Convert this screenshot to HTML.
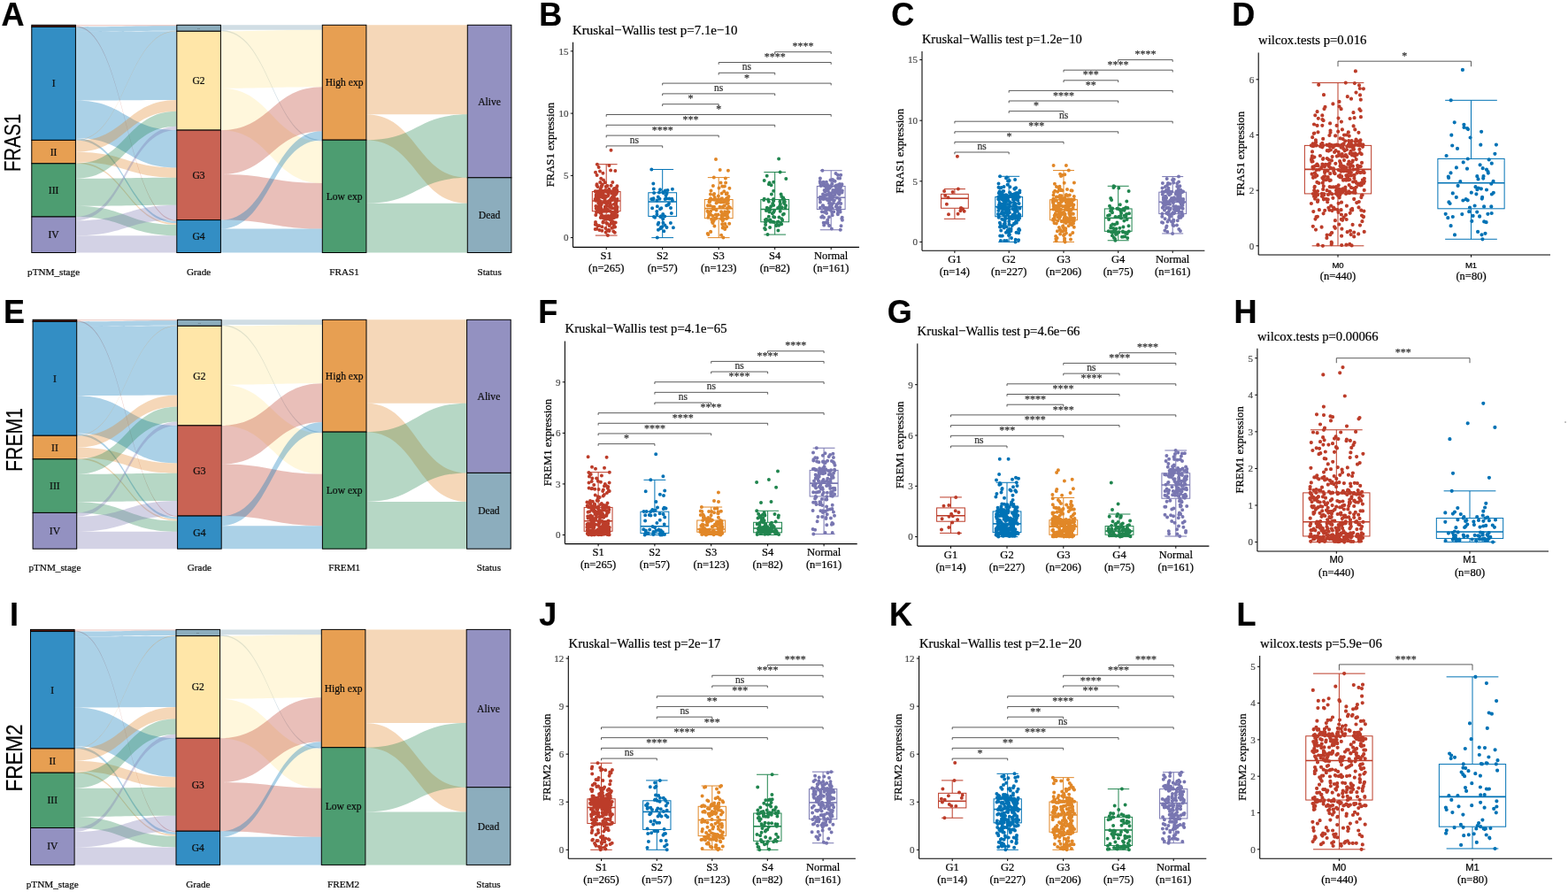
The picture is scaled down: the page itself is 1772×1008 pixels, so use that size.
<!DOCTYPE html>
<html><head><meta charset="utf-8"><title>Figure</title>
<style>html,body{margin:0;padding:0;background:#fff;}svg{display:block;}text{stroke:currentColor;stroke-width:0.22px;}</style></head>
<body><svg width="1772" height="1008" viewBox="0 0 1772 1008">
<rect width="1772" height="1008" fill="#fff"/>
<path d="M85.40,28.30 C142.60,28.30 142.60,28.30 199.80,28.30 L199.80,29.30 C142.60,29.30 142.60,29.30 85.40,29.30 Z" fill="#BC3C29" fill-opacity="0.33"/>
<path d="M85.40,29.30 C142.60,29.30 142.60,248.60 199.80,248.60 L199.80,249.70 C142.60,249.70 142.60,30.40 85.40,30.40 Z" fill="#BC3C29" fill-opacity="0.33"/>
<path d="M85.40,30.40 C142.60,30.40 142.60,29.30 199.80,29.30 L199.80,34.80 C142.60,34.80 142.60,35.90 85.40,35.90 Z" fill="#0072B5" fill-opacity="0.33"/>
<path d="M85.40,35.90 C142.60,35.90 142.60,35.30 199.80,35.30 L199.80,113.00 C142.60,113.00 142.60,113.60 85.40,113.60 Z" fill="#0072B5" fill-opacity="0.33"/>
<path d="M85.40,113.60 C142.60,113.60 142.60,147.10 199.80,147.10 L199.80,189.40 C142.60,189.40 142.60,155.90 85.40,155.90 Z" fill="#0072B5" fill-opacity="0.33"/>
<path d="M85.40,155.90 C142.60,155.90 142.60,249.70 199.80,249.70 L199.80,252.20 C142.60,252.20 142.60,158.40 85.40,158.40 Z" fill="#0072B5" fill-opacity="0.33"/>
<path d="M85.40,158.40 C142.60,158.40 142.60,34.80 199.80,34.80 L199.80,35.30 C142.60,35.30 142.60,158.90 85.40,158.90 Z" fill="#E18727" fill-opacity="0.33"/>
<path d="M85.40,158.90 C142.60,158.90 142.60,113.00 199.80,113.00 L199.80,125.80 C142.60,125.80 142.60,171.70 85.40,171.70 Z" fill="#E18727" fill-opacity="0.33"/>
<path d="M85.40,171.70 C142.60,171.70 142.60,189.40 199.80,189.40 L199.80,200.70 C142.60,200.70 142.60,183.00 85.40,183.00 Z" fill="#E18727" fill-opacity="0.33"/>
<path d="M85.40,183.00 C142.60,183.00 142.60,252.20 199.80,252.20 L199.80,254.00 C142.60,254.00 142.60,184.80 85.40,184.80 Z" fill="#E18727" fill-opacity="0.33"/>
<path d="M85.40,184.80 C142.60,184.80 142.60,125.80 199.80,125.80 L199.80,142.80 C142.60,142.80 142.60,201.80 85.40,201.80 Z" fill="#20854E" fill-opacity="0.33"/>
<path d="M85.40,201.80 C142.60,201.80 142.60,200.70 199.80,200.70 L199.80,231.70 C142.60,231.70 142.60,232.80 85.40,232.80 Z" fill="#20854E" fill-opacity="0.33"/>
<path d="M85.40,232.80 C142.60,232.80 142.60,254.00 199.80,254.00 L199.80,266.20 C142.60,266.20 142.60,245.00 85.40,245.00 Z" fill="#20854E" fill-opacity="0.33"/>
<path d="M85.40,245.00 C142.60,245.00 142.60,142.80 199.80,142.80 L199.80,147.10 C142.60,147.10 142.60,249.30 85.40,249.30 Z" fill="#7876B1" fill-opacity="0.33"/>
<path d="M85.40,249.30 C142.60,249.30 142.60,231.70 199.80,231.70 L199.80,248.60 C142.60,248.60 142.60,266.20 85.40,266.20 Z" fill="#7876B1" fill-opacity="0.33"/>
<path d="M85.40,266.20 C142.60,266.20 142.60,266.20 199.80,266.20 L199.80,285.50 C142.60,285.50 142.60,285.50 85.40,285.50 Z" fill="#7876B1" fill-opacity="0.33"/>
<path d="M249.40,28.30 C306.85,28.30 306.85,28.30 364.30,28.30 L364.30,33.80 C306.85,33.80 306.85,33.80 249.40,33.80 Z" fill="#6F99AD" fill-opacity="0.33"/>
<path d="M249.40,33.80 C306.85,33.80 306.85,158.20 364.30,158.20 L364.30,159.70 C306.85,159.70 306.85,35.30 249.40,35.30 Z" fill="#6F99AD" fill-opacity="0.33"/>
<path d="M249.40,35.30 C306.85,35.30 306.85,33.80 364.30,33.80 L364.30,98.20 C306.85,98.20 306.85,99.70 249.40,99.70 Z" fill="#FFE795" fill-opacity="0.33"/>
<path d="M249.40,99.70 C306.85,99.70 306.85,159.70 364.30,159.70 L364.30,207.10 C306.85,207.10 306.85,147.10 249.40,147.10 Z" fill="#FFE795" fill-opacity="0.33"/>
<path d="M249.40,147.10 C306.85,147.10 306.85,98.20 364.30,98.20 L364.30,148.20 C306.85,148.20 306.85,197.10 249.40,197.10 Z" fill="#BC3C29" fill-opacity="0.33"/>
<path d="M249.40,197.10 C306.85,197.10 306.85,207.10 364.30,207.10 L364.30,258.60 C306.85,258.60 306.85,248.60 249.40,248.60 Z" fill="#BC3C29" fill-opacity="0.33"/>
<path d="M249.40,248.60 C306.85,248.60 306.85,148.20 364.30,148.20 L364.30,158.20 C306.85,158.20 306.85,258.60 249.40,258.60 Z" fill="#0072B5" fill-opacity="0.33"/>
<path d="M249.40,258.60 C306.85,258.60 306.85,258.60 364.30,258.60 L364.30,285.50 C306.85,285.50 306.85,285.50 249.40,285.50 Z" fill="#0072B5" fill-opacity="0.33"/>
<path d="M413.90,28.30 C471.10,28.30 471.10,28.30 528.30,28.30 L528.30,129.30 C471.10,129.30 471.10,129.30 413.90,129.30 Z" fill="#E18727" fill-opacity="0.33"/>
<path d="M413.90,129.30 C471.10,129.30 471.10,200.80 528.30,200.80 L528.30,229.70 C471.10,229.70 471.10,158.20 413.90,158.20 Z" fill="#E18727" fill-opacity="0.33"/>
<path d="M413.90,158.20 C471.10,158.20 471.10,129.30 528.30,129.30 L528.30,200.80 C471.10,200.80 471.10,229.70 413.90,229.70 Z" fill="#20854E" fill-opacity="0.33"/>
<path d="M413.90,229.70 C471.10,229.70 471.10,229.70 528.30,229.70 L528.30,285.50 C471.10,285.50 471.10,285.50 413.90,285.50 Z" fill="#20854E" fill-opacity="0.33"/>
<rect x="35.80" y="28.30" width="49.60" height="2.10" fill="#5A1E14" stroke="#000" stroke-width="1"/>
<rect x="35.80" y="30.40" width="49.60" height="128.00" fill="#338EC4" stroke="#000" stroke-width="1"/>
<rect x="35.80" y="158.40" width="49.60" height="26.40" fill="#E79F52" stroke="#000" stroke-width="1"/>
<rect x="35.80" y="184.80" width="49.60" height="60.20" fill="#4D9D71" stroke="#000" stroke-width="1"/>
<rect x="35.80" y="245.00" width="49.60" height="40.50" fill="#9391C1" stroke="#000" stroke-width="1"/>
<text x="60.60" y="98.40" font-family="'Liberation Serif',serif" font-size="11.6" text-anchor="middle" fill="#111">I</text>
<text x="60.60" y="175.60" font-family="'Liberation Serif',serif" font-size="11.6" text-anchor="middle" fill="#111">II</text>
<text x="60.60" y="218.90" font-family="'Liberation Serif',serif" font-size="11.6" text-anchor="middle" fill="#111">III</text>
<text x="60.60" y="269.25" font-family="'Liberation Serif',serif" font-size="11.6" text-anchor="middle" fill="#111">IV</text>
<rect x="199.80" y="28.30" width="49.60" height="7.00" fill="#8CADBD" stroke="#000" stroke-width="1"/>
<rect x="199.80" y="35.30" width="49.60" height="111.80" fill="#FFE6A8" stroke="#000" stroke-width="1"/>
<rect x="199.80" y="147.10" width="49.60" height="101.50" fill="#C96354" stroke="#000" stroke-width="1"/>
<rect x="199.80" y="248.60" width="49.60" height="36.90" fill="#338EC4" stroke="#000" stroke-width="1"/>
<text x="224.60" y="32.60" font-family="'Liberation Serif',serif" font-size="2.5" text-anchor="middle" fill="#333" style="stroke:none">G1</text>
<text x="224.60" y="95.20" font-family="'Liberation Serif',serif" font-size="11.6" text-anchor="middle" fill="#111">G2</text>
<text x="224.60" y="201.85" font-family="'Liberation Serif',serif" font-size="11.6" text-anchor="middle" fill="#111">G3</text>
<text x="224.60" y="271.05" font-family="'Liberation Serif',serif" font-size="11.6" text-anchor="middle" fill="#111">G4</text>
<rect x="364.30" y="28.30" width="49.60" height="129.90" fill="#E79F52" stroke="#000" stroke-width="1"/>
<rect x="364.30" y="158.20" width="49.60" height="127.30" fill="#4D9D71" stroke="#000" stroke-width="1"/>
<text x="389.10" y="97.25" font-family="'Liberation Serif',serif" font-size="11.6" text-anchor="middle" fill="#111">High exp</text>
<text x="389.10" y="225.85" font-family="'Liberation Serif',serif" font-size="11.6" text-anchor="middle" fill="#111">Low exp</text>
<rect x="528.30" y="28.30" width="49.60" height="172.50" fill="#9391C1" stroke="#000" stroke-width="1"/>
<rect x="528.30" y="200.80" width="49.60" height="84.70" fill="#8CADBD" stroke="#000" stroke-width="1"/>
<text x="553.10" y="118.55" font-family="'Liberation Serif',serif" font-size="11.6" text-anchor="middle" fill="#111">Alive</text>
<text x="553.10" y="247.15" font-family="'Liberation Serif',serif" font-size="11.6" text-anchor="middle" fill="#111">Dead</text>
<text x="60.60" y="310.80" font-family="'Liberation Serif',serif" font-size="11.2" text-anchor="middle" fill="#111">pTNM_stage</text>
<text x="224.60" y="310.80" font-family="'Liberation Serif',serif" font-size="11.2" text-anchor="middle" fill="#111">Grade</text>
<text x="389.10" y="310.80" font-family="'Liberation Serif',serif" font-size="11.2" text-anchor="middle" fill="#111">FRAS1</text>
<text x="553.10" y="310.80" font-family="'Liberation Serif',serif" font-size="11.2" text-anchor="middle" fill="#111">Status</text>
<path d="M86.70,361.30 C143.65,361.30 143.65,361.30 200.60,361.30 L200.60,362.31 C143.65,362.31 143.65,362.31 86.70,362.31 Z" fill="#BC3C29" fill-opacity="0.33"/>
<path d="M86.70,362.31 C143.65,362.31 143.65,583.06 200.60,583.06 L200.60,584.16 C143.65,584.16 143.65,363.41 86.70,363.41 Z" fill="#BC3C29" fill-opacity="0.33"/>
<path d="M86.70,363.41 C143.65,363.41 143.65,362.31 200.60,362.31 L200.60,367.84 C143.65,367.84 143.65,368.95 86.70,368.95 Z" fill="#0072B5" fill-opacity="0.33"/>
<path d="M86.70,368.95 C143.65,368.95 143.65,368.35 200.60,368.35 L200.60,446.56 C143.65,446.56 143.65,447.16 86.70,447.16 Z" fill="#0072B5" fill-opacity="0.33"/>
<path d="M86.70,447.16 C143.65,447.16 143.65,480.89 200.60,480.89 L200.60,523.46 C143.65,523.46 143.65,489.74 86.70,489.74 Z" fill="#0072B5" fill-opacity="0.33"/>
<path d="M86.70,489.74 C143.65,489.74 143.65,584.16 200.60,584.16 L200.60,586.68 C143.65,586.68 143.65,492.26 86.70,492.26 Z" fill="#0072B5" fill-opacity="0.33"/>
<path d="M86.70,492.26 C143.65,492.26 143.65,367.84 200.60,367.84 L200.60,368.35 C143.65,368.35 143.65,492.76 86.70,492.76 Z" fill="#E18727" fill-opacity="0.33"/>
<path d="M86.70,492.76 C143.65,492.76 143.65,446.56 200.60,446.56 L200.60,459.44 C143.65,459.44 143.65,505.65 86.70,505.65 Z" fill="#E18727" fill-opacity="0.33"/>
<path d="M86.70,505.65 C143.65,505.65 143.65,523.46 200.60,523.46 L200.60,534.84 C143.65,534.84 143.65,517.02 86.70,517.02 Z" fill="#E18727" fill-opacity="0.33"/>
<path d="M86.70,517.02 C143.65,517.02 143.65,586.68 200.60,586.68 L200.60,588.49 C143.65,588.49 143.65,518.83 86.70,518.83 Z" fill="#E18727" fill-opacity="0.33"/>
<path d="M86.70,518.83 C143.65,518.83 143.65,459.44 200.60,459.44 L200.60,476.56 C143.65,476.56 143.65,535.95 86.70,535.95 Z" fill="#20854E" fill-opacity="0.33"/>
<path d="M86.70,535.95 C143.65,535.95 143.65,534.84 200.60,534.84 L200.60,566.04 C143.65,566.04 143.65,567.15 86.70,567.15 Z" fill="#20854E" fill-opacity="0.33"/>
<path d="M86.70,567.15 C143.65,567.15 143.65,588.49 200.60,588.49 L200.60,600.77 C143.65,600.77 143.65,579.43 86.70,579.43 Z" fill="#20854E" fill-opacity="0.33"/>
<path d="M86.70,579.43 C143.65,579.43 143.65,476.56 200.60,476.56 L200.60,480.89 C143.65,480.89 143.65,583.76 86.70,583.76 Z" fill="#7876B1" fill-opacity="0.33"/>
<path d="M86.70,583.76 C143.65,583.76 143.65,566.04 200.60,566.04 L200.60,583.06 C143.65,583.06 143.65,600.77 86.70,600.77 Z" fill="#7876B1" fill-opacity="0.33"/>
<path d="M86.70,600.77 C143.65,600.77 143.65,600.77 200.60,600.77 L200.60,620.20 C143.65,620.20 143.65,620.20 86.70,620.20 Z" fill="#7876B1" fill-opacity="0.33"/>
<path d="M250.20,361.30 C307.30,361.30 307.30,361.30 364.40,361.30 L364.40,366.94 C307.30,366.94 307.30,366.94 250.20,366.94 Z" fill="#6F99AD" fill-opacity="0.33"/>
<path d="M250.20,366.94 C307.30,366.94 307.30,488.14 364.40,488.14 L364.40,489.55 C307.30,489.55 307.30,368.35 250.20,368.35 Z" fill="#6F99AD" fill-opacity="0.33"/>
<path d="M250.20,368.35 C307.30,368.35 307.30,366.94 364.40,366.94 L364.40,433.34 C307.30,433.34 307.30,434.75 250.20,434.75 Z" fill="#FFE795" fill-opacity="0.33"/>
<path d="M250.20,434.75 C307.30,434.75 307.30,489.55 364.40,489.55 L364.40,535.69 C307.30,535.69 307.30,480.89 250.20,480.89 Z" fill="#FFE795" fill-opacity="0.33"/>
<path d="M250.20,480.89 C307.30,480.89 307.30,433.34 364.40,433.34 L364.40,477.03 C307.30,477.03 307.30,524.57 250.20,524.57 Z" fill="#BC3C29" fill-opacity="0.33"/>
<path d="M250.20,524.57 C307.30,524.57 307.30,535.69 364.40,535.69 L364.40,594.17 C307.30,594.17 307.30,583.06 250.20,583.06 Z" fill="#BC3C29" fill-opacity="0.33"/>
<path d="M250.20,583.06 C307.30,583.06 307.30,477.03 364.40,477.03 L364.40,488.14 C307.30,488.14 307.30,594.17 250.20,594.17 Z" fill="#0072B5" fill-opacity="0.33"/>
<path d="M250.20,594.17 C307.30,594.17 307.30,594.17 364.40,594.17 L364.40,620.20 C307.30,620.20 307.30,620.20 250.20,620.20 Z" fill="#0072B5" fill-opacity="0.33"/>
<path d="M414.00,361.30 C470.80,361.30 470.80,361.30 527.60,361.30 L527.60,455.66 C470.80,455.66 470.80,455.66 414.00,455.66 Z" fill="#E18727" fill-opacity="0.33"/>
<path d="M414.00,455.66 C470.80,455.66 470.80,534.41 527.60,534.41 L527.60,566.89 C470.80,566.89 470.80,488.14 414.00,488.14 Z" fill="#E18727" fill-opacity="0.33"/>
<path d="M414.00,488.14 C470.80,488.14 470.80,455.66 527.60,455.66 L527.60,534.41 C470.80,534.41 470.80,566.89 414.00,566.89 Z" fill="#20854E" fill-opacity="0.33"/>
<path d="M414.00,566.89 C470.80,566.89 470.80,566.89 527.60,566.89 L527.60,620.20 C470.80,620.20 470.80,620.20 414.00,620.20 Z" fill="#20854E" fill-opacity="0.33"/>
<rect x="37.10" y="361.30" width="49.60" height="2.11" fill="#5A1E14" stroke="#000" stroke-width="1"/>
<rect x="37.10" y="363.41" width="49.60" height="128.85" fill="#338EC4" stroke="#000" stroke-width="1"/>
<rect x="37.10" y="492.26" width="49.60" height="26.57" fill="#E79F52" stroke="#000" stroke-width="1"/>
<rect x="37.10" y="518.83" width="49.60" height="60.60" fill="#4D9D71" stroke="#000" stroke-width="1"/>
<rect x="37.10" y="579.43" width="49.60" height="40.77" fill="#9391C1" stroke="#000" stroke-width="1"/>
<text x="61.90" y="431.84" font-family="'Liberation Serif',serif" font-size="11.6" text-anchor="middle" fill="#111">I</text>
<text x="61.90" y="509.55" font-family="'Liberation Serif',serif" font-size="11.6" text-anchor="middle" fill="#111">II</text>
<text x="61.90" y="553.13" font-family="'Liberation Serif',serif" font-size="11.6" text-anchor="middle" fill="#111">III</text>
<text x="61.90" y="603.82" font-family="'Liberation Serif',serif" font-size="11.6" text-anchor="middle" fill="#111">IV</text>
<rect x="200.60" y="361.30" width="49.60" height="7.05" fill="#8CADBD" stroke="#000" stroke-width="1"/>
<rect x="200.60" y="368.35" width="49.60" height="112.54" fill="#FFE6A8" stroke="#000" stroke-width="1"/>
<rect x="200.60" y="480.89" width="49.60" height="102.17" fill="#C96354" stroke="#000" stroke-width="1"/>
<rect x="200.60" y="583.06" width="49.60" height="37.14" fill="#338EC4" stroke="#000" stroke-width="1"/>
<text x="225.40" y="365.62" font-family="'Liberation Serif',serif" font-size="2.5" text-anchor="middle" fill="#333" style="stroke:none">G1</text>
<text x="225.40" y="428.62" font-family="'Liberation Serif',serif" font-size="11.6" text-anchor="middle" fill="#111">G2</text>
<text x="225.40" y="535.97" font-family="'Liberation Serif',serif" font-size="11.6" text-anchor="middle" fill="#111">G3</text>
<text x="225.40" y="605.63" font-family="'Liberation Serif',serif" font-size="11.6" text-anchor="middle" fill="#111">G4</text>
<rect x="364.40" y="361.30" width="49.60" height="126.84" fill="#E79F52" stroke="#000" stroke-width="1"/>
<rect x="364.40" y="488.14" width="49.60" height="132.06" fill="#4D9D71" stroke="#000" stroke-width="1"/>
<text x="389.20" y="428.72" font-family="'Liberation Serif',serif" font-size="11.6" text-anchor="middle" fill="#111">High exp</text>
<text x="389.20" y="558.17" font-family="'Liberation Serif',serif" font-size="11.6" text-anchor="middle" fill="#111">Low exp</text>
<rect x="527.60" y="361.30" width="49.60" height="173.11" fill="#9391C1" stroke="#000" stroke-width="1"/>
<rect x="527.60" y="534.41" width="49.60" height="85.79" fill="#8CADBD" stroke="#000" stroke-width="1"/>
<text x="552.40" y="451.86" font-family="'Liberation Serif',serif" font-size="11.6" text-anchor="middle" fill="#111">Alive</text>
<text x="552.40" y="581.31" font-family="'Liberation Serif',serif" font-size="11.6" text-anchor="middle" fill="#111">Dead</text>
<text x="61.90" y="645.00" font-family="'Liberation Serif',serif" font-size="11.2" text-anchor="middle" fill="#111">pTNM_stage</text>
<text x="225.40" y="645.00" font-family="'Liberation Serif',serif" font-size="11.2" text-anchor="middle" fill="#111">Grade</text>
<text x="389.20" y="645.00" font-family="'Liberation Serif',serif" font-size="11.2" text-anchor="middle" fill="#111">FREM1</text>
<text x="552.40" y="645.00" font-family="'Liberation Serif',serif" font-size="11.2" text-anchor="middle" fill="#111">Status</text>
<path d="M84.10,711.40 C141.55,711.40 141.55,711.40 199.00,711.40 L199.00,712.43 C141.55,712.43 141.55,712.43 84.10,712.43 Z" fill="#BC3C29" fill-opacity="0.33"/>
<path d="M84.10,712.43 C141.55,712.43 141.55,939.24 199.00,939.24 L199.00,940.38 C141.55,940.38 141.55,713.57 84.10,713.57 Z" fill="#BC3C29" fill-opacity="0.33"/>
<path d="M84.10,713.57 C141.55,713.57 141.55,712.43 199.00,712.43 L199.00,718.12 C141.55,718.12 141.55,719.26 84.10,719.26 Z" fill="#0072B5" fill-opacity="0.33"/>
<path d="M84.10,719.26 C141.55,719.26 141.55,718.64 199.00,718.64 L199.00,799.00 C141.55,799.00 141.55,799.62 84.10,799.62 Z" fill="#0072B5" fill-opacity="0.33"/>
<path d="M84.10,799.62 C141.55,799.62 141.55,834.26 199.00,834.26 L199.00,878.01 C141.55,878.01 141.55,843.37 84.10,843.37 Z" fill="#0072B5" fill-opacity="0.33"/>
<path d="M84.10,843.37 C141.55,843.37 141.55,940.38 199.00,940.38 L199.00,942.96 C141.55,942.96 141.55,845.95 84.10,845.95 Z" fill="#0072B5" fill-opacity="0.33"/>
<path d="M84.10,845.95 C141.55,845.95 141.55,718.12 199.00,718.12 L199.00,718.64 C141.55,718.64 141.55,846.47 84.10,846.47 Z" fill="#E18727" fill-opacity="0.33"/>
<path d="M84.10,846.47 C141.55,846.47 141.55,799.00 199.00,799.00 L199.00,812.24 C141.55,812.24 141.55,859.71 84.10,859.71 Z" fill="#E18727" fill-opacity="0.33"/>
<path d="M84.10,859.71 C141.55,859.71 141.55,878.01 199.00,878.01 L199.00,889.70 C141.55,889.70 141.55,871.39 84.10,871.39 Z" fill="#E18727" fill-opacity="0.33"/>
<path d="M84.10,871.39 C141.55,871.39 141.55,942.96 199.00,942.96 L199.00,944.82 C141.55,944.82 141.55,873.25 84.10,873.25 Z" fill="#E18727" fill-opacity="0.33"/>
<path d="M84.10,873.25 C141.55,873.25 141.55,812.24 199.00,812.24 L199.00,829.82 C141.55,829.82 141.55,890.84 84.10,890.84 Z" fill="#20854E" fill-opacity="0.33"/>
<path d="M84.10,890.84 C141.55,890.84 141.55,889.70 199.00,889.70 L199.00,921.76 C141.55,921.76 141.55,922.90 84.10,922.90 Z" fill="#20854E" fill-opacity="0.33"/>
<path d="M84.10,922.90 C141.55,922.90 141.55,944.82 199.00,944.82 L199.00,957.44 C141.55,957.44 141.55,935.51 84.10,935.51 Z" fill="#20854E" fill-opacity="0.33"/>
<path d="M84.10,935.51 C141.55,935.51 141.55,829.82 199.00,829.82 L199.00,834.26 C141.55,834.26 141.55,939.96 84.10,939.96 Z" fill="#7876B1" fill-opacity="0.33"/>
<path d="M84.10,939.96 C141.55,939.96 141.55,921.76 199.00,921.76 L199.00,939.24 C141.55,939.24 141.55,957.44 84.10,957.44 Z" fill="#7876B1" fill-opacity="0.33"/>
<path d="M84.10,957.44 C141.55,957.44 141.55,957.44 199.00,957.44 L199.00,977.40 C141.55,977.40 141.55,977.40 84.10,977.40 Z" fill="#7876B1" fill-opacity="0.33"/>
<path d="M248.60,711.40 C305.95,711.40 305.95,711.40 363.30,711.40 L363.30,717.23 C305.95,717.23 305.95,717.23 248.60,717.23 Z" fill="#6F99AD" fill-opacity="0.33"/>
<path d="M248.60,717.23 C305.95,717.23 305.95,844.71 363.30,844.71 L363.30,846.11 C305.95,846.11 305.95,718.64 248.60,718.64 Z" fill="#6F99AD" fill-opacity="0.33"/>
<path d="M248.60,718.64 C305.95,718.64 305.95,717.23 363.30,717.23 L363.30,788.33 C305.95,788.33 305.95,789.74 248.60,789.74 Z" fill="#FFE795" fill-opacity="0.33"/>
<path d="M248.60,789.74 C305.95,789.74 305.95,846.11 363.30,846.11 L363.30,890.64 C305.95,890.64 305.95,834.26 248.60,834.26 Z" fill="#FFE795" fill-opacity="0.33"/>
<path d="M248.60,834.26 C305.95,834.26 305.95,788.33 363.30,788.33 L363.30,838.16 C305.95,838.16 305.95,884.09 248.60,884.09 Z" fill="#BC3C29" fill-opacity="0.33"/>
<path d="M248.60,884.09 C305.95,884.09 305.95,890.64 363.30,890.64 L363.30,945.78 C305.95,945.78 305.95,939.24 248.60,939.24 Z" fill="#BC3C29" fill-opacity="0.33"/>
<path d="M248.60,939.24 C305.95,939.24 305.95,838.16 363.30,838.16 L363.30,844.71 C305.95,844.71 305.95,945.78 248.60,945.78 Z" fill="#0072B5" fill-opacity="0.33"/>
<path d="M248.60,945.78 C305.95,945.78 305.95,945.78 363.30,945.78 L363.30,977.40 C305.95,977.40 305.95,977.40 248.60,977.40 Z" fill="#0072B5" fill-opacity="0.33"/>
<path d="M412.90,711.40 C470.05,711.40 470.05,711.40 527.20,711.40 L527.20,817.01 C470.05,817.01 470.05,817.01 412.90,817.01 Z" fill="#E18727" fill-opacity="0.33"/>
<path d="M412.90,817.01 C470.05,817.01 470.05,889.69 527.20,889.69 L527.20,917.39 C470.05,917.39 470.05,844.71 412.90,844.71 Z" fill="#E18727" fill-opacity="0.33"/>
<path d="M412.90,844.71 C470.05,844.71 470.05,817.01 527.20,817.01 L527.20,889.69 C470.05,889.69 470.05,917.39 412.90,917.39 Z" fill="#20854E" fill-opacity="0.33"/>
<path d="M412.90,917.39 C470.05,917.39 470.05,917.39 527.20,917.39 L527.20,977.40 C470.05,977.40 470.05,977.40 412.90,977.40 Z" fill="#20854E" fill-opacity="0.33"/>
<rect x="34.50" y="711.40" width="49.60" height="2.17" fill="#5A1E14" stroke="#000" stroke-width="1"/>
<rect x="34.50" y="713.57" width="49.60" height="132.38" fill="#338EC4" stroke="#000" stroke-width="1"/>
<rect x="34.50" y="845.95" width="49.60" height="27.30" fill="#E79F52" stroke="#000" stroke-width="1"/>
<rect x="34.50" y="873.25" width="49.60" height="62.26" fill="#4D9D71" stroke="#000" stroke-width="1"/>
<rect x="34.50" y="935.51" width="49.60" height="41.89" fill="#9391C1" stroke="#000" stroke-width="1"/>
<text x="59.30" y="783.76" font-family="'Liberation Serif',serif" font-size="11.6" text-anchor="middle" fill="#111">I</text>
<text x="59.30" y="863.60" font-family="'Liberation Serif',serif" font-size="11.6" text-anchor="middle" fill="#111">II</text>
<text x="59.30" y="908.38" font-family="'Liberation Serif',serif" font-size="11.6" text-anchor="middle" fill="#111">III</text>
<text x="59.30" y="960.46" font-family="'Liberation Serif',serif" font-size="11.6" text-anchor="middle" fill="#111">IV</text>
<rect x="199.00" y="711.40" width="49.60" height="7.24" fill="#8CADBD" stroke="#000" stroke-width="1"/>
<rect x="199.00" y="718.64" width="49.60" height="115.63" fill="#FFE6A8" stroke="#000" stroke-width="1"/>
<rect x="199.00" y="834.26" width="49.60" height="104.97" fill="#C96354" stroke="#000" stroke-width="1"/>
<rect x="199.00" y="939.24" width="49.60" height="38.16" fill="#338EC4" stroke="#000" stroke-width="1"/>
<text x="223.80" y="715.82" font-family="'Liberation Serif',serif" font-size="2.5" text-anchor="middle" fill="#333" style="stroke:none">G1</text>
<text x="223.80" y="780.45" font-family="'Liberation Serif',serif" font-size="11.6" text-anchor="middle" fill="#111">G2</text>
<text x="223.80" y="890.75" font-family="'Liberation Serif',serif" font-size="11.6" text-anchor="middle" fill="#111">G3</text>
<text x="223.80" y="962.32" font-family="'Liberation Serif',serif" font-size="11.6" text-anchor="middle" fill="#111">G4</text>
<rect x="363.30" y="711.40" width="49.60" height="133.31" fill="#E79F52" stroke="#000" stroke-width="1"/>
<rect x="363.30" y="844.71" width="49.60" height="132.69" fill="#4D9D71" stroke="#000" stroke-width="1"/>
<text x="388.10" y="782.05" font-family="'Liberation Serif',serif" font-size="11.6" text-anchor="middle" fill="#111">High exp</text>
<text x="388.10" y="915.05" font-family="'Liberation Serif',serif" font-size="11.6" text-anchor="middle" fill="#111">Low exp</text>
<rect x="527.20" y="711.40" width="49.60" height="178.29" fill="#9391C1" stroke="#000" stroke-width="1"/>
<rect x="527.20" y="889.69" width="49.60" height="87.71" fill="#8CADBD" stroke="#000" stroke-width="1"/>
<text x="552.00" y="804.55" font-family="'Liberation Serif',serif" font-size="11.6" text-anchor="middle" fill="#111">Alive</text>
<text x="552.00" y="937.55" font-family="'Liberation Serif',serif" font-size="11.6" text-anchor="middle" fill="#111">Dead</text>
<text x="59.30" y="1002.80" font-family="'Liberation Serif',serif" font-size="11.2" text-anchor="middle" fill="#111">pTNM_stage</text>
<text x="223.80" y="1002.80" font-family="'Liberation Serif',serif" font-size="11.2" text-anchor="middle" fill="#111">Grade</text>
<text x="388.10" y="1002.80" font-family="'Liberation Serif',serif" font-size="11.2" text-anchor="middle" fill="#111">FREM2</text>
<text x="552.00" y="1002.80" font-family="'Liberation Serif',serif" font-size="11.2" text-anchor="middle" fill="#111">Status</text>
<line x1="685.20" y1="185.71" x2="685.20" y2="216.47" stroke="#BC3C29" stroke-width="1"/>
<line x1="685.20" y1="238.67" x2="685.20" y2="266.07" stroke="#BC3C29" stroke-width="1"/>
<line x1="672.82" y1="185.71" x2="697.58" y2="185.71" stroke="#BC3C29" stroke-width="1"/>
<line x1="672.82" y1="266.07" x2="697.58" y2="266.07" stroke="#BC3C29" stroke-width="1"/>
<rect x="669.33" y="216.47" width="31.75" height="22.20" fill="#fff" stroke="#BC3C29" stroke-width="1"/>
<line x1="669.33" y1="227.01" x2="701.08" y2="227.01" stroke="#BC3C29" stroke-width="1.6"/>
<line x1="748.70" y1="191.47" x2="748.70" y2="217.74" stroke="#0072B5" stroke-width="1"/>
<line x1="748.70" y1="244.43" x2="748.70" y2="268.60" stroke="#0072B5" stroke-width="1"/>
<line x1="736.32" y1="191.47" x2="761.08" y2="191.47" stroke="#0072B5" stroke-width="1"/>
<line x1="736.32" y1="268.60" x2="761.08" y2="268.60" stroke="#0072B5" stroke-width="1"/>
<rect x="732.83" y="217.74" width="31.75" height="26.69" fill="#fff" stroke="#0072B5" stroke-width="1"/>
<line x1="732.83" y1="228.00" x2="764.58" y2="228.00" stroke="#0072B5" stroke-width="1.6"/>
<line x1="812.20" y1="200.60" x2="812.20" y2="225.47" stroke="#E18727" stroke-width="1"/>
<line x1="812.20" y1="246.68" x2="812.20" y2="268.60" stroke="#E18727" stroke-width="1"/>
<line x1="799.82" y1="200.60" x2="824.58" y2="200.60" stroke="#E18727" stroke-width="1"/>
<line x1="799.82" y1="268.60" x2="824.58" y2="268.60" stroke="#E18727" stroke-width="1"/>
<rect x="796.33" y="225.47" width="31.75" height="21.22" fill="#fff" stroke="#E18727" stroke-width="1"/>
<line x1="796.33" y1="235.58" x2="828.08" y2="235.58" stroke="#E18727" stroke-width="1.6"/>
<line x1="875.70" y1="194.56" x2="875.70" y2="225.47" stroke="#20854E" stroke-width="1"/>
<line x1="875.70" y1="250.76" x2="875.70" y2="265.09" stroke="#20854E" stroke-width="1"/>
<line x1="863.32" y1="194.56" x2="888.08" y2="194.56" stroke="#20854E" stroke-width="1"/>
<line x1="863.32" y1="265.09" x2="888.08" y2="265.09" stroke="#20854E" stroke-width="1"/>
<rect x="859.83" y="225.47" width="31.75" height="25.29" fill="#fff" stroke="#20854E" stroke-width="1"/>
<line x1="859.83" y1="236.57" x2="891.58" y2="236.57" stroke="#20854E" stroke-width="1.6"/>
<line x1="939.20" y1="192.73" x2="939.20" y2="210.43" stroke="#7876B1" stroke-width="1"/>
<line x1="939.20" y1="236.57" x2="939.20" y2="259.75" stroke="#7876B1" stroke-width="1"/>
<line x1="926.82" y1="192.73" x2="951.58" y2="192.73" stroke="#7876B1" stroke-width="1"/>
<line x1="926.82" y1="259.75" x2="951.58" y2="259.75" stroke="#7876B1" stroke-width="1"/>
<rect x="923.33" y="210.43" width="31.75" height="26.13" fill="#fff" stroke="#7876B1" stroke-width="1"/>
<line x1="923.33" y1="223.22" x2="955.08" y2="223.22" stroke="#7876B1" stroke-width="1.6"/>
<path d="M690.5 232.1h0M690.8 243.5h0M683.9 244.2h0M688.6 254.2h0M678.3 214.7h0M673.0 194.7h0M689.7 238.7h0M684.6 216.4h0M695.5 236.9h0M679.2 201.8h0M693.3 261.4h0M697.6 233.9h0M695.3 193.1h0M697.0 245.1h0M676.5 237.4h0M676.7 219.3h0M678.3 227.8h0M681.7 246.3h0M675.4 255.3h0M676.3 220.2h0M673.0 216.3h0M696.2 230.0h0M681.7 216.3h0M688.4 261.0h0M684.0 215.0h0M691.4 240.1h0M693.0 250.8h0M682.2 222.4h0M686.1 229.4h0M675.0 238.3h0M679.8 211.1h0M678.2 227.2h0M680.3 260.7h0M680.7 221.9h0M687.1 247.6h0M681.0 245.1h0M680.8 244.1h0M693.6 213.7h0M672.8 253.8h0M672.6 225.1h0M674.0 239.9h0M694.5 224.7h0M688.6 255.1h0M691.0 234.5h0M696.8 238.7h0M678.0 233.9h0M695.9 233.3h0M678.7 213.0h0M685.7 237.0h0M689.8 231.0h0M692.8 257.1h0M678.8 246.0h0M684.6 262.6h0M673.7 220.1h0M679.8 236.8h0M697.4 239.4h0M695.5 220.1h0M687.3 244.0h0M692.5 235.2h0M695.4 226.5h0M680.9 221.3h0M697.4 210.3h0M683.9 234.2h0M676.5 227.3h0M686.0 238.7h0M687.6 219.7h0M690.1 192.6h0M689.5 244.5h0M673.6 221.7h0M688.7 216.5h0M695.9 243.0h0M689.5 229.2h0M697.3 216.4h0M685.5 230.4h0M693.1 216.2h0M676.1 216.8h0M695.2 218.0h0M683.6 225.3h0M694.8 262.8h0M680.6 219.8h0M688.4 187.1h0M694.0 223.3h0M690.6 216.2h0M688.2 213.8h0M697.2 236.4h0M674.7 238.9h0M675.1 224.9h0M686.5 236.7h0M696.7 218.7h0M689.9 231.4h0M680.4 208.3h0M675.2 239.4h0M683.9 222.7h0M684.7 222.7h0M684.4 246.1h0M688.2 227.1h0M679.4 244.6h0M694.9 242.0h0M679.8 240.1h0M675.2 239.3h0M681.4 251.4h0M696.3 231.9h0M676.5 234.4h0M679.6 210.2h0M696.0 238.4h0M681.3 222.1h0M693.9 240.4h0M673.7 235.7h0M695.1 256.4h0M678.5 240.8h0M677.1 232.3h0M691.4 242.1h0M697.6 224.9h0M696.9 227.0h0M691.6 224.4h0M695.7 216.7h0M697.6 216.6h0M686.5 210.1h0M676.2 229.4h0M694.1 235.6h0M682.6 216.1h0M680.4 216.4h0M685.2 251.9h0M673.4 233.1h0M673.0 251.0h0M679.2 231.4h0M687.6 217.0h0M691.5 257.8h0M696.8 239.8h0M693.3 221.0h0M696.4 212.6h0M688.7 217.1h0M691.1 226.2h0M687.4 220.9h0M674.6 197.9h0M674.1 233.7h0M691.8 216.2h0M677.6 222.3h0M692.6 216.3h0M684.3 258.0h0M672.7 258.9h0M686.8 260.6h0M683.8 228.9h0M674.4 209.5h0M679.1 229.7h0M680.3 216.6h0M681.3 219.0h0M690.5 216.4h0M676.7 216.5h0M683.8 206.2h0M687.9 259.7h0M696.5 213.1h0M675.4 216.3h0M674.5 208.3h0M677.4 259.9h0M678.1 235.5h0M676.6 189.1h0M674.4 258.7h0M677.8 219.0h0M678.2 206.1h0M684.7 211.0h0M689.0 254.3h0M681.7 216.0h0M676.8 226.5h0M674.9 185.7h0M679.2 217.4h0M676.8 218.9h0M684.7 233.6h0M694.6 214.1h0M690.7 246.1h0M677.7 230.0h0M673.4 226.7h0M674.2 216.5h0M683.6 221.2h0M681.7 221.2h0M689.8 248.5h0M674.6 224.5h0M679.0 232.4h0M689.9 234.5h0M686.9 247.4h0M685.6 245.2h0M695.4 238.8h0M675.4 211.0h0M677.5 219.7h0M686.9 216.4h0M686.9 266.1h0M697.4 243.6h0M697.3 227.0h0M687.4 228.9h0M691.8 235.2h0M690.2 225.5h0M675.9 233.7h0M687.8 237.9h0M680.3 243.6h0M681.6 250.5h0M676.5 224.7h0M672.7 216.3h0M694.2 213.1h0M690.7 216.4h0M691.6 222.9h0M679.8 230.3h0M683.1 238.8h0M677.0 255.0h0M687.8 214.7h0M693.8 254.2h0M692.3 205.9h0M696.2 231.5h0M679.1 229.1h0M690.3 224.7h0M675.7 225.8h0M686.1 228.5h0M675.3 224.2h0M686.2 252.4h0M686.3 221.8h0M681.3 238.3h0M681.4 223.2h0M690.6 209.7h0M684.7 216.5h0M682.9 228.5h0M675.4 222.0h0M679.7 231.0h0M694.0 244.5h0M697.2 215.1h0M682.0 203.5h0M694.6 242.8h0M694.7 213.5h0M678.0 193.5h0M679.5 222.6h0M690.2 224.8h0M680.3 256.2h0M696.8 211.9h0M681.8 217.8h0M691.0 250.1h0M690.5 252.6h0M677.9 227.1h0M694.5 243.1h0M680.8 208.7h0M675.3 216.9h0M673.8 253.6h0M684.0 247.7h0M688.6 260.7h0M679.4 216.5h0M693.9 216.2h0M679.3 235.6h0M694.0 230.8h0M673.3 243.1h0M679.2 237.5h0M676.6 226.5h0M683.9 233.4h0M681.4 195.8h0M682.5 228.6h0M694.1 245.9h0M687.2 218.3h0M687.9 245.5h0M682.4 223.8h0M693.0 216.9h0M685.2 233.3h0M691.4 218.6h0M695.7 251.5h0M688.0 233.0h0M683.6 235.9h0M679.2 215.3h0M695.7 228.6h0M691.9 247.1h0M690.5 169.8h0" stroke="#BC3C29" stroke-width="4.0" stroke-linecap="round" fill="none"/>
<path d="M753.5 218.7h0M742.8 268.6h0M738.3 207.5h0M742.4 242.3h0M744.3 251.7h0M751.4 254.6h0M746.5 244.6h0M743.9 259.7h0M738.5 224.3h0M751.2 244.4h0M738.8 213.5h0M749.1 217.2h0M753.5 257.0h0M751.8 215.4h0M740.1 245.8h0M745.0 217.4h0M759.9 226.5h0M738.3 225.3h0M753.2 232.2h0M747.1 256.7h0M751.6 225.1h0M746.0 236.2h0M739.1 217.9h0M750.3 261.3h0M736.2 225.1h0M757.9 252.0h0M756.3 224.6h0M745.5 224.8h0M749.6 218.1h0M749.4 251.7h0M760.9 257.2h0M737.1 235.2h0M743.6 253.6h0M746.3 244.9h0M756.0 229.9h0M754.5 215.0h0M746.8 244.5h0M736.3 191.5h0M752.5 220.9h0M746.3 258.3h0M739.0 245.0h0M752.0 215.4h0M747.3 235.3h0M743.8 222.4h0M742.8 233.3h0M749.2 247.5h0M742.3 239.0h0M746.0 214.3h0M759.9 213.7h0M748.1 256.6h0M742.4 226.4h0M749.2 242.0h0M759.3 224.7h0M758.0 235.1h0M753.2 224.6h0M758.8 241.1h0M755.2 231.4h0" stroke="#0072B5" stroke-width="4.0" stroke-linecap="round" fill="none"/>
<path d="M806.1 250.2h0M809.5 229.5h0M799.5 238.8h0M806.8 248.9h0M814.8 228.6h0M815.1 239.2h0M815.0 247.3h0M816.0 224.3h0M815.1 265.7h0M800.4 265.0h0M816.1 243.1h0M814.3 225.3h0M805.0 250.9h0M810.2 228.2h0M805.5 244.1h0M821.5 241.9h0M806.6 220.3h0M803.6 225.4h0M819.7 240.7h0M818.8 232.6h0M821.1 246.9h0M816.7 257.5h0M810.1 243.5h0M811.6 225.5h0M813.6 228.2h0M814.6 206.5h0M823.5 233.6h0M806.2 236.2h0M819.0 226.6h0M799.9 232.2h0M804.3 225.5h0M823.5 239.6h0M805.9 236.1h0M812.5 212.5h0M822.8 229.7h0M816.1 253.3h0M811.9 221.5h0M817.3 256.6h0M824.4 212.7h0M823.4 222.0h0M804.1 248.0h0M803.1 242.6h0M806.8 200.6h0M803.2 262.1h0M818.9 210.5h0M820.7 219.3h0M803.1 224.3h0M801.4 227.9h0M807.7 222.9h0M816.9 228.1h0M819.1 239.3h0M811.2 226.2h0M815.7 245.1h0M822.8 224.1h0M821.9 242.0h0M802.5 225.3h0M817.6 228.4h0M819.2 259.0h0M822.5 239.1h0M810.1 226.4h0M803.5 215.4h0M811.5 242.5h0M808.9 242.6h0M809.5 237.4h0M819.9 201.4h0M816.1 241.8h0M816.8 249.5h0M816.1 242.0h0M803.1 261.7h0M801.0 243.2h0M809.5 225.5h0M821.1 256.2h0M816.0 246.1h0M819.6 227.5h0M815.3 247.6h0M819.4 253.1h0M824.8 234.6h0M817.6 257.3h0M821.4 230.1h0M824.2 252.7h0M818.3 216.2h0M820.1 206.6h0M801.5 228.3h0M800.4 239.6h0M823.0 226.3h0M805.5 252.1h0M807.3 225.8h0M802.9 219.4h0M815.6 218.5h0M800.3 245.8h0M819.8 225.5h0M807.1 219.1h0M818.4 243.4h0M822.6 245.8h0M817.0 233.5h0M810.3 228.7h0M815.4 247.2h0M821.2 226.1h0M817.6 247.7h0M805.9 210.1h0M799.7 264.0h0M821.8 218.3h0M815.3 243.4h0M801.1 241.2h0M813.5 233.7h0M814.5 228.3h0M807.0 233.8h0M822.0 235.2h0M805.6 233.8h0M803.2 238.8h0M807.4 255.4h0M808.1 246.7h0M822.0 244.5h0M816.2 210.4h0M802.6 232.3h0M809.5 246.7h0M802.1 228.1h0M817.4 268.6h0M821.2 223.9h0M801.9 226.0h0M809.0 180.1h0M813.7 192.0h0M822.9 192.7h0" stroke="#E18727" stroke-width="4.0" stroke-linecap="round" fill="none"/>
<path d="M869.7 235.8h0M884.2 248.7h0M874.6 251.1h0M880.1 254.7h0M879.6 250.6h0M881.6 194.6h0M874.2 232.0h0M866.7 198.7h0M883.4 247.3h0M874.2 225.1h0M874.2 205.7h0M882.3 252.0h0M880.4 245.5h0M888.1 232.3h0M872.9 241.2h0M879.1 234.9h0M865.1 251.3h0M865.9 237.9h0M869.5 236.3h0M870.1 257.0h0M874.3 227.1h0M868.8 227.8h0M886.8 228.1h0M873.9 225.4h0M872.7 250.8h0M885.9 229.0h0M883.2 253.3h0M882.6 219.6h0M886.2 225.5h0M881.7 238.7h0M870.8 250.7h0M887.4 234.7h0M863.7 224.7h0M885.8 228.2h0M873.7 225.9h0M871.6 209.3h0M875.1 238.0h0M873.2 230.0h0M884.9 242.6h0M883.5 234.2h0M882.0 234.7h0M868.9 208.3h0M874.2 215.7h0M864.9 248.6h0M881.9 230.6h0M864.1 257.9h0M873.1 250.8h0M866.8 234.7h0M884.6 225.1h0M886.3 229.9h0M870.4 236.9h0M885.2 223.4h0M867.5 265.1h0M881.1 232.9h0M869.4 239.5h0M874.3 239.7h0M878.5 251.1h0M871.9 219.4h0M868.0 225.6h0M877.9 253.7h0M883.2 221.9h0M888.3 202.1h0M871.2 233.2h0M869.5 206.5h0M864.9 259.3h0M868.2 236.6h0M863.7 204.1h0M869.3 249.1h0M881.4 227.7h0M865.9 248.8h0M879.4 260.4h0M870.5 248.4h0M868.8 244.8h0M875.3 245.6h0M874.1 245.1h0M874.3 225.6h0M866.0 247.8h0M877.3 255.1h0M885.9 241.8h0M863.2 225.9h0M865.1 253.9h0M880.1 179.4h0" stroke="#20854E" stroke-width="4.0" stroke-linecap="round" fill="none"/>
<path d="M944.8 233.5h0M935.3 251.7h0M939.4 234.5h0M934.9 215.3h0M940.7 235.3h0M934.6 237.1h0M938.1 229.5h0M926.7 205.1h0M926.9 234.8h0M939.4 219.6h0M947.3 209.6h0M951.9 248.7h0M946.9 242.2h0M939.8 203.7h0M942.9 217.2h0M943.6 220.1h0M945.0 213.2h0M951.7 245.7h0M935.2 251.9h0M937.8 221.4h0M946.3 216.8h0M932.0 210.3h0M928.9 239.3h0M949.3 237.7h0M926.9 201.6h0M949.2 234.3h0M949.7 259.7h0M930.7 251.8h0M945.7 231.1h0M933.8 235.1h0M933.4 224.7h0M951.5 208.3h0M949.0 207.9h0M945.9 223.4h0M937.6 212.5h0M951.5 217.6h0M941.0 204.0h0M951.4 217.3h0M944.8 210.2h0M927.7 210.1h0M946.8 197.8h0M947.8 213.3h0M948.9 217.9h0M942.3 215.3h0M927.5 209.6h0M948.5 219.8h0M937.2 233.9h0M931.5 234.6h0M931.8 239.8h0M931.6 215.0h0M947.2 201.4h0M928.3 209.7h0M949.8 212.0h0M926.9 228.6h0M944.9 217.3h0M932.4 216.5h0M939.6 225.2h0M931.0 245.7h0M949.4 214.3h0M930.5 205.8h0M938.4 237.6h0M942.0 229.2h0M938.0 225.1h0M932.0 221.3h0M933.9 205.8h0M950.2 197.8h0M929.7 232.3h0M926.9 206.7h0M949.6 239.4h0M949.0 225.8h0M943.9 210.2h0M938.5 203.6h0M950.7 209.9h0M937.0 229.7h0M926.8 225.2h0M937.6 237.0h0M939.9 258.4h0M940.4 207.8h0M949.1 201.6h0M928.2 208.9h0M948.2 228.7h0M939.8 210.4h0M945.1 232.9h0M937.0 227.2h0M934.0 212.6h0M935.0 225.9h0M933.5 214.9h0M938.0 218.6h0M941.7 222.3h0M947.6 218.8h0M930.9 234.5h0M937.9 232.9h0M940.0 231.6h0M947.3 229.8h0M944.5 196.1h0M942.3 217.7h0M943.6 204.8h0M937.9 210.6h0M947.0 214.6h0M947.8 215.3h0M940.9 202.9h0M929.5 224.8h0M937.3 255.1h0M933.2 237.7h0M931.4 208.6h0M934.0 225.1h0M947.3 209.1h0M935.3 226.1h0M937.4 218.3h0M936.2 219.1h0M931.2 254.6h0M941.0 225.8h0M937.1 212.1h0M950.3 230.0h0M942.2 239.2h0M951.3 247.1h0M948.3 210.4h0M939.0 236.5h0M926.9 222.7h0M931.9 224.4h0M929.5 244.2h0M945.2 209.4h0M930.0 219.4h0M942.9 226.2h0M934.7 220.0h0M938.7 210.1h0M945.7 216.3h0M934.1 240.9h0M930.9 223.5h0M933.8 220.3h0M950.5 255.3h0M940.5 240.1h0M933.8 211.1h0M930.2 232.3h0M928.2 245.4h0M935.0 208.5h0M942.1 204.1h0M938.1 235.7h0M947.1 234.9h0M951.8 215.4h0M941.0 217.1h0M935.3 248.5h0M946.7 241.2h0M928.8 222.7h0M945.8 213.2h0M948.9 216.9h0M946.2 236.5h0M929.0 209.6h0M941.3 214.9h0M946.9 237.9h0M937.0 245.2h0M947.9 208.7h0M930.7 225.0h0M939.9 220.9h0M940.7 243.3h0M946.5 215.0h0M937.0 254.9h0M933.1 251.4h0M944.6 210.0h0M929.4 192.7h0M935.8 215.0h0" stroke="#7876B1" stroke-width="4.0" stroke-linecap="round" fill="none"/>
<line x1="647.50" y1="47.70" x2="647.50" y2="279.40" stroke="#000" stroke-width="1.07"/>
<line x1="647.50" y1="279.40" x2="971.00" y2="279.40" stroke="#000" stroke-width="1.07"/>
<line x1="644.80" y1="268.60" x2="647.50" y2="268.60" stroke="#000" stroke-width="1"/>
<text x="642.50" y="272.40" font-family="'Liberation Serif',serif" font-size="11" text-anchor="end" fill="#4D4D4D" color="#4D4D4D">0</text>
<line x1="644.80" y1="198.35" x2="647.50" y2="198.35" stroke="#000" stroke-width="1"/>
<text x="642.50" y="202.15" font-family="'Liberation Serif',serif" font-size="11" text-anchor="end" fill="#4D4D4D" color="#4D4D4D">5</text>
<line x1="644.80" y1="128.10" x2="647.50" y2="128.10" stroke="#000" stroke-width="1"/>
<text x="642.50" y="131.90" font-family="'Liberation Serif',serif" font-size="11" text-anchor="end" fill="#4D4D4D" color="#4D4D4D">10</text>
<line x1="644.80" y1="57.85" x2="647.50" y2="57.85" stroke="#000" stroke-width="1"/>
<text x="642.50" y="61.65" font-family="'Liberation Serif',serif" font-size="11" text-anchor="end" fill="#4D4D4D" color="#4D4D4D">15</text>
<line x1="685.20" y1="279.40" x2="685.20" y2="282.10" stroke="#000" stroke-width="1"/>
<text x="685.20" y="292.90" font-family="'Liberation Serif',serif" font-size="12.5" text-anchor="middle" fill="#000">S1</text>
<text x="685.20" y="307.00" font-family="'Liberation Serif',serif" font-size="12.5" text-anchor="middle" fill="#000">(n=265)</text>
<line x1="748.70" y1="279.40" x2="748.70" y2="282.10" stroke="#000" stroke-width="1"/>
<text x="748.70" y="292.90" font-family="'Liberation Serif',serif" font-size="12.5" text-anchor="middle" fill="#000">S2</text>
<text x="748.70" y="307.00" font-family="'Liberation Serif',serif" font-size="12.5" text-anchor="middle" fill="#000">(n=57)</text>
<line x1="812.20" y1="279.40" x2="812.20" y2="282.10" stroke="#000" stroke-width="1"/>
<text x="812.20" y="292.90" font-family="'Liberation Serif',serif" font-size="12.5" text-anchor="middle" fill="#000">S3</text>
<text x="812.20" y="307.00" font-family="'Liberation Serif',serif" font-size="12.5" text-anchor="middle" fill="#000">(n=123)</text>
<line x1="875.70" y1="279.40" x2="875.70" y2="282.10" stroke="#000" stroke-width="1"/>
<text x="875.70" y="292.90" font-family="'Liberation Serif',serif" font-size="12.5" text-anchor="middle" fill="#000">S4</text>
<text x="875.70" y="307.00" font-family="'Liberation Serif',serif" font-size="12.5" text-anchor="middle" fill="#000">(n=82)</text>
<line x1="939.20" y1="279.40" x2="939.20" y2="282.10" stroke="#000" stroke-width="1"/>
<text x="939.20" y="292.90" font-family="'Liberation Serif',serif" font-size="12.5" text-anchor="middle" fill="#000">Normal</text>
<text x="939.20" y="307.00" font-family="'Liberation Serif',serif" font-size="12.5" text-anchor="middle" fill="#000">(n=161)</text>
<path d="M685.20,167.20 L685.20,164.90 L748.70,164.90 L748.70,167.20" fill="none" stroke="#333" stroke-width="0.8"/>
<text x="716.95" y="161.70" font-family="'Liberation Serif',serif" font-size="11.5" text-anchor="middle" fill="#333" color="#333">ns</text>
<path d="M685.20,155.40 L685.20,153.10 L812.20,153.10 L812.20,155.40" fill="none" stroke="#333" stroke-width="0.8"/>
<text x="748.70" y="150.70" font-family="'Liberation Serif',serif" font-size="12" text-anchor="middle" fill="#333" color="#333">****</text>
<path d="M685.20,143.60 L685.20,141.30 L875.70,141.30 L875.70,143.60" fill="none" stroke="#333" stroke-width="0.8"/>
<text x="780.45" y="138.90" font-family="'Liberation Serif',serif" font-size="12" text-anchor="middle" fill="#333" color="#333">***</text>
<path d="M685.20,131.80 L685.20,129.50 L939.20,129.50 L939.20,131.80" fill="none" stroke="#333" stroke-width="0.8"/>
<text x="812.20" y="127.10" font-family="'Liberation Serif',serif" font-size="12" text-anchor="middle" fill="#333" color="#333">*</text>
<path d="M748.70,120.00 L748.70,117.70 L812.20,117.70 L812.20,120.00" fill="none" stroke="#333" stroke-width="0.8"/>
<text x="780.45" y="115.30" font-family="'Liberation Serif',serif" font-size="12" text-anchor="middle" fill="#333" color="#333">*</text>
<path d="M748.70,108.20 L748.70,105.90 L875.70,105.90 L875.70,108.20" fill="none" stroke="#333" stroke-width="0.8"/>
<text x="812.20" y="102.70" font-family="'Liberation Serif',serif" font-size="11.5" text-anchor="middle" fill="#333" color="#333">ns</text>
<path d="M748.70,96.40 L748.70,94.10 L939.20,94.10 L939.20,96.40" fill="none" stroke="#333" stroke-width="0.8"/>
<text x="843.95" y="91.70" font-family="'Liberation Serif',serif" font-size="12" text-anchor="middle" fill="#333" color="#333">*</text>
<path d="M812.20,84.60 L812.20,82.30 L875.70,82.30 L875.70,84.60" fill="none" stroke="#333" stroke-width="0.8"/>
<text x="843.95" y="79.10" font-family="'Liberation Serif',serif" font-size="11.5" text-anchor="middle" fill="#333" color="#333">ns</text>
<path d="M812.20,72.80 L812.20,70.50 L939.20,70.50 L939.20,72.80" fill="none" stroke="#333" stroke-width="0.8"/>
<text x="875.70" y="68.10" font-family="'Liberation Serif',serif" font-size="12" text-anchor="middle" fill="#333" color="#333">****</text>
<path d="M875.70,61.00 L875.70,58.70 L939.20,58.70 L939.20,61.00" fill="none" stroke="#333" stroke-width="0.8"/>
<text x="907.45" y="56.30" font-family="'Liberation Serif',serif" font-size="12" text-anchor="middle" fill="#333" color="#333">****</text>
<text x="646.90" y="38.60" font-family="'Liberation Serif',serif" font-size="15.5" textLength="186.5" lengthAdjust="spacingAndGlyphs" fill="#000">Kruskal−Wallis test p=7.1e−10</text>
<text x="626.10" y="163.55" font-family="'Liberation Serif',serif" font-size="12.7" text-anchor="middle" fill="#000" transform="rotate(-90 626.10 163.55)">FRAS1 expression</text>
<line x1="1078.90" y1="213.58" x2="1078.90" y2="219.34" stroke="#BC3C29" stroke-width="1"/>
<line x1="1078.90" y1="235.26" x2="1078.90" y2="247.33" stroke="#BC3C29" stroke-width="1"/>
<line x1="1066.89" y1="213.58" x2="1090.91" y2="213.58" stroke="#BC3C29" stroke-width="1"/>
<line x1="1066.89" y1="247.33" x2="1090.91" y2="247.33" stroke="#BC3C29" stroke-width="1"/>
<rect x="1063.51" y="219.34" width="30.79" height="15.92" fill="#fff" stroke="#BC3C29" stroke-width="1"/>
<line x1="1063.51" y1="224.15" x2="1094.29" y2="224.15" stroke="#BC3C29" stroke-width="1.6"/>
<line x1="1140.20" y1="199.31" x2="1140.20" y2="222.50" stroke="#0072B5" stroke-width="1"/>
<line x1="1140.20" y1="244.73" x2="1140.20" y2="273.40" stroke="#0072B5" stroke-width="1"/>
<line x1="1128.19" y1="199.31" x2="1152.21" y2="199.31" stroke="#0072B5" stroke-width="1"/>
<line x1="1128.19" y1="273.40" x2="1152.21" y2="273.40" stroke="#0072B5" stroke-width="1"/>
<rect x="1124.81" y="222.50" width="30.79" height="22.23" fill="#fff" stroke="#0072B5" stroke-width="1"/>
<line x1="1124.81" y1="233.61" x2="1155.59" y2="233.61" stroke="#0072B5" stroke-width="1.6"/>
<line x1="1202.00" y1="192.59" x2="1202.00" y2="225.65" stroke="#E18727" stroke-width="1"/>
<line x1="1202.00" y1="248.70" x2="1202.00" y2="273.40" stroke="#E18727" stroke-width="1"/>
<line x1="1189.99" y1="192.59" x2="1214.01" y2="192.59" stroke="#E18727" stroke-width="1"/>
<line x1="1189.99" y1="273.40" x2="1214.01" y2="273.40" stroke="#E18727" stroke-width="1"/>
<rect x="1186.61" y="225.65" width="30.79" height="23.05" fill="#fff" stroke="#E18727" stroke-width="1"/>
<line x1="1186.61" y1="236.77" x2="1217.39" y2="236.77" stroke="#E18727" stroke-width="1.6"/>
<line x1="1263.70" y1="210.29" x2="1263.70" y2="235.94" stroke="#20854E" stroke-width="1"/>
<line x1="1263.70" y1="261.33" x2="1263.70" y2="271.75" stroke="#20854E" stroke-width="1"/>
<line x1="1251.69" y1="210.29" x2="1275.71" y2="210.29" stroke="#20854E" stroke-width="1"/>
<line x1="1251.69" y1="271.75" x2="1275.71" y2="271.75" stroke="#20854E" stroke-width="1"/>
<rect x="1248.31" y="235.94" width="30.79" height="25.38" fill="#fff" stroke="#20854E" stroke-width="1"/>
<line x1="1248.31" y1="246.37" x2="1279.09" y2="246.37" stroke="#20854E" stroke-width="1.6"/>
<line x1="1325.20" y1="199.59" x2="1325.20" y2="217.15" stroke="#7876B1" stroke-width="1"/>
<line x1="1325.20" y1="241.57" x2="1325.20" y2="263.93" stroke="#7876B1" stroke-width="1"/>
<line x1="1313.19" y1="199.59" x2="1337.21" y2="199.59" stroke="#7876B1" stroke-width="1"/>
<line x1="1313.19" y1="263.93" x2="1337.21" y2="263.93" stroke="#7876B1" stroke-width="1"/>
<rect x="1309.81" y="217.15" width="30.79" height="24.42" fill="#fff" stroke="#7876B1" stroke-width="1"/>
<line x1="1309.81" y1="228.26" x2="1340.59" y2="228.26" stroke="#7876B1" stroke-width="1.6"/>
<path d="M1068.2 220.9h0M1089.7 238.7h0M1082.6 241.8h0M1088.1 236.2h0M1076.6 216.9h0M1072.0 242.2h0M1086.1 234.9h0M1082.9 213.6h0M1085.8 235.2h0M1071.5 223.3h0M1069.9 230.8h0M1085.4 238.2h0M1067.1 216.0h0M1081.9 176.7h0" stroke="#BC3C29" stroke-width="4.0" stroke-linecap="round" fill="none"/>
<path d="M1138.5 260.4h0M1148.3 225.3h0M1136.1 229.2h0M1147.1 235.0h0M1129.6 228.9h0M1136.6 220.2h0M1135.8 252.7h0M1137.9 200.6h0M1133.2 216.2h0M1135.1 272.0h0M1151.8 242.7h0M1129.9 251.8h0M1140.1 262.9h0M1150.2 222.5h0M1139.3 237.8h0M1138.9 224.9h0M1140.7 203.9h0M1131.2 260.5h0M1132.8 266.4h0M1145.2 246.7h0M1142.6 258.8h0M1133.5 255.8h0M1139.7 231.0h0M1152.2 260.0h0M1132.9 219.2h0M1147.6 251.6h0M1151.0 243.5h0M1141.2 228.3h0M1131.9 232.0h0M1139.5 226.8h0M1147.2 238.0h0M1144.1 235.9h0M1148.6 234.6h0M1140.3 237.2h0M1128.0 242.1h0M1128.7 245.8h0M1147.5 273.4h0M1141.1 221.9h0M1150.3 222.4h0M1148.7 236.4h0M1143.7 222.5h0M1142.5 260.9h0M1147.0 242.8h0M1132.1 218.1h0M1137.0 201.3h0M1143.7 219.7h0M1140.8 222.3h0M1132.0 235.3h0M1135.9 229.2h0M1131.2 217.7h0M1148.5 237.2h0M1132.4 239.4h0M1143.8 255.0h0M1132.1 225.3h0M1131.0 255.9h0M1128.9 244.9h0M1136.8 228.7h0M1148.5 262.7h0M1150.3 219.5h0M1141.1 217.6h0M1149.2 245.2h0M1144.0 222.5h0M1151.5 258.8h0M1133.0 230.7h0M1134.2 242.9h0M1134.5 210.9h0M1148.1 250.7h0M1150.9 248.4h0M1147.0 240.6h0M1151.6 241.9h0M1128.1 234.3h0M1131.9 222.4h0M1131.6 211.9h0M1136.0 245.3h0M1136.9 262.7h0M1137.8 234.5h0M1131.8 218.7h0M1140.8 245.3h0M1144.1 222.5h0M1147.9 233.4h0M1131.6 231.0h0M1152.1 243.3h0M1134.2 215.9h0M1138.2 241.1h0M1150.1 246.5h0M1131.6 219.2h0M1138.3 237.8h0M1136.6 222.3h0M1130.1 199.3h0M1129.0 222.0h0M1133.0 236.5h0M1140.5 222.0h0M1129.0 222.4h0M1132.8 222.5h0M1151.1 271.3h0M1139.8 222.5h0M1134.7 253.3h0M1152.0 244.3h0M1145.5 224.9h0M1136.4 247.0h0M1148.7 233.9h0M1128.8 218.2h0M1135.7 244.2h0M1151.3 222.5h0M1140.9 240.3h0M1130.2 266.5h0M1130.0 256.4h0M1151.1 263.2h0M1137.3 256.3h0M1149.8 238.7h0M1134.1 227.1h0M1142.3 259.4h0M1133.7 233.7h0M1148.8 251.8h0M1147.4 224.9h0M1151.8 222.8h0M1140.0 259.3h0M1146.7 213.8h0M1130.2 212.5h0M1143.0 244.8h0M1146.2 237.5h0M1146.3 213.2h0M1134.7 221.1h0M1128.3 222.6h0M1143.1 246.2h0M1146.6 219.0h0M1141.1 232.7h0M1132.3 247.7h0M1137.9 220.8h0M1133.4 225.1h0M1149.5 217.9h0M1144.6 242.7h0M1142.9 219.5h0M1145.6 225.6h0M1152.1 246.4h0M1151.6 230.1h0M1128.2 224.9h0M1129.0 225.1h0M1152.4 235.5h0M1137.1 225.5h0M1146.0 252.4h0M1137.2 234.7h0M1147.5 220.2h0M1146.4 244.9h0M1135.2 230.7h0M1145.8 228.4h0M1128.5 211.7h0M1129.0 231.5h0M1140.5 245.4h0M1150.5 243.8h0M1152.4 243.1h0M1129.1 223.8h0M1136.0 231.7h0M1131.1 224.2h0M1149.7 225.0h0M1137.7 272.1h0M1135.7 250.2h0M1138.6 208.8h0M1137.4 220.5h0M1140.8 265.5h0M1129.9 235.6h0M1130.2 234.1h0M1134.5 248.3h0M1130.9 271.9h0M1151.7 222.5h0M1131.7 221.7h0M1149.8 225.3h0M1135.3 240.4h0M1152.3 217.4h0M1131.5 222.4h0M1142.1 229.1h0M1145.2 232.0h0M1128.5 225.6h0M1141.4 211.3h0M1140.1 234.6h0M1147.7 270.8h0M1136.9 237.6h0M1140.0 266.1h0M1128.5 243.0h0M1144.9 225.6h0M1151.7 222.5h0M1147.1 203.0h0M1147.6 247.0h0M1146.5 243.2h0M1133.6 222.3h0M1151.1 259.5h0M1129.9 220.9h0M1139.6 222.1h0M1148.1 218.3h0M1145.9 237.0h0M1133.9 221.6h0M1135.1 233.6h0M1141.2 247.0h0M1137.3 234.3h0M1131.5 241.4h0M1134.7 257.5h0M1146.2 244.7h0M1139.1 204.5h0M1140.5 253.4h0M1130.8 234.3h0M1128.5 207.5h0M1150.3 226.4h0M1148.7 244.8h0M1140.0 236.5h0M1144.0 247.3h0M1144.4 222.5h0M1138.9 222.4h0M1130.4 252.9h0M1128.4 237.9h0M1146.2 253.1h0M1148.1 212.3h0M1129.5 216.4h0M1147.9 230.2h0M1128.4 222.4h0M1149.6 223.4h0M1140.3 250.2h0M1140.1 246.8h0M1152.4 215.6h0M1146.1 219.6h0M1140.9 265.1h0M1148.8 222.5h0M1138.9 242.7h0M1134.9 225.6h0M1147.7 222.9h0M1148.1 244.4h0M1143.0 268.9h0M1134.6 236.6h0" stroke="#0072B5" stroke-width="4.0" stroke-linecap="round" fill="none"/>
<path d="M1195.2 216.7h0M1203.6 225.5h0M1200.2 240.3h0M1198.9 232.1h0M1190.5 230.4h0M1212.1 252.1h0M1196.3 231.5h0M1213.8 256.7h0M1194.9 261.2h0M1189.9 228.8h0M1213.7 249.6h0M1206.1 234.6h0M1208.8 220.4h0M1199.7 228.1h0M1189.7 226.7h0M1209.1 242.6h0M1212.5 248.8h0M1200.5 215.2h0M1191.9 248.1h0M1197.6 238.2h0M1213.0 252.6h0M1190.0 248.7h0M1199.0 198.9h0M1193.6 272.2h0M1208.3 240.5h0M1209.6 230.6h0M1202.1 249.7h0M1207.6 248.7h0M1213.8 225.6h0M1196.9 213.5h0M1202.9 240.9h0M1210.8 225.7h0M1191.9 207.8h0M1208.8 251.2h0M1196.9 257.0h0M1195.6 245.2h0M1193.3 269.7h0M1201.3 255.6h0M1204.9 229.0h0M1197.0 230.0h0M1202.7 246.7h0M1192.8 241.3h0M1205.0 219.9h0M1201.1 255.4h0M1191.5 252.1h0M1202.9 248.8h0M1204.9 263.5h0M1198.6 213.9h0M1202.4 265.7h0M1203.3 197.3h0M1201.3 233.2h0M1192.2 215.7h0M1190.5 220.6h0M1198.7 243.2h0M1206.2 246.8h0M1210.0 238.1h0M1202.4 247.3h0M1202.0 266.1h0M1206.7 230.1h0M1197.5 240.9h0M1212.5 226.2h0M1201.7 256.9h0M1197.8 221.1h0M1212.3 263.1h0M1196.6 241.4h0M1204.5 220.8h0M1198.1 196.7h0M1212.9 241.8h0M1206.0 213.9h0M1190.8 248.8h0M1207.6 255.3h0M1194.6 269.0h0M1203.5 246.9h0M1205.9 229.2h0M1207.0 230.0h0M1209.1 243.5h0M1203.1 271.9h0M1207.1 237.4h0M1190.2 247.5h0M1203.9 233.3h0M1205.2 245.9h0M1212.0 248.8h0M1199.7 250.3h0M1191.8 234.8h0M1203.6 273.4h0M1199.9 225.9h0M1203.6 241.9h0M1191.0 217.2h0M1191.7 243.5h0M1203.8 236.8h0M1207.9 250.6h0M1204.9 228.6h0M1197.4 246.3h0M1205.2 236.7h0M1211.1 229.3h0M1210.4 229.9h0M1210.5 215.2h0M1201.9 240.1h0M1213.1 232.0h0M1198.4 226.0h0M1214.1 246.4h0M1193.0 233.8h0M1191.0 225.6h0M1194.0 211.0h0M1204.7 252.1h0M1211.2 254.0h0M1193.5 236.5h0M1202.9 265.2h0M1190.4 224.8h0M1199.5 225.6h0M1208.4 225.6h0M1209.1 232.2h0M1208.7 236.3h0M1203.2 245.0h0M1190.6 232.9h0M1206.6 221.1h0M1208.4 241.4h0M1199.1 261.4h0M1213.8 221.9h0M1207.8 192.6h0M1203.4 242.1h0M1190.9 232.5h0M1190.3 236.2h0M1202.3 259.1h0M1202.7 206.8h0M1205.0 232.9h0M1205.7 250.1h0M1210.0 270.4h0M1206.3 233.4h0M1195.3 249.4h0M1198.1 264.5h0M1199.6 221.2h0M1197.5 210.7h0M1212.7 247.9h0M1193.8 222.8h0M1194.6 222.5h0M1204.3 258.2h0M1196.2 230.1h0M1197.7 223.3h0M1202.8 250.6h0M1209.6 246.0h0M1210.5 225.4h0M1202.5 224.3h0M1211.4 246.6h0M1199.0 236.6h0M1193.8 252.5h0M1203.2 269.7h0M1209.2 227.2h0M1190.1 225.7h0M1203.3 250.8h0M1193.1 267.1h0M1206.5 225.6h0M1213.9 206.4h0M1209.5 252.0h0M1207.8 229.0h0M1205.2 229.1h0M1210.8 236.7h0M1207.3 233.5h0M1202.0 266.1h0M1198.4 244.3h0M1196.7 238.9h0M1208.9 237.7h0M1191.7 246.3h0M1201.2 256.6h0M1198.0 259.4h0M1201.7 226.5h0M1200.5 242.0h0M1196.6 211.5h0M1194.0 226.7h0M1212.6 235.0h0M1193.3 242.8h0M1197.9 240.9h0M1192.9 232.7h0M1194.8 238.0h0M1203.1 223.8h0M1196.4 238.4h0M1193.6 237.6h0M1209.6 244.2h0M1200.6 197.9h0M1205.9 225.6h0M1203.5 233.1h0M1198.4 214.9h0M1210.9 225.5h0M1190.7 236.4h0M1200.7 261.4h0M1190.8 227.9h0M1208.8 248.5h0M1204.2 260.5h0M1207.4 249.7h0M1212.5 232.3h0M1213.4 231.5h0M1211.8 241.5h0M1208.0 225.3h0M1211.6 215.4h0M1210.0 228.0h0M1207.7 246.9h0M1198.2 241.0h0M1203.5 244.1h0M1200.4 224.2h0M1207.6 225.7h0M1209.4 265.5h0M1196.6 234.4h0M1199.3 227.5h0M1203.1 257.9h0M1190.6 187.0h0M1204.9 187.0h0" stroke="#E18727" stroke-width="4.0" stroke-linecap="round" fill="none"/>
<path d="M1275.5 255.2h0M1255.6 255.0h0M1252.0 243.7h0M1266.9 239.4h0M1267.1 246.5h0M1257.3 253.4h0M1265.4 257.7h0M1275.6 215.9h0M1272.4 234.5h0M1258.2 258.1h0M1268.9 261.4h0M1265.8 231.2h0M1260.4 271.8h0M1269.0 262.2h0M1255.6 262.0h0M1257.2 235.6h0M1259.7 253.8h0M1271.3 267.2h0M1258.9 268.7h0M1255.2 223.9h0M1270.4 249.4h0M1255.1 238.5h0M1257.3 262.7h0M1273.8 263.9h0M1265.4 245.4h0M1252.7 261.3h0M1267.1 241.1h0M1262.5 252.6h0M1260.9 263.5h0M1260.1 270.0h0M1270.9 236.4h0M1257.0 240.2h0M1275.7 261.4h0M1269.4 256.6h0M1254.0 232.8h0M1271.8 263.0h0M1269.6 235.9h0M1261.1 265.0h0M1261.3 258.5h0M1276.0 241.3h0M1265.5 237.1h0M1260.5 245.1h0M1273.4 263.8h0M1267.4 237.6h0M1264.2 245.0h0M1270.5 243.7h0M1255.2 257.4h0M1253.1 247.9h0M1264.5 262.3h0M1272.4 244.2h0M1258.4 211.9h0M1256.1 226.0h0M1258.0 261.7h0M1253.9 242.9h0M1258.6 210.3h0M1273.3 227.5h0M1274.2 269.0h0M1264.4 236.2h0M1256.9 266.3h0M1262.4 251.6h0M1274.4 235.0h0M1273.0 242.0h0M1269.8 267.6h0M1259.4 210.7h0M1268.0 267.8h0M1260.5 259.4h0M1262.4 235.8h0M1264.3 212.4h0M1273.6 248.0h0M1260.8 261.5h0M1266.3 244.0h0M1270.6 237.7h0M1256.4 238.2h0M1263.0 263.2h0M1255.1 235.1h0" stroke="#20854E" stroke-width="4.0" stroke-linecap="round" fill="none"/>
<path d="M1320.4 207.8h0M1331.7 220.3h0M1313.8 234.7h0M1317.2 221.8h0M1334.4 218.1h0M1331.4 226.0h0M1325.6 240.2h0M1329.0 233.3h0M1320.9 238.9h0M1319.0 227.9h0M1314.3 229.5h0M1337.5 228.7h0M1322.8 235.6h0M1330.0 254.6h0M1330.9 219.6h0M1332.3 259.1h0M1320.3 239.8h0M1332.6 223.6h0M1322.1 207.8h0M1325.1 263.9h0M1329.8 237.5h0M1337.1 216.4h0M1322.3 226.4h0M1320.4 234.8h0M1330.8 249.2h0M1313.5 212.4h0M1324.0 223.9h0M1337.2 224.9h0M1326.6 241.3h0M1317.1 231.3h0M1321.3 220.2h0M1318.5 255.5h0M1330.4 237.4h0M1334.4 224.6h0M1320.5 212.8h0M1336.4 243.8h0M1323.3 225.9h0M1317.0 216.5h0M1330.8 218.0h0M1317.9 215.1h0M1334.4 244.1h0M1332.1 205.5h0M1329.5 216.2h0M1331.3 221.6h0M1324.0 250.6h0M1334.8 230.7h0M1331.8 213.8h0M1324.9 226.4h0M1320.3 242.3h0M1318.2 223.6h0M1329.1 219.6h0M1334.0 216.4h0M1321.5 236.3h0M1322.5 236.5h0M1318.0 256.9h0M1316.1 230.9h0M1320.1 218.6h0M1330.6 217.1h0M1323.5 226.5h0M1323.0 244.5h0M1332.5 244.0h0M1326.9 236.5h0M1332.0 236.4h0M1336.1 216.2h0M1330.2 225.7h0M1325.4 253.7h0M1314.1 251.7h0M1314.8 223.4h0M1332.2 245.2h0M1314.8 225.4h0M1326.9 223.2h0M1316.9 211.1h0M1333.7 217.1h0M1330.4 224.7h0M1319.6 217.1h0M1331.9 234.0h0M1326.4 224.3h0M1321.1 248.3h0M1326.2 233.0h0M1336.7 235.8h0M1317.5 225.7h0M1333.9 261.1h0M1313.8 219.7h0M1316.0 216.8h0M1316.2 227.0h0M1325.1 203.3h0M1336.5 231.9h0M1316.4 260.5h0M1318.7 202.0h0M1326.3 250.0h0M1318.4 229.9h0M1326.4 248.8h0M1319.5 230.4h0M1313.0 251.3h0M1320.0 207.1h0M1314.9 229.5h0M1333.0 245.9h0M1319.2 209.3h0M1319.5 250.5h0M1313.3 244.8h0M1325.5 254.4h0M1313.6 216.8h0M1327.2 240.7h0M1332.3 239.3h0M1330.0 217.0h0M1333.3 218.6h0M1326.4 255.1h0M1318.3 241.0h0M1333.8 221.8h0M1326.2 206.6h0M1337.4 228.1h0M1334.1 214.6h0M1320.9 219.0h0M1335.6 239.7h0M1333.5 228.0h0M1332.0 199.6h0M1336.2 216.9h0M1334.6 229.8h0M1329.7 216.8h0M1330.8 217.1h0M1322.4 227.3h0M1333.4 210.2h0M1330.3 207.2h0M1322.6 243.0h0M1323.0 218.9h0M1328.8 237.9h0M1322.3 216.7h0M1331.1 222.4h0M1318.6 230.8h0M1316.0 237.4h0M1314.8 233.3h0M1325.9 229.2h0M1322.1 230.8h0M1330.6 225.6h0M1316.6 230.8h0M1333.8 219.3h0M1321.9 236.6h0M1334.1 234.0h0M1335.9 241.6h0M1328.7 218.9h0M1334.5 245.8h0M1327.8 225.7h0M1331.7 218.6h0M1336.4 242.2h0M1313.4 241.6h0M1330.8 226.3h0M1328.7 234.4h0M1330.3 210.8h0M1316.6 247.2h0M1313.9 207.0h0M1320.3 215.2h0M1324.3 241.8h0M1322.0 245.1h0M1321.3 216.1h0M1319.3 262.0h0M1326.7 202.7h0M1318.3 235.0h0M1334.7 227.7h0M1334.0 217.4h0M1334.5 234.4h0M1324.2 216.7h0" stroke="#7876B1" stroke-width="4.0" stroke-linecap="round" fill="none"/>
<line x1="1042.00" y1="58.10" x2="1042.00" y2="283.30" stroke="#000" stroke-width="1.07"/>
<line x1="1042.00" y1="283.30" x2="1361.40" y2="283.30" stroke="#000" stroke-width="1.07"/>
<line x1="1039.30" y1="273.40" x2="1042.00" y2="273.40" stroke="#000" stroke-width="1"/>
<text x="1037.00" y="277.20" font-family="'Liberation Serif',serif" font-size="11" text-anchor="end" fill="#4D4D4D" color="#4D4D4D">0</text>
<line x1="1039.30" y1="204.80" x2="1042.00" y2="204.80" stroke="#000" stroke-width="1"/>
<text x="1037.00" y="208.60" font-family="'Liberation Serif',serif" font-size="11" text-anchor="end" fill="#4D4D4D" color="#4D4D4D">5</text>
<line x1="1039.30" y1="136.20" x2="1042.00" y2="136.20" stroke="#000" stroke-width="1"/>
<text x="1037.00" y="140.00" font-family="'Liberation Serif',serif" font-size="11" text-anchor="end" fill="#4D4D4D" color="#4D4D4D">10</text>
<line x1="1039.30" y1="67.60" x2="1042.00" y2="67.60" stroke="#000" stroke-width="1"/>
<text x="1037.00" y="71.40" font-family="'Liberation Serif',serif" font-size="11" text-anchor="end" fill="#4D4D4D" color="#4D4D4D">15</text>
<line x1="1078.90" y1="283.30" x2="1078.90" y2="286.00" stroke="#000" stroke-width="1"/>
<text x="1078.90" y="296.80" font-family="'Liberation Serif',serif" font-size="12.5" text-anchor="middle" fill="#000">G1</text>
<text x="1078.90" y="310.90" font-family="'Liberation Serif',serif" font-size="12.5" text-anchor="middle" fill="#000">(n=14)</text>
<line x1="1140.20" y1="283.30" x2="1140.20" y2="286.00" stroke="#000" stroke-width="1"/>
<text x="1140.20" y="296.80" font-family="'Liberation Serif',serif" font-size="12.5" text-anchor="middle" fill="#000">G2</text>
<text x="1140.20" y="310.90" font-family="'Liberation Serif',serif" font-size="12.5" text-anchor="middle" fill="#000">(n=227)</text>
<line x1="1202.00" y1="283.30" x2="1202.00" y2="286.00" stroke="#000" stroke-width="1"/>
<text x="1202.00" y="296.80" font-family="'Liberation Serif',serif" font-size="12.5" text-anchor="middle" fill="#000">G3</text>
<text x="1202.00" y="310.90" font-family="'Liberation Serif',serif" font-size="12.5" text-anchor="middle" fill="#000">(n=206)</text>
<line x1="1263.70" y1="283.30" x2="1263.70" y2="286.00" stroke="#000" stroke-width="1"/>
<text x="1263.70" y="296.80" font-family="'Liberation Serif',serif" font-size="12.5" text-anchor="middle" fill="#000">G4</text>
<text x="1263.70" y="310.90" font-family="'Liberation Serif',serif" font-size="12.5" text-anchor="middle" fill="#000">(n=75)</text>
<line x1="1325.20" y1="283.30" x2="1325.20" y2="286.00" stroke="#000" stroke-width="1"/>
<text x="1325.20" y="296.80" font-family="'Liberation Serif',serif" font-size="12.5" text-anchor="middle" fill="#000">Normal</text>
<text x="1325.20" y="310.90" font-family="'Liberation Serif',serif" font-size="12.5" text-anchor="middle" fill="#000">(n=161)</text>
<path d="M1078.90,174.30 L1078.90,172.00 L1140.20,172.00 L1140.20,174.30" fill="none" stroke="#333" stroke-width="0.8"/>
<text x="1109.55" y="168.80" font-family="'Liberation Serif',serif" font-size="11.5" text-anchor="middle" fill="#333" color="#333">ns</text>
<path d="M1078.90,162.70 L1078.90,160.40 L1202.00,160.40 L1202.00,162.70" fill="none" stroke="#333" stroke-width="0.8"/>
<text x="1140.45" y="158.00" font-family="'Liberation Serif',serif" font-size="12" text-anchor="middle" fill="#333" color="#333">*</text>
<path d="M1078.90,151.10 L1078.90,148.80 L1263.70,148.80 L1263.70,151.10" fill="none" stroke="#333" stroke-width="0.8"/>
<text x="1171.30" y="146.40" font-family="'Liberation Serif',serif" font-size="12" text-anchor="middle" fill="#333" color="#333">***</text>
<path d="M1078.90,139.50 L1078.90,137.20 L1325.20,137.20 L1325.20,139.50" fill="none" stroke="#333" stroke-width="0.8"/>
<text x="1202.05" y="134.00" font-family="'Liberation Serif',serif" font-size="11.5" text-anchor="middle" fill="#333" color="#333">ns</text>
<path d="M1140.20,127.90 L1140.20,125.60 L1202.00,125.60 L1202.00,127.90" fill="none" stroke="#333" stroke-width="0.8"/>
<text x="1171.10" y="123.20" font-family="'Liberation Serif',serif" font-size="12" text-anchor="middle" fill="#333" color="#333">*</text>
<path d="M1140.20,116.30 L1140.20,114.00 L1263.70,114.00 L1263.70,116.30" fill="none" stroke="#333" stroke-width="0.8"/>
<text x="1201.95" y="111.60" font-family="'Liberation Serif',serif" font-size="12" text-anchor="middle" fill="#333" color="#333">****</text>
<path d="M1140.20,104.70 L1140.20,102.40 L1325.20,102.40 L1325.20,104.70" fill="none" stroke="#333" stroke-width="0.8"/>
<text x="1232.70" y="100.00" font-family="'Liberation Serif',serif" font-size="12" text-anchor="middle" fill="#333" color="#333">**</text>
<path d="M1202.00,93.10 L1202.00,90.80 L1263.70,90.80 L1263.70,93.10" fill="none" stroke="#333" stroke-width="0.8"/>
<text x="1232.85" y="88.40" font-family="'Liberation Serif',serif" font-size="12" text-anchor="middle" fill="#333" color="#333">***</text>
<path d="M1202.00,81.50 L1202.00,79.20 L1325.20,79.20 L1325.20,81.50" fill="none" stroke="#333" stroke-width="0.8"/>
<text x="1263.60" y="76.80" font-family="'Liberation Serif',serif" font-size="12" text-anchor="middle" fill="#333" color="#333">****</text>
<path d="M1263.70,69.90 L1263.70,67.60 L1325.20,67.60 L1325.20,69.90" fill="none" stroke="#333" stroke-width="0.8"/>
<text x="1294.45" y="65.20" font-family="'Liberation Serif',serif" font-size="12" text-anchor="middle" fill="#333" color="#333">****</text>
<text x="1041.90" y="48.70" font-family="'Liberation Serif',serif" font-size="15.5" textLength="180.9" lengthAdjust="spacingAndGlyphs" fill="#000">Kruskal−Wallis test p=1.2e−10</text>
<text x="1020.60" y="170.70" font-family="'Liberation Serif',serif" font-size="12.7" text-anchor="middle" fill="#000" transform="rotate(-90 1020.60 170.70)">FRAS1 expression</text>
<line x1="1512.00" y1="93.58" x2="1512.00" y2="164.39" stroke="#BC3C29" stroke-width="1"/>
<line x1="1512.00" y1="218.90" x2="1512.00" y2="277.80" stroke="#BC3C29" stroke-width="1"/>
<line x1="1482.65" y1="93.58" x2="1541.35" y2="93.58" stroke="#BC3C29" stroke-width="1"/>
<line x1="1482.65" y1="277.80" x2="1541.35" y2="277.80" stroke="#BC3C29" stroke-width="1"/>
<rect x="1474.38" y="164.39" width="75.25" height="54.51" fill="#fff" stroke="#BC3C29" stroke-width="1"/>
<line x1="1474.38" y1="191.33" x2="1549.62" y2="191.33" stroke="#BC3C29" stroke-width="1.6"/>
<line x1="1662.50" y1="113.32" x2="1662.50" y2="179.42" stroke="#0072B5" stroke-width="1"/>
<line x1="1662.50" y1="235.82" x2="1662.50" y2="270.28" stroke="#0072B5" stroke-width="1"/>
<line x1="1633.15" y1="113.32" x2="1691.85" y2="113.32" stroke="#0072B5" stroke-width="1"/>
<line x1="1633.15" y1="270.28" x2="1691.85" y2="270.28" stroke="#0072B5" stroke-width="1"/>
<rect x="1624.88" y="179.42" width="75.25" height="56.39" fill="#fff" stroke="#0072B5" stroke-width="1"/>
<line x1="1624.88" y1="206.68" x2="1700.12" y2="206.68" stroke="#0072B5" stroke-width="1.6"/>
<path d="M1524.6 195.0h0M1535.2 264.4h0M1538.3 237.7h0M1512.8 164.1h0M1483.9 219.0h0M1521.3 203.7h0M1484.8 150.9h0M1485.8 195.6h0M1512.2 164.2h0M1518.5 203.1h0M1487.6 219.0h0M1520.8 93.6h0M1526.5 170.8h0M1537.5 209.5h0M1508.9 249.2h0M1540.0 163.5h0M1494.3 130.4h0M1516.2 277.1h0M1496.1 203.8h0M1503.8 169.5h0M1497.0 193.8h0M1541.4 238.6h0M1539.0 243.6h0M1516.4 258.7h0M1486.5 196.6h0M1494.9 277.8h0M1491.9 176.0h0M1499.6 265.6h0M1508.6 196.2h0M1505.4 238.1h0M1508.9 257.8h0M1530.2 224.8h0M1507.5 164.4h0M1513.2 174.9h0M1510.8 176.6h0M1497.3 199.1h0M1517.5 165.1h0M1492.1 165.5h0M1488.4 185.6h0M1516.7 174.0h0M1523.8 203.4h0M1488.3 198.5h0M1512.0 221.0h0M1489.0 227.9h0M1502.4 163.2h0M1521.4 276.7h0M1522.0 169.0h0M1507.2 193.3h0M1531.9 205.1h0M1533.5 195.5h0M1494.3 161.9h0M1538.4 206.7h0M1496.5 123.1h0M1537.0 107.4h0M1518.0 203.7h0M1538.7 209.2h0M1502.0 169.9h0M1532.5 157.7h0M1502.4 237.3h0M1523.9 203.3h0M1526.7 265.1h0M1531.6 217.8h0M1519.7 170.3h0M1508.1 171.9h0M1481.9 164.4h0M1525.3 275.9h0M1516.5 163.5h0M1488.6 126.2h0M1523.8 163.8h0M1504.9 263.0h0M1521.4 192.8h0M1509.1 153.4h0M1529.9 217.3h0M1525.6 134.0h0M1535.1 208.7h0M1535.1 188.9h0M1481.9 230.0h0M1518.8 188.2h0M1541.0 244.9h0M1483.2 155.2h0M1527.6 164.3h0M1498.5 224.9h0M1515.6 123.2h0M1486.7 218.0h0M1521.0 202.4h0M1533.2 229.1h0M1526.9 211.9h0M1524.6 209.1h0M1535.4 149.8h0M1516.0 228.7h0M1495.1 164.2h0M1513.7 223.3h0M1531.2 214.7h0M1500.7 200.1h0M1506.8 211.4h0M1531.1 176.5h0M1485.3 150.5h0M1485.0 140.5h0M1502.6 163.7h0M1533.0 191.4h0M1488.9 244.8h0M1514.9 184.4h0M1522.4 217.9h0M1485.0 221.9h0M1532.7 211.5h0M1529.2 173.7h0M1483.5 182.4h0M1510.0 215.3h0M1507.1 234.7h0M1526.7 198.4h0M1483.5 188.7h0M1502.7 216.7h0M1484.9 163.6h0M1512.8 199.0h0M1486.2 187.6h0M1530.2 267.4h0M1501.5 187.8h0M1482.0 180.6h0M1499.8 170.2h0M1514.1 182.2h0M1494.4 135.1h0M1490.2 95.8h0M1528.5 164.4h0M1516.1 266.7h0M1483.8 162.3h0M1523.4 185.6h0M1486.8 222.7h0M1529.6 166.9h0M1531.6 160.0h0M1498.6 203.2h0M1482.4 178.8h0M1514.3 198.2h0M1515.6 237.2h0M1501.4 234.8h0M1505.5 219.3h0M1483.5 164.3h0M1539.0 194.7h0M1487.7 192.1h0M1509.1 164.3h0M1497.1 195.1h0M1519.0 152.6h0M1495.4 179.2h0M1485.2 215.2h0M1512.4 176.0h0M1496.9 188.2h0M1521.3 198.3h0M1499.4 268.9h0M1535.8 228.0h0M1516.5 191.2h0M1511.9 215.1h0M1510.6 141.9h0M1516.2 199.4h0M1514.7 156.4h0M1513.5 114.9h0M1493.3 189.2h0M1528.4 182.8h0M1504.9 219.1h0M1496.1 219.0h0M1518.6 162.4h0M1520.2 159.3h0M1503.7 189.6h0M1524.4 182.7h0M1493.9 218.9h0M1484.3 200.2h0M1494.8 206.7h0M1527.3 162.9h0M1489.0 216.0h0M1520.9 175.1h0M1515.9 137.6h0M1516.9 146.4h0M1501.6 164.4h0M1506.6 166.6h0M1531.4 173.4h0M1505.6 177.1h0M1485.4 164.7h0M1509.6 170.2h0M1485.8 210.9h0M1490.8 191.7h0M1495.8 210.3h0M1512.2 148.7h0M1514.4 217.5h0M1506.4 117.4h0M1484.4 200.0h0M1489.4 187.2h0M1517.1 248.8h0M1482.4 182.6h0M1528.2 187.3h0M1517.6 213.4h0M1515.1 188.5h0M1536.0 96.3h0M1489.4 226.3h0M1518.3 168.2h0M1506.5 165.7h0M1528.1 235.9h0M1518.2 176.7h0M1515.8 247.9h0M1506.9 190.3h0M1535.1 194.1h0M1515.5 166.6h0M1495.0 165.0h0M1487.8 164.4h0M1539.0 183.9h0M1536.7 188.0h0M1522.0 176.8h0M1529.0 187.8h0M1539.9 203.3h0M1526.0 260.8h0M1500.9 202.4h0M1526.8 237.2h0M1519.0 181.1h0M1494.3 141.8h0M1515.9 242.5h0M1539.6 220.5h0M1539.4 250.2h0M1503.7 203.7h0M1537.5 158.4h0M1495.9 224.8h0M1502.7 211.1h0M1493.9 221.8h0M1502.6 204.1h0M1538.7 174.2h0M1493.0 163.1h0M1494.3 166.3h0M1501.0 220.0h0M1533.6 174.7h0M1499.6 215.2h0M1504.2 232.6h0M1510.8 218.0h0M1530.9 94.1h0M1503.4 265.2h0M1525.4 189.0h0M1530.6 197.9h0M1482.6 196.7h0M1534.6 164.1h0M1500.2 228.2h0M1512.5 133.6h0M1483.0 171.4h0M1537.0 254.6h0M1486.9 158.3h0M1538.4 223.1h0M1512.6 192.1h0M1524.9 218.2h0M1522.1 193.0h0M1483.5 189.3h0M1522.8 109.2h0M1495.0 164.4h0M1487.0 259.6h0M1537.0 160.6h0M1495.9 225.3h0M1534.1 191.0h0M1495.6 241.3h0M1525.7 240.8h0M1529.5 127.2h0M1502.9 165.8h0M1509.9 211.1h0M1535.4 207.5h0M1494.4 185.7h0M1484.0 190.6h0M1529.0 167.4h0M1536.5 164.4h0M1505.0 274.6h0M1493.6 256.7h0M1495.2 156.9h0M1512.6 229.8h0M1540.0 165.8h0M1529.6 191.6h0M1530.2 225.1h0M1504.7 273.7h0M1499.8 179.1h0M1522.6 262.2h0M1537.9 132.2h0M1521.7 248.0h0M1540.9 245.3h0M1508.7 236.3h0M1501.8 180.7h0M1485.4 220.0h0M1497.2 237.8h0M1525.5 217.6h0M1528.2 237.4h0M1495.5 202.5h0M1502.6 163.7h0M1488.4 205.9h0M1507.9 164.4h0M1505.2 263.0h0M1537.8 112.7h0M1529.7 198.1h0M1536.8 100.0h0M1489.5 149.3h0M1500.7 225.4h0M1533.8 159.4h0M1496.1 220.6h0M1502.4 153.0h0M1487.9 164.4h0M1482.9 176.3h0M1518.6 245.7h0M1504.5 163.9h0M1502.6 184.9h0M1506.0 164.4h0M1529.1 205.5h0M1487.5 245.1h0M1483.8 255.8h0M1486.6 199.8h0M1485.5 211.6h0M1521.9 232.7h0M1512.4 164.4h0M1487.1 160.5h0M1503.2 196.2h0M1486.3 130.3h0M1514.5 187.7h0M1527.1 164.4h0M1490.5 207.0h0M1534.1 187.2h0M1530.0 168.8h0M1541.9 205.1h0M1512.7 209.3h0M1514.4 220.2h0M1482.9 165.0h0M1536.4 123.4h0M1529.6 142.4h0M1520.2 190.5h0M1528.1 175.4h0M1495.2 213.9h0M1530.2 262.6h0M1524.2 159.0h0M1494.4 201.1h0M1527.0 111.7h0M1514.9 218.5h0M1524.9 160.7h0M1490.9 237.2h0M1532.5 104.6h0M1504.7 276.2h0M1532.9 206.8h0M1541.7 195.2h0M1484.3 239.1h0M1521.1 218.9h0M1483.1 178.5h0M1500.7 185.8h0M1541.7 261.9h0M1521.7 176.8h0M1525.7 192.7h0M1509.9 218.9h0M1503.1 139.4h0M1489.4 276.7h0M1520.4 211.6h0M1540.8 193.7h0M1510.7 216.9h0M1510.5 163.6h0M1527.6 174.1h0M1486.5 247.6h0M1520.9 242.9h0M1537.4 195.2h0M1489.8 133.8h0M1541.1 206.9h0M1530.6 133.2h0M1537.0 172.8h0M1488.6 141.9h0M1512.8 213.4h0M1527.6 277.4h0M1529.1 217.3h0M1495.6 136.2h0M1540.9 100.3h0M1489.1 220.2h0M1524.5 216.3h0M1537.6 125.0h0M1532.0 163.7h0M1535.9 163.0h0M1509.3 184.8h0M1535.5 234.4h0M1536.4 168.9h0M1518.6 193.3h0M1521.2 189.4h0M1486.1 224.7h0M1499.3 163.8h0M1541.7 214.9h0M1522.3 165.5h0M1538.9 163.7h0M1530.3 212.9h0M1522.3 177.3h0M1504.9 181.4h0M1515.7 166.3h0M1497.9 185.9h0M1495.0 179.8h0M1513.6 120.4h0M1512.5 240.0h0M1528.8 181.5h0M1525.4 203.0h0M1504.6 211.5h0M1497.3 193.1h0M1522.0 193.4h0M1494.1 164.1h0M1500.5 193.0h0M1512.7 171.9h0M1528.0 165.7h0M1506.4 223.8h0M1503.5 149.8h0M1523.8 149.4h0M1525.6 173.4h0M1517.6 157.1h0M1528.6 253.9h0M1508.2 164.4h0M1538.8 220.9h0M1520.5 214.7h0M1497.5 120.9h0M1496.1 199.6h0M1524.7 153.7h0M1485.4 177.6h0M1514.3 200.2h0M1523.2 200.0h0M1507.7 195.3h0M1537.8 188.1h0M1532.7 180.1h0M1515.4 193.7h0M1511.6 237.1h0M1521.4 152.5h0M1525.5 165.6h0M1533.2 159.4h0M1501.4 170.6h0M1503.5 147.7h0M1515.7 200.3h0M1526.4 186.2h0M1520.0 215.7h0M1540.4 163.5h0M1513.3 253.5h0M1508.0 256.3h0M1522.8 198.1h0M1541.8 201.8h0M1522.8 217.5h0M1516.3 176.7h0M1517.1 217.2h0M1484.0 200.8h0M1484.2 165.1h0M1515.5 214.4h0M1496.0 107.2h0M1527.6 159.2h0M1516.2 187.0h0M1530.4 201.4h0M1526.9 194.8h0M1510.5 213.0h0M1531.3 146.4h0M1531.9 80.4h0" stroke="#BC3C29" stroke-width="4.2" stroke-linecap="round" fill="none"/>
<path d="M1653.4 226.5h0M1639.7 113.3h0M1669.3 199.2h0M1685.3 233.4h0M1650.3 205.2h0M1676.2 201.6h0M1685.8 184.7h0M1663.3 249.9h0M1680.0 191.7h0M1662.8 217.7h0M1660.2 239.2h0M1667.5 211.2h0M1656.7 225.2h0M1679.6 251.2h0M1670.5 202.4h0M1670.1 261.9h0M1678.5 263.8h0M1654.5 144.0h0M1666.6 232.5h0M1677.2 250.4h0M1681.6 194.2h0M1672.1 244.4h0M1641.8 245.0h0M1661.6 155.5h0M1636.3 246.2h0M1647.0 167.9h0M1640.3 152.7h0M1636.8 199.7h0M1641.8 218.4h0M1639.5 195.4h0M1675.7 190.2h0M1658.0 190.7h0M1652.3 242.1h0M1644.0 265.4h0M1674.8 224.6h0M1653.7 183.4h0M1668.4 219.3h0M1645.9 189.4h0M1637.1 200.9h0M1675.4 270.3h0M1674.1 148.8h0M1674.5 265.3h0M1680.0 214.5h0M1658.7 226.3h0M1645.8 222.9h0M1685.9 219.5h0M1659.1 146.1h0M1682.7 180.4h0M1637.4 228.4h0M1633.7 241.8h0M1639.6 255.2h0M1687.8 217.8h0M1672.6 186.3h0M1673.3 163.7h0M1681.4 241.8h0M1690.9 163.6h0M1658.8 179.5h0M1638.6 230.0h0M1676.5 199.2h0M1681.8 195.6h0M1673.9 213.3h0M1643.7 138.3h0M1675.1 222.9h0M1664.6 243.9h0M1677.1 233.4h0M1672.1 244.7h0M1687.6 204.9h0M1647.6 209.9h0M1654.4 140.8h0M1634.6 176.0h0M1670.9 212.6h0M1658.1 145.1h0M1685.7 241.0h0M1641.2 164.5h0M1669.4 214.2h0M1685.3 207.7h0M1661.0 234.5h0M1669.2 239.6h0M1689.4 173.8h0M1652.9 78.9h0" stroke="#0072B5" stroke-width="4.2" stroke-linecap="round" fill="none"/>
<line x1="1422.20" y1="59.40" x2="1422.20" y2="288.00" stroke="#000" stroke-width="1.07"/>
<line x1="1422.20" y1="288.00" x2="1752.00" y2="288.00" stroke="#000" stroke-width="1.07"/>
<line x1="1419.50" y1="277.80" x2="1422.20" y2="277.80" stroke="#000" stroke-width="1"/>
<text x="1417.20" y="281.60" font-family="'Liberation Serif',serif" font-size="11" text-anchor="end" fill="#4D4D4D" color="#4D4D4D">0</text>
<line x1="1419.50" y1="215.14" x2="1422.20" y2="215.14" stroke="#000" stroke-width="1"/>
<text x="1417.20" y="218.94" font-family="'Liberation Serif',serif" font-size="11" text-anchor="end" fill="#4D4D4D" color="#4D4D4D">2</text>
<line x1="1419.50" y1="152.48" x2="1422.20" y2="152.48" stroke="#000" stroke-width="1"/>
<text x="1417.20" y="156.28" font-family="'Liberation Serif',serif" font-size="11" text-anchor="end" fill="#4D4D4D" color="#4D4D4D">4</text>
<line x1="1419.50" y1="89.82" x2="1422.20" y2="89.82" stroke="#000" stroke-width="1"/>
<text x="1417.20" y="93.62" font-family="'Liberation Serif',serif" font-size="11" text-anchor="end" fill="#4D4D4D" color="#4D4D4D">6</text>
<line x1="1512.00" y1="288.00" x2="1512.00" y2="290.70" stroke="#000" stroke-width="1"/>
<text x="1512.00" y="302.80" font-family="'Liberation Sans',sans-serif" font-size="9.5" text-anchor="middle" fill="#000">M0</text>
<text x="1512.00" y="315.60" font-family="'Liberation Serif',serif" font-size="12.5" text-anchor="middle" fill="#000">(n=440)</text>
<line x1="1662.50" y1="288.00" x2="1662.50" y2="290.70" stroke="#000" stroke-width="1"/>
<text x="1662.50" y="302.80" font-family="'Liberation Sans',sans-serif" font-size="9.5" text-anchor="middle" fill="#000">M1</text>
<text x="1662.50" y="315.60" font-family="'Liberation Serif',serif" font-size="12.5" text-anchor="middle" fill="#000">(n=80)</text>
<path d="M1512.00,75.20 L1512.00,69.20 L1662.50,69.20 L1662.50,75.20" fill="none" stroke="#333" stroke-width="0.8"/>
<text x="1587.25" y="66.80" font-family="'Liberation Serif',serif" font-size="12" text-anchor="middle" fill="#333" color="#333">*</text>
<text x="1422.10" y="49.90" font-family="'Liberation Serif',serif" font-size="15.5" textLength="122.3" lengthAdjust="spacingAndGlyphs" fill="#000">wilcox.tests p=0.016</text>
<text x="1406.20" y="173.70" font-family="'Liberation Serif',serif" font-size="12.7" text-anchor="middle" fill="#000" transform="rotate(-90 1406.20 173.70)">FRAS1 expression</text>
<line x1="676.10" y1="533.69" x2="676.10" y2="573.41" stroke="#BC3C29" stroke-width="1"/>
<line x1="676.10" y1="600.28" x2="676.10" y2="604.50" stroke="#BC3C29" stroke-width="1"/>
<line x1="663.67" y1="533.69" x2="688.53" y2="533.69" stroke="#BC3C29" stroke-width="1"/>
<line x1="663.67" y1="604.50" x2="688.53" y2="604.50" stroke="#BC3C29" stroke-width="1"/>
<rect x="660.16" y="573.41" width="31.88" height="26.87" fill="#fff" stroke="#BC3C29" stroke-width="1"/>
<line x1="660.16" y1="588.76" x2="692.04" y2="588.76" stroke="#BC3C29" stroke-width="1.6"/>
<line x1="739.90" y1="542.32" x2="739.90" y2="578.21" stroke="#0072B5" stroke-width="1"/>
<line x1="739.90" y1="602.58" x2="739.90" y2="604.50" stroke="#0072B5" stroke-width="1"/>
<line x1="727.47" y1="542.32" x2="752.33" y2="542.32" stroke="#0072B5" stroke-width="1"/>
<line x1="727.47" y1="604.50" x2="752.33" y2="604.50" stroke="#0072B5" stroke-width="1"/>
<rect x="723.96" y="578.21" width="31.88" height="24.37" fill="#fff" stroke="#0072B5" stroke-width="1"/>
<line x1="723.96" y1="594.71" x2="755.84" y2="594.71" stroke="#0072B5" stroke-width="1.6"/>
<line x1="803.70" y1="573.03" x2="803.70" y2="588.00" stroke="#E18727" stroke-width="1"/>
<line x1="803.70" y1="601.24" x2="803.70" y2="604.50" stroke="#E18727" stroke-width="1"/>
<line x1="791.27" y1="573.03" x2="816.13" y2="573.03" stroke="#E18727" stroke-width="1"/>
<line x1="791.27" y1="604.50" x2="816.13" y2="604.50" stroke="#E18727" stroke-width="1"/>
<rect x="787.76" y="588.00" width="31.88" height="13.24" fill="#fff" stroke="#E18727" stroke-width="1"/>
<line x1="787.76" y1="597.98" x2="819.64" y2="597.98" stroke="#E18727" stroke-width="1.6"/>
<line x1="867.60" y1="577.25" x2="867.60" y2="590.30" stroke="#20854E" stroke-width="1"/>
<line x1="867.60" y1="601.81" x2="867.60" y2="604.50" stroke="#20854E" stroke-width="1"/>
<line x1="855.17" y1="577.25" x2="880.03" y2="577.25" stroke="#20854E" stroke-width="1"/>
<line x1="855.17" y1="604.50" x2="880.03" y2="604.50" stroke="#20854E" stroke-width="1"/>
<rect x="851.66" y="590.30" width="31.88" height="11.51" fill="#fff" stroke="#20854E" stroke-width="1"/>
<line x1="851.66" y1="597.02" x2="883.54" y2="597.02" stroke="#20854E" stroke-width="1.6"/>
<line x1="931.10" y1="506.25" x2="931.10" y2="531.39" stroke="#7876B1" stroke-width="1"/>
<line x1="931.10" y1="560.94" x2="931.10" y2="603.54" stroke="#7876B1" stroke-width="1"/>
<line x1="918.67" y1="506.25" x2="943.53" y2="506.25" stroke="#7876B1" stroke-width="1"/>
<line x1="918.67" y1="603.54" x2="943.53" y2="603.54" stroke="#7876B1" stroke-width="1"/>
<rect x="915.16" y="531.39" width="31.88" height="29.55" fill="#fff" stroke="#7876B1" stroke-width="1"/>
<line x1="915.16" y1="546.16" x2="947.04" y2="546.16" stroke="#7876B1" stroke-width="1.6"/>
<path d="M668.0 591.9h0M672.8 603.8h0M676.7 602.7h0M686.4 577.2h0M663.4 567.4h0M686.2 590.3h0M664.8 573.0h0M671.0 600.6h0M663.4 595.7h0M688.1 604.3h0M687.9 554.3h0M674.4 601.6h0M681.4 593.8h0M664.6 603.8h0M677.5 598.2h0M672.2 593.3h0M677.4 602.4h0M671.2 594.1h0M680.3 603.1h0M675.6 563.7h0M675.9 575.0h0M675.9 561.2h0M672.3 587.6h0M676.3 572.8h0M681.7 560.5h0M679.5 601.8h0M666.8 600.6h0M680.2 577.3h0M668.4 552.2h0M679.9 598.2h0M682.2 584.8h0M679.7 582.2h0M683.5 591.5h0M673.8 600.4h0M688.6 604.2h0M686.0 593.5h0M676.9 598.9h0M671.1 602.7h0M687.2 588.7h0M678.1 595.4h0M667.1 585.6h0M673.8 599.7h0M666.4 592.5h0M675.8 599.6h0M670.1 576.0h0M667.3 569.7h0M682.7 599.1h0M671.3 596.0h0M687.7 604.2h0M680.9 580.6h0M673.2 585.1h0M670.8 589.7h0M667.0 566.0h0M672.3 577.4h0M677.5 600.4h0M663.7 571.5h0M678.0 600.5h0M668.8 576.4h0M667.6 599.7h0M667.3 586.6h0M670.7 594.7h0M678.9 544.7h0M669.9 600.6h0M680.5 595.1h0M676.0 565.8h0M672.4 580.9h0M687.8 578.7h0M687.2 549.9h0M668.5 573.8h0M675.3 599.8h0M677.6 584.2h0M672.2 552.7h0M672.7 559.4h0M687.8 588.7h0M678.4 582.6h0M687.2 592.1h0M672.2 570.0h0M679.9 569.1h0M677.3 602.0h0M683.6 575.8h0M668.9 603.0h0M664.3 598.9h0M684.0 596.8h0M686.1 604.0h0M664.5 585.4h0M685.7 577.6h0M675.5 579.8h0M665.3 604.2h0M669.8 566.7h0M667.7 582.6h0M676.7 594.0h0M688.7 554.9h0M673.4 579.2h0M680.9 573.6h0M671.0 578.0h0M666.8 535.5h0M688.3 598.4h0M685.9 557.1h0M665.9 538.5h0M669.8 595.9h0M677.2 580.7h0M682.4 603.8h0M671.2 599.8h0M664.6 591.8h0M670.2 594.6h0M677.7 562.0h0M685.3 571.1h0M663.8 596.1h0M681.5 590.0h0M678.9 569.9h0M671.8 586.2h0M675.2 580.1h0M664.4 572.1h0M675.8 598.3h0M683.0 592.6h0M671.3 596.2h0M677.7 599.0h0M680.5 588.9h0M666.3 583.3h0M674.1 540.4h0M670.8 600.0h0M669.3 552.0h0M678.6 600.8h0M664.5 578.8h0M676.5 577.9h0M681.8 597.5h0M668.8 603.8h0M664.2 583.4h0M685.4 601.7h0M685.1 573.3h0M672.0 604.3h0M685.0 548.8h0M669.1 600.8h0M668.4 590.0h0M681.5 602.7h0M666.7 595.5h0M672.4 600.8h0M679.9 537.5h0M670.0 601.3h0M663.5 592.4h0M686.5 568.5h0M671.6 604.1h0M670.1 597.2h0M676.6 553.1h0M684.6 582.9h0M674.0 584.6h0M676.9 590.0h0M683.3 599.6h0M688.0 600.8h0M679.2 603.8h0M684.2 573.2h0M669.3 540.6h0M669.2 586.8h0M666.0 599.8h0M670.3 573.6h0M669.3 583.8h0M684.1 573.1h0M687.7 595.4h0M666.2 568.4h0M680.1 583.1h0M688.6 545.6h0M686.9 599.4h0M668.7 572.6h0M678.4 604.0h0M680.8 582.3h0M663.8 598.9h0M665.4 534.1h0M681.8 592.2h0M676.4 601.4h0M680.6 599.7h0M666.2 594.9h0M668.3 584.5h0M683.3 590.3h0M673.2 600.9h0M675.8 543.8h0M682.9 549.3h0M665.5 545.6h0M666.3 603.5h0M676.1 600.3h0M680.0 600.8h0M671.8 569.6h0M676.5 575.3h0M682.5 571.1h0M685.4 582.8h0M669.8 592.0h0M682.1 600.3h0M668.8 575.0h0M675.5 599.3h0M682.2 572.1h0M671.5 576.5h0M679.1 584.8h0M670.2 600.7h0M679.2 601.0h0M675.8 592.9h0M674.1 582.1h0M666.6 595.8h0M673.2 592.7h0M683.4 601.6h0M667.7 536.1h0M683.2 576.5h0M684.3 594.3h0M686.8 551.7h0M676.7 592.6h0M676.4 589.3h0M675.6 600.3h0M677.5 596.9h0M685.6 599.0h0M677.6 587.5h0M677.8 590.9h0M683.2 598.3h0M671.2 547.9h0M664.1 602.0h0M687.1 600.6h0M673.2 587.6h0M675.8 579.6h0M675.4 603.9h0M681.4 597.6h0M668.9 604.1h0M669.9 591.5h0M669.4 600.7h0M681.7 582.0h0M674.4 540.8h0M688.8 533.7h0M685.9 580.5h0M688.0 573.4h0M668.7 543.9h0M668.6 604.5h0M682.8 559.0h0M679.9 604.2h0M671.2 604.2h0M673.3 573.1h0M663.8 603.0h0M688.3 575.9h0M666.1 578.2h0M683.8 546.9h0M675.1 602.3h0M681.8 571.7h0M665.3 594.0h0M676.7 604.2h0M675.3 578.7h0M681.2 555.1h0M666.9 584.9h0M687.2 597.0h0M688.7 596.0h0M668.7 594.5h0M665.6 551.4h0M677.1 578.0h0M674.6 565.7h0M679.8 577.1h0M688.4 600.9h0M681.7 571.6h0M681.8 553.4h0M686.2 603.7h0M679.0 580.2h0M671.8 592.3h0M666.9 573.6h0M670.2 576.0h0M678.7 599.1h0M669.4 603.4h0M670.1 572.0h0M664.6 516.2h0M685.6 516.8h0M669.0 527.7h0M683.0 528.7h0M673.0 529.7h0" stroke="#BC3C29" stroke-width="4.0" stroke-linecap="round" fill="none"/>
<path d="M729.8 599.5h0M738.9 577.4h0M733.8 582.1h0M735.3 542.3h0M751.2 554.6h0M741.4 567.1h0M738.9 601.3h0M735.2 578.2h0M748.8 603.7h0M740.3 582.1h0M751.0 603.9h0M747.7 604.2h0M750.7 592.6h0M729.1 588.5h0M738.4 603.0h0M748.0 604.4h0M738.4 600.9h0M750.6 573.7h0M738.5 604.0h0M746.6 601.6h0M728.7 604.5h0M746.0 603.5h0M738.2 603.9h0M751.2 584.6h0M745.9 558.7h0M746.8 599.2h0M744.4 598.5h0M752.5 574.6h0M729.2 582.3h0M745.6 580.3h0M749.6 580.9h0M729.7 555.3h0M740.6 576.8h0M735.4 582.6h0M743.0 573.5h0M732.5 602.6h0M737.5 594.9h0M742.4 590.9h0M730.6 577.9h0M746.2 604.4h0M730.8 602.6h0M727.5 577.9h0M741.4 599.7h0M739.9 595.7h0M740.1 596.2h0M734.2 598.6h0M744.9 599.4h0M750.0 560.1h0M747.7 603.2h0M745.8 587.7h0M727.2 598.2h0M748.9 601.2h0M729.7 601.2h0M749.8 575.1h0M737.3 576.0h0M741.2 513.3h0M749.4 538.3h0" stroke="#0072B5" stroke-width="4.0" stroke-linecap="round" fill="none"/>
<path d="M807.7 574.7h0M799.7 601.9h0M804.1 578.0h0M799.1 603.8h0M791.5 600.9h0M805.8 601.2h0M806.6 604.3h0M816.2 602.8h0M810.1 594.3h0M810.6 601.6h0M801.1 578.1h0M792.3 593.9h0M815.6 589.1h0M799.0 593.3h0M813.7 592.9h0M797.8 598.5h0M812.1 590.2h0M799.3 593.3h0M797.9 604.5h0M794.2 595.7h0M813.2 599.7h0M809.9 590.2h0M810.5 602.1h0M799.3 586.2h0M805.7 594.9h0M792.6 600.3h0M799.5 602.1h0M811.9 601.1h0M799.3 599.6h0M804.0 601.5h0M801.5 588.0h0M812.8 591.0h0M796.1 596.9h0M801.5 602.8h0M806.2 603.0h0M815.0 597.5h0M814.1 588.0h0M791.4 601.1h0M795.4 582.9h0M804.9 587.8h0M791.8 577.5h0M793.9 598.7h0M814.0 600.4h0M803.0 588.6h0M812.5 600.5h0M811.9 584.7h0M801.2 598.8h0M804.1 601.6h0M815.8 598.4h0M794.9 593.3h0M795.8 584.5h0M792.3 599.9h0M793.3 577.9h0M804.8 595.3h0M791.2 598.2h0M808.0 592.6h0M811.2 579.9h0M803.5 602.6h0M795.7 585.8h0M797.0 586.3h0M800.4 585.0h0M807.0 579.2h0M798.8 586.2h0M815.8 601.2h0M802.0 586.0h0M794.5 602.8h0M792.9 573.0h0M814.6 589.2h0M803.6 582.3h0M796.5 603.5h0M811.5 597.0h0M791.8 581.9h0M814.0 593.9h0M815.9 594.8h0M814.9 577.7h0M799.0 590.1h0M814.7 598.7h0M813.6 598.3h0M794.9 584.8h0M808.4 602.3h0M793.2 594.7h0M796.1 600.4h0M816.4 595.4h0M795.1 601.1h0M813.6 601.1h0M814.3 590.2h0M812.2 603.7h0M793.9 592.6h0M801.7 598.6h0M806.2 599.7h0M810.4 574.5h0M802.5 588.0h0M808.2 593.7h0M793.4 604.1h0M809.0 601.7h0M798.5 593.3h0M804.5 587.9h0M811.8 598.1h0M814.7 595.4h0M810.1 591.0h0M813.6 601.3h0M798.8 588.7h0M794.2 595.8h0M815.8 592.1h0M807.4 601.0h0M811.8 578.2h0M814.3 604.5h0M810.9 589.7h0M809.7 591.2h0M799.9 603.3h0M795.4 598.4h0M794.3 587.9h0M811.7 580.2h0M816.0 603.0h0M811.2 593.0h0M803.7 588.6h0M800.2 590.0h0M795.6 585.7h0M801.4 602.2h0M794.5 581.6h0M811.9 556.5h0M807.0 566.1h0M812.0 567.1h0" stroke="#E18727" stroke-width="4.0" stroke-linecap="round" fill="none"/>
<path d="M870.6 592.7h0M858.1 584.2h0M858.3 599.2h0M862.4 590.3h0M862.3 585.8h0M872.0 598.7h0M864.5 597.7h0M874.8 595.3h0M864.4 582.6h0M873.5 593.9h0M867.2 595.3h0M863.6 588.2h0M858.6 591.1h0M865.2 599.3h0M864.5 593.9h0M856.1 601.9h0M870.7 596.7h0M857.1 580.7h0M861.8 600.4h0M862.8 588.2h0M876.4 599.1h0M864.0 602.3h0M855.2 577.3h0M867.5 603.5h0M860.5 602.2h0M858.6 594.5h0M878.2 602.2h0M857.0 598.2h0M860.0 583.1h0M857.5 596.5h0M860.8 586.9h0M855.7 592.2h0M867.8 599.7h0M874.4 600.5h0M866.1 599.7h0M871.2 600.8h0M876.0 602.2h0M870.6 597.6h0M858.5 591.7h0M875.5 580.9h0M879.9 582.4h0M880.1 604.0h0M860.4 585.8h0M876.6 589.5h0M861.1 597.1h0M862.1 596.0h0M865.2 591.9h0M872.0 597.6h0M864.1 581.6h0M861.9 581.7h0M863.2 580.7h0M855.7 604.0h0M869.7 602.8h0M871.3 597.6h0M866.1 597.6h0M879.6 584.7h0M874.6 595.4h0M863.6 579.3h0M869.9 598.0h0M867.8 602.4h0M859.8 603.0h0M864.4 603.7h0M871.9 595.1h0M863.9 602.3h0M858.9 600.0h0M864.2 597.6h0M860.2 589.5h0M862.9 598.3h0M856.5 585.5h0M868.4 603.6h0M865.4 593.3h0M862.0 598.9h0M872.0 590.7h0M877.6 600.2h0M864.7 598.7h0M862.8 597.9h0M879.0 532.5h0M868.9 542.1h0M855.1 545.0h0M877.1 550.8h0M860.0 568.0h0M871.5 567.1h0" stroke="#20854E" stroke-width="4.0" stroke-linecap="round" fill="none"/>
<path d="M929.9 579.0h0M921.2 549.4h0M922.6 530.9h0M918.9 530.1h0M932.9 577.8h0M943.4 553.6h0M929.9 514.7h0M929.2 570.9h0M937.0 546.4h0M934.9 556.7h0M936.3 545.5h0M921.0 530.4h0M927.1 546.8h0M925.0 543.4h0M927.4 567.8h0M939.9 538.8h0M939.0 557.8h0M943.0 582.7h0M940.4 591.1h0M929.0 531.3h0M931.7 544.6h0M929.2 584.1h0M918.6 597.9h0M940.7 555.8h0M936.7 516.0h0M921.8 540.2h0M935.1 520.8h0M923.7 538.8h0M925.7 549.9h0M938.4 531.9h0M940.8 560.7h0M934.3 561.2h0M920.0 543.4h0M926.4 569.9h0M938.0 544.6h0M925.4 522.2h0M930.0 522.1h0M929.1 544.1h0M926.5 549.6h0M931.0 533.4h0M920.4 530.0h0M926.3 532.4h0M926.7 532.5h0M934.3 593.3h0M927.4 547.5h0M931.6 522.1h0M919.4 519.3h0M933.5 586.0h0M918.9 548.5h0M927.7 552.3h0M932.6 602.1h0M936.1 532.1h0M943.1 558.5h0M928.9 564.0h0M919.3 603.5h0M926.4 535.2h0M924.4 556.1h0M941.4 512.8h0M919.0 511.5h0M926.4 567.3h0M942.0 534.7h0M933.3 564.5h0M921.7 536.6h0M924.1 541.3h0M932.5 512.2h0M930.6 542.0h0M933.0 531.0h0M938.1 575.6h0M925.5 533.8h0M929.4 551.3h0M918.6 577.0h0M933.5 584.9h0M941.7 539.8h0M943.2 551.8h0M935.3 540.7h0M931.3 534.6h0M919.7 548.4h0M926.2 529.3h0M935.0 548.8h0M929.5 558.9h0M931.9 523.1h0M921.3 517.3h0M925.5 537.8h0M925.1 543.7h0M919.3 520.4h0M939.9 592.8h0M921.7 561.3h0M930.0 521.5h0M929.7 533.8h0M941.9 578.5h0M938.7 541.8h0M922.4 561.7h0M941.9 517.0h0M939.0 556.1h0M938.1 513.9h0M937.9 549.1h0M942.4 523.1h0M940.7 602.1h0M936.7 536.2h0M931.7 534.4h0M934.1 548.9h0M940.7 570.7h0M925.1 539.0h0M939.9 521.0h0M935.4 576.0h0M930.8 556.8h0M932.7 522.9h0M937.4 544.7h0M921.8 567.7h0M927.4 577.3h0M922.1 551.4h0M929.3 530.8h0M934.8 543.2h0M929.7 577.3h0M934.7 581.2h0M930.1 529.1h0M940.4 574.9h0M938.6 544.7h0M925.4 536.7h0M930.7 530.7h0M943.1 530.7h0M929.3 531.1h0M923.6 589.2h0M919.1 556.3h0M926.0 555.7h0M942.7 523.2h0M932.3 534.4h0M925.7 538.7h0M919.1 567.8h0M930.2 535.3h0M921.3 550.0h0M923.1 521.5h0M934.3 564.6h0M938.2 551.9h0M941.7 522.1h0M939.4 559.6h0M940.9 537.6h0M931.6 527.2h0M929.8 553.1h0M928.7 534.8h0M941.3 551.7h0M939.0 560.2h0M938.9 585.4h0M921.1 598.8h0M922.3 556.6h0M938.1 535.6h0M934.1 572.4h0M941.4 592.1h0M922.5 570.1h0M922.8 506.2h0M921.7 560.9h0M921.5 531.0h0M921.1 563.4h0M943.4 531.8h0M924.4 584.1h0M939.3 559.5h0M933.2 530.3h0M921.9 546.7h0M943.5 525.7h0M939.1 531.3h0M923.4 517.4h0" stroke="#7876B1" stroke-width="4.0" stroke-linecap="round" fill="none"/>
<line x1="638.40" y1="385.60" x2="638.40" y2="614.60" stroke="#000" stroke-width="1.07"/>
<line x1="638.40" y1="614.60" x2="968.70" y2="614.60" stroke="#000" stroke-width="1.07"/>
<line x1="635.70" y1="604.50" x2="638.40" y2="604.50" stroke="#000" stroke-width="1"/>
<text x="633.40" y="608.30" font-family="'Liberation Serif',serif" font-size="11" text-anchor="end" fill="#4D4D4D" color="#4D4D4D">0</text>
<line x1="635.70" y1="546.93" x2="638.40" y2="546.93" stroke="#000" stroke-width="1"/>
<text x="633.40" y="550.73" font-family="'Liberation Serif',serif" font-size="11" text-anchor="end" fill="#4D4D4D" color="#4D4D4D">3</text>
<line x1="635.70" y1="489.36" x2="638.40" y2="489.36" stroke="#000" stroke-width="1"/>
<text x="633.40" y="493.16" font-family="'Liberation Serif',serif" font-size="11" text-anchor="end" fill="#4D4D4D" color="#4D4D4D">6</text>
<line x1="635.70" y1="431.79" x2="638.40" y2="431.79" stroke="#000" stroke-width="1"/>
<text x="633.40" y="435.59" font-family="'Liberation Serif',serif" font-size="11" text-anchor="end" fill="#4D4D4D" color="#4D4D4D">9</text>
<line x1="676.10" y1="614.60" x2="676.10" y2="617.30" stroke="#000" stroke-width="1"/>
<text x="676.10" y="628.10" font-family="'Liberation Serif',serif" font-size="12.5" text-anchor="middle" fill="#000">S1</text>
<text x="676.10" y="642.20" font-family="'Liberation Serif',serif" font-size="12.5" text-anchor="middle" fill="#000">(n=265)</text>
<line x1="739.90" y1="614.60" x2="739.90" y2="617.30" stroke="#000" stroke-width="1"/>
<text x="739.90" y="628.10" font-family="'Liberation Serif',serif" font-size="12.5" text-anchor="middle" fill="#000">S2</text>
<text x="739.90" y="642.20" font-family="'Liberation Serif',serif" font-size="12.5" text-anchor="middle" fill="#000">(n=57)</text>
<line x1="803.70" y1="614.60" x2="803.70" y2="617.30" stroke="#000" stroke-width="1"/>
<text x="803.70" y="628.10" font-family="'Liberation Serif',serif" font-size="12.5" text-anchor="middle" fill="#000">S3</text>
<text x="803.70" y="642.20" font-family="'Liberation Serif',serif" font-size="12.5" text-anchor="middle" fill="#000">(n=123)</text>
<line x1="867.60" y1="614.60" x2="867.60" y2="617.30" stroke="#000" stroke-width="1"/>
<text x="867.60" y="628.10" font-family="'Liberation Serif',serif" font-size="12.5" text-anchor="middle" fill="#000">S4</text>
<text x="867.60" y="642.20" font-family="'Liberation Serif',serif" font-size="12.5" text-anchor="middle" fill="#000">(n=82)</text>
<line x1="931.10" y1="614.60" x2="931.10" y2="617.30" stroke="#000" stroke-width="1"/>
<text x="931.10" y="628.10" font-family="'Liberation Serif',serif" font-size="12.5" text-anchor="middle" fill="#000">Normal</text>
<text x="931.10" y="642.20" font-family="'Liberation Serif',serif" font-size="12.5" text-anchor="middle" fill="#000">(n=161)</text>
<path d="M676.10,503.90 L676.10,501.60 L739.90,501.60 L739.90,503.90" fill="none" stroke="#333" stroke-width="0.8"/>
<text x="708.00" y="499.20" font-family="'Liberation Serif',serif" font-size="12" text-anchor="middle" fill="#333" color="#333">*</text>
<path d="M676.10,492.25 L676.10,489.95 L803.70,489.95 L803.70,492.25" fill="none" stroke="#333" stroke-width="0.8"/>
<text x="739.90" y="487.55" font-family="'Liberation Serif',serif" font-size="12" text-anchor="middle" fill="#333" color="#333">****</text>
<path d="M676.10,480.60 L676.10,478.30 L867.60,478.30 L867.60,480.60" fill="none" stroke="#333" stroke-width="0.8"/>
<text x="771.85" y="475.90" font-family="'Liberation Serif',serif" font-size="12" text-anchor="middle" fill="#333" color="#333">****</text>
<path d="M676.10,468.95 L676.10,466.65 L931.10,466.65 L931.10,468.95" fill="none" stroke="#333" stroke-width="0.8"/>
<text x="803.60" y="464.25" font-family="'Liberation Serif',serif" font-size="12" text-anchor="middle" fill="#333" color="#333">****</text>
<path d="M739.90,457.30 L739.90,455.00 L803.70,455.00 L803.70,457.30" fill="none" stroke="#333" stroke-width="0.8"/>
<text x="771.80" y="451.80" font-family="'Liberation Serif',serif" font-size="11.5" text-anchor="middle" fill="#333" color="#333">ns</text>
<path d="M739.90,445.65 L739.90,443.35 L867.60,443.35 L867.60,445.65" fill="none" stroke="#333" stroke-width="0.8"/>
<text x="803.75" y="440.15" font-family="'Liberation Serif',serif" font-size="11.5" text-anchor="middle" fill="#333" color="#333">ns</text>
<path d="M739.90,434.00 L739.90,431.70 L931.10,431.70 L931.10,434.00" fill="none" stroke="#333" stroke-width="0.8"/>
<text x="835.50" y="429.30" font-family="'Liberation Serif',serif" font-size="12" text-anchor="middle" fill="#333" color="#333">****</text>
<path d="M803.70,422.35 L803.70,420.05 L867.60,420.05 L867.60,422.35" fill="none" stroke="#333" stroke-width="0.8"/>
<text x="835.65" y="416.85" font-family="'Liberation Serif',serif" font-size="11.5" text-anchor="middle" fill="#333" color="#333">ns</text>
<path d="M803.70,410.70 L803.70,408.40 L931.10,408.40 L931.10,410.70" fill="none" stroke="#333" stroke-width="0.8"/>
<text x="867.40" y="406.00" font-family="'Liberation Serif',serif" font-size="12" text-anchor="middle" fill="#333" color="#333">****</text>
<path d="M867.60,399.05 L867.60,396.75 L931.10,396.75 L931.10,399.05" fill="none" stroke="#333" stroke-width="0.8"/>
<text x="899.35" y="394.35" font-family="'Liberation Serif',serif" font-size="12" text-anchor="middle" fill="#333" color="#333">****</text>
<text x="638.60" y="376.40" font-family="'Liberation Serif',serif" font-size="15.5" textLength="182.9" lengthAdjust="spacingAndGlyphs" fill="#000">Kruskal−Wallis test p=4.1e−65</text>
<text x="622.90" y="500.10" font-family="'Liberation Serif',serif" font-size="12.7" text-anchor="middle" fill="#000" transform="rotate(-90 622.90 500.10)">FREM1 expression</text>
<line x1="1074.50" y1="561.91" x2="1074.50" y2="573.94" stroke="#BC3C29" stroke-width="1"/>
<line x1="1074.50" y1="589.22" x2="1074.50" y2="602.40" stroke="#BC3C29" stroke-width="1"/>
<line x1="1062.10" y1="561.91" x2="1086.90" y2="561.91" stroke="#BC3C29" stroke-width="1"/>
<line x1="1062.10" y1="602.40" x2="1086.90" y2="602.40" stroke="#BC3C29" stroke-width="1"/>
<rect x="1058.61" y="573.94" width="31.79" height="15.28" fill="#fff" stroke="#BC3C29" stroke-width="1"/>
<line x1="1058.61" y1="582.73" x2="1090.39" y2="582.73" stroke="#BC3C29" stroke-width="1.6"/>
<line x1="1138.00" y1="545.29" x2="1138.00" y2="577.95" stroke="#0072B5" stroke-width="1"/>
<line x1="1138.00" y1="601.63" x2="1138.00" y2="606.60" stroke="#0072B5" stroke-width="1"/>
<line x1="1125.60" y1="545.29" x2="1150.40" y2="545.29" stroke="#0072B5" stroke-width="1"/>
<line x1="1125.60" y1="606.60" x2="1150.40" y2="606.60" stroke="#0072B5" stroke-width="1"/>
<rect x="1122.11" y="577.95" width="31.79" height="23.68" fill="#fff" stroke="#0072B5" stroke-width="1"/>
<line x1="1122.11" y1="591.89" x2="1153.89" y2="591.89" stroke="#0072B5" stroke-width="1.6"/>
<line x1="1201.80" y1="562.48" x2="1201.80" y2="587.69" stroke="#E18727" stroke-width="1"/>
<line x1="1201.80" y1="604.31" x2="1201.80" y2="606.60" stroke="#E18727" stroke-width="1"/>
<line x1="1189.40" y1="562.48" x2="1214.20" y2="562.48" stroke="#E18727" stroke-width="1"/>
<line x1="1189.40" y1="606.60" x2="1214.20" y2="606.60" stroke="#E18727" stroke-width="1"/>
<rect x="1185.91" y="587.69" width="31.79" height="16.62" fill="#fff" stroke="#E18727" stroke-width="1"/>
<line x1="1185.91" y1="595.14" x2="1217.69" y2="595.14" stroke="#E18727" stroke-width="1.6"/>
<line x1="1265.00" y1="581.01" x2="1265.00" y2="594.57" stroke="#20854E" stroke-width="1"/>
<line x1="1265.00" y1="604.31" x2="1265.00" y2="606.60" stroke="#20854E" stroke-width="1"/>
<line x1="1252.60" y1="581.01" x2="1277.40" y2="581.01" stroke="#20854E" stroke-width="1"/>
<line x1="1252.60" y1="606.60" x2="1277.40" y2="606.60" stroke="#20854E" stroke-width="1"/>
<rect x="1249.11" y="594.57" width="31.79" height="9.74" fill="#fff" stroke="#20854E" stroke-width="1"/>
<line x1="1249.11" y1="600.11" x2="1280.89" y2="600.11" stroke="#20854E" stroke-width="1.6"/>
<line x1="1328.80" y1="509.00" x2="1328.80" y2="534.78" stroke="#7876B1" stroke-width="1"/>
<line x1="1328.80" y1="563.24" x2="1328.80" y2="606.03" stroke="#7876B1" stroke-width="1"/>
<line x1="1316.40" y1="509.00" x2="1341.20" y2="509.00" stroke="#7876B1" stroke-width="1"/>
<line x1="1316.40" y1="606.03" x2="1341.20" y2="606.03" stroke="#7876B1" stroke-width="1"/>
<rect x="1312.91" y="534.78" width="31.79" height="28.46" fill="#fff" stroke="#7876B1" stroke-width="1"/>
<line x1="1312.91" y1="547.96" x2="1344.69" y2="547.96" stroke="#7876B1" stroke-width="1.6"/>
<path d="M1072.3 596.1h0M1083.4 578.9h0M1075.1 580.8h0M1082.1 587.2h0M1076.2 590.4h0M1076.8 583.3h0M1072.3 571.1h0M1064.6 586.2h0M1079.7 577.3h0M1083.6 602.4h0M1080.2 561.9h0M1072.5 583.8h0M1064.0 598.5h0M1066.5 571.7h0" stroke="#BC3C29" stroke-width="4.0" stroke-linecap="round" fill="none"/>
<path d="M1131.5 556.4h0M1141.1 588.8h0M1138.3 570.3h0M1142.9 596.4h0M1147.4 598.2h0M1145.1 580.9h0M1132.7 601.7h0M1136.5 589.0h0M1133.2 594.0h0M1145.0 550.2h0M1131.7 603.5h0M1137.3 582.9h0M1144.5 593.3h0M1136.5 599.6h0M1143.1 590.7h0M1140.8 596.8h0M1132.6 551.9h0M1134.9 577.7h0M1140.0 605.2h0M1137.2 604.1h0M1143.6 605.2h0M1142.6 554.6h0M1128.8 587.5h0M1129.2 603.3h0M1127.7 605.3h0M1133.4 576.3h0M1125.7 599.8h0M1138.1 577.9h0M1133.9 604.4h0M1127.8 595.1h0M1146.7 605.8h0M1127.0 577.3h0M1142.8 605.4h0M1130.9 603.2h0M1143.3 586.8h0M1147.2 579.4h0M1132.2 593.7h0M1143.3 601.8h0M1137.1 593.6h0M1144.1 603.3h0M1128.2 578.9h0M1125.4 561.5h0M1139.5 605.1h0M1139.4 579.0h0M1126.6 586.0h0M1139.4 576.3h0M1139.0 579.4h0M1128.1 605.9h0M1140.5 592.0h0M1131.1 575.7h0M1148.6 579.9h0M1140.0 603.7h0M1134.9 597.6h0M1136.7 581.2h0M1135.9 595.1h0M1137.3 594.5h0M1142.6 593.0h0M1145.3 595.6h0M1136.6 585.6h0M1147.1 572.9h0M1146.5 602.9h0M1150.0 591.9h0M1141.0 603.8h0M1140.7 572.9h0M1127.7 583.0h0M1127.6 573.8h0M1148.5 580.0h0M1138.4 602.2h0M1144.7 605.7h0M1142.3 593.2h0M1150.4 582.5h0M1133.7 598.5h0M1143.2 603.1h0M1144.0 589.5h0M1125.7 597.4h0M1142.4 569.9h0M1129.3 547.7h0M1135.0 562.8h0M1129.9 545.9h0M1125.9 583.9h0M1131.4 579.5h0M1138.1 597.6h0M1144.7 605.5h0M1138.3 587.7h0M1146.7 590.2h0M1131.2 598.0h0M1127.8 592.2h0M1145.4 570.1h0M1133.1 576.0h0M1130.2 603.2h0M1128.7 602.5h0M1127.4 589.2h0M1143.7 601.8h0M1129.3 591.0h0M1145.9 586.7h0M1139.1 599.1h0M1126.3 601.3h0M1137.5 602.1h0M1132.3 553.0h0M1139.4 592.4h0M1148.8 601.7h0M1140.2 604.8h0M1149.5 549.0h0M1142.5 591.0h0M1144.6 564.9h0M1146.3 591.8h0M1134.0 576.4h0M1139.2 599.4h0M1134.5 576.3h0M1146.6 578.0h0M1146.5 578.5h0M1140.7 588.0h0M1139.8 600.7h0M1132.1 595.9h0M1135.3 584.7h0M1131.5 574.5h0M1142.0 604.2h0M1128.3 576.2h0M1130.3 595.0h0M1142.8 604.6h0M1138.2 576.2h0M1141.0 602.1h0M1127.0 604.8h0M1135.2 604.4h0M1150.6 602.9h0M1137.2 573.0h0M1145.1 603.0h0M1132.6 605.1h0M1147.3 576.1h0M1134.3 598.3h0M1131.4 590.0h0M1126.0 601.8h0M1126.6 584.4h0M1134.9 601.8h0M1148.3 587.5h0M1130.8 598.0h0M1135.9 597.5h0M1147.6 602.3h0M1149.6 601.8h0M1144.6 587.8h0M1133.7 579.4h0M1141.4 553.6h0M1130.7 547.0h0M1140.7 606.0h0M1139.5 605.4h0M1146.1 583.3h0M1135.7 595.8h0M1135.9 584.7h0M1134.5 586.7h0M1148.1 602.2h0M1148.4 555.7h0M1130.2 601.9h0M1147.3 554.2h0M1131.4 582.1h0M1143.1 603.4h0M1138.2 604.5h0M1149.4 577.3h0M1129.9 583.0h0M1127.5 602.5h0M1147.0 580.8h0M1132.9 583.0h0M1132.2 602.1h0M1135.5 603.7h0M1133.1 602.0h0M1142.7 605.1h0M1140.5 601.8h0M1149.0 590.8h0M1145.2 572.3h0M1148.8 545.3h0M1144.3 605.4h0M1128.2 596.5h0M1126.4 602.0h0M1126.4 558.0h0M1132.3 602.9h0M1134.9 569.7h0M1131.5 576.7h0M1127.0 596.0h0M1125.8 598.7h0M1128.3 606.6h0M1138.4 605.0h0M1127.8 587.3h0M1138.6 584.5h0M1148.6 602.9h0M1145.4 593.1h0M1136.3 581.4h0M1144.5 559.7h0M1127.8 581.3h0M1149.0 585.2h0M1144.5 598.6h0M1145.0 601.6h0M1125.6 604.5h0M1138.9 599.7h0M1142.7 598.3h0M1149.6 573.3h0M1144.5 602.9h0M1131.5 572.2h0M1148.9 582.5h0M1146.6 598.9h0M1136.4 578.9h0M1137.8 586.4h0M1132.5 582.3h0M1131.7 599.0h0M1132.3 569.6h0M1132.3 581.6h0M1143.1 567.4h0M1132.9 592.7h0M1129.7 602.3h0M1129.9 588.1h0M1126.1 581.1h0M1144.6 599.4h0M1144.0 579.7h0M1137.3 593.4h0M1132.6 601.6h0M1141.9 585.5h0M1130.7 598.5h0M1133.6 592.2h0M1144.7 589.8h0M1133.7 605.8h0M1137.2 570.4h0M1127.3 598.5h0M1129.8 518.7h0M1139.6 518.7h0M1129.1 535.9h0M1148.0 539.8h0M1151.0 540.7h0M1144.0 541.7h0M1126.0 542.6h0" stroke="#0072B5" stroke-width="4.0" stroke-linecap="round" fill="none"/>
<path d="M1205.7 604.5h0M1210.5 572.2h0M1197.7 599.5h0M1191.6 605.7h0M1192.8 604.4h0M1214.0 589.4h0M1200.1 593.7h0M1204.7 601.2h0M1202.8 592.4h0M1190.3 604.4h0M1189.8 570.2h0M1208.5 587.7h0M1198.9 604.5h0M1208.2 606.6h0M1202.3 599.9h0M1197.7 600.1h0M1197.8 582.5h0M1201.9 588.5h0M1189.7 593.9h0M1201.1 580.8h0M1214.1 593.7h0M1199.5 605.8h0M1214.5 593.8h0M1199.8 579.2h0M1204.7 605.0h0M1212.0 594.4h0M1213.8 575.4h0M1205.2 570.5h0M1195.9 602.3h0M1195.9 584.6h0M1199.6 590.1h0M1193.5 573.7h0M1200.2 602.6h0M1202.2 606.4h0M1189.3 592.3h0M1192.8 583.9h0M1205.4 597.3h0M1205.4 602.1h0M1197.6 605.4h0M1195.9 565.0h0M1190.7 594.2h0M1212.2 605.2h0M1209.7 575.9h0M1212.0 604.7h0M1214.5 585.9h0M1203.0 605.5h0M1196.9 588.1h0M1208.1 601.8h0M1204.7 589.9h0M1207.6 601.8h0M1208.3 587.8h0M1207.4 600.0h0M1193.8 606.2h0M1212.5 599.3h0M1193.3 592.3h0M1203.6 598.3h0M1202.1 599.4h0M1189.4 599.5h0M1202.5 598.1h0M1209.7 605.1h0M1197.1 600.4h0M1209.3 590.9h0M1199.0 569.0h0M1210.6 603.6h0M1210.5 566.8h0M1205.2 598.9h0M1195.9 588.1h0M1201.2 605.8h0M1191.0 592.5h0M1203.3 592.6h0M1197.7 587.7h0M1197.1 597.3h0M1212.3 587.2h0M1190.9 579.4h0M1195.0 602.1h0M1206.6 603.6h0M1208.9 603.6h0M1198.2 578.5h0M1195.9 591.8h0M1189.4 586.3h0M1207.0 604.3h0M1207.3 605.7h0M1190.9 601.3h0M1210.1 569.7h0M1194.3 604.0h0M1191.2 583.7h0M1192.5 589.7h0M1211.1 590.2h0M1189.6 588.1h0M1202.0 605.4h0M1196.1 587.4h0M1189.2 592.2h0M1213.3 588.4h0M1189.7 606.2h0M1201.6 591.8h0M1193.4 586.1h0M1197.6 604.9h0M1198.3 586.7h0M1213.1 594.9h0M1209.9 595.1h0M1197.4 599.3h0M1194.8 595.0h0M1190.3 606.2h0M1201.4 599.1h0M1194.3 601.4h0M1207.9 596.7h0M1211.9 604.7h0M1207.7 599.5h0M1203.9 589.9h0M1210.0 594.0h0M1194.4 593.2h0M1203.9 604.7h0M1210.0 600.0h0M1196.0 605.0h0M1202.0 604.6h0M1203.6 594.4h0M1212.8 582.1h0M1202.6 590.9h0M1201.9 604.5h0M1191.4 573.6h0M1201.6 604.3h0M1202.9 587.9h0M1201.5 575.1h0M1202.4 597.2h0M1207.1 605.9h0M1206.2 605.1h0M1191.9 586.9h0M1212.7 575.6h0M1199.4 605.1h0M1205.3 604.7h0M1192.2 605.3h0M1189.7 563.2h0M1207.7 577.9h0M1193.3 590.6h0M1199.0 593.4h0M1202.7 605.8h0M1197.2 575.9h0M1204.8 586.9h0M1197.5 591.4h0M1191.8 605.5h0M1196.2 605.3h0M1207.4 573.4h0M1207.7 598.4h0M1192.0 585.1h0M1205.8 591.2h0M1210.7 596.3h0M1202.0 605.1h0M1211.3 603.6h0M1203.5 587.7h0M1201.1 590.2h0M1213.8 597.3h0M1197.4 566.7h0M1189.2 591.1h0M1205.3 606.2h0M1189.5 579.4h0M1190.0 598.4h0M1199.6 587.7h0M1205.5 596.0h0M1203.6 587.6h0M1193.5 589.0h0M1213.7 590.3h0M1199.9 600.9h0M1195.7 605.1h0M1211.9 606.5h0M1189.6 580.7h0M1200.3 576.0h0M1198.6 601.3h0M1191.4 606.2h0M1199.4 605.6h0M1196.6 574.1h0M1197.9 590.6h0M1203.0 593.0h0M1198.8 604.6h0M1209.1 606.3h0M1204.4 606.0h0M1202.2 605.9h0M1208.3 591.9h0M1190.1 593.4h0M1207.7 592.8h0M1193.6 604.6h0M1214.4 593.9h0M1208.5 605.1h0M1208.7 597.2h0M1206.0 597.0h0M1211.6 571.2h0M1210.5 584.0h0M1194.0 574.6h0M1211.1 601.9h0M1214.1 589.6h0M1213.1 588.0h0M1213.3 605.3h0M1208.2 588.6h0M1194.6 578.8h0M1210.5 600.8h0M1192.1 588.0h0M1214.2 580.2h0M1195.9 531.2h0M1194.1 534.0h0M1211.7 541.7h0M1202.9 543.6h0M1212.9 552.2h0M1194.3 553.1h0M1193.8 555.0h0M1209.6 556.9h0M1189.4 558.9h0M1200.1 559.8h0" stroke="#E18727" stroke-width="4.0" stroke-linecap="round" fill="none"/>
<path d="M1264.8 597.5h0M1264.7 601.1h0M1253.5 600.0h0M1267.8 595.7h0M1276.4 601.5h0M1274.7 598.9h0M1276.6 599.7h0M1260.8 598.0h0M1268.4 595.6h0M1268.0 604.1h0M1260.3 592.3h0M1271.4 604.4h0M1273.4 598.9h0M1271.3 598.5h0M1277.2 600.6h0M1274.1 599.2h0M1252.7 597.1h0M1275.1 604.6h0M1253.4 601.6h0M1274.2 594.1h0M1263.5 590.0h0M1266.9 583.1h0M1264.1 596.1h0M1266.5 584.7h0M1269.3 596.5h0M1274.3 604.4h0M1256.5 597.8h0M1276.0 593.3h0M1268.0 592.0h0M1277.1 588.6h0M1263.1 581.0h0M1253.8 605.2h0M1264.3 605.0h0M1255.8 599.7h0M1261.3 605.5h0M1268.0 606.0h0M1268.8 591.4h0M1267.3 592.7h0M1271.7 603.3h0M1261.5 595.6h0M1255.4 604.2h0M1253.7 583.7h0M1273.3 604.3h0M1272.3 601.1h0M1272.2 603.6h0M1259.2 604.4h0M1273.2 604.1h0M1256.8 598.7h0M1257.5 589.3h0M1276.5 599.8h0M1256.1 594.1h0M1273.0 602.8h0M1276.3 605.5h0M1273.9 596.2h0M1269.2 597.6h0M1258.5 601.9h0M1259.4 604.5h0M1277.5 606.2h0M1274.4 603.1h0M1262.2 583.2h0M1256.3 605.1h0M1263.9 596.5h0M1273.7 598.7h0M1268.4 599.5h0M1268.8 602.9h0M1254.3 604.9h0M1265.9 606.6h0M1256.4 600.6h0M1261.2 591.9h0M1275.0 598.6h0M1265.7 603.1h0M1252.6 599.4h0M1255.8 545.5h0M1263.6 569.4h0M1257.0 576.0h0" stroke="#20854E" stroke-width="4.0" stroke-linecap="round" fill="none"/>
<path d="M1335.6 534.9h0M1334.5 553.4h0M1327.5 590.7h0M1339.5 558.7h0M1333.9 519.2h0M1325.4 537.1h0M1326.8 525.5h0M1331.3 554.8h0M1320.1 545.2h0M1340.7 531.4h0M1316.5 559.7h0M1335.7 553.1h0M1320.5 545.0h0M1332.2 561.1h0M1341.3 530.1h0M1326.1 583.2h0M1337.4 595.8h0M1338.9 512.3h0M1325.6 559.1h0M1327.9 555.7h0M1333.3 606.0h0M1330.1 598.3h0M1323.8 535.8h0M1327.9 559.8h0M1320.8 554.2h0M1338.9 546.5h0M1331.1 529.1h0M1332.2 541.0h0M1321.6 532.0h0M1334.8 571.7h0M1335.6 567.2h0M1331.2 534.6h0M1331.4 544.2h0M1334.8 543.8h0M1341.2 533.2h0M1320.6 538.1h0M1321.5 537.3h0M1332.8 547.6h0M1316.2 536.3h0M1341.3 538.2h0M1325.8 533.7h0M1319.1 584.4h0M1340.1 600.1h0M1323.1 582.3h0M1334.1 558.0h0M1340.0 601.7h0M1326.5 533.8h0M1336.5 529.5h0M1320.8 600.2h0M1317.6 520.9h0M1329.9 550.7h0M1330.2 531.3h0M1337.5 559.8h0M1331.0 560.1h0M1326.4 574.5h0M1327.0 534.6h0M1333.1 531.0h0M1336.0 536.9h0M1329.8 553.5h0M1332.9 579.5h0M1334.1 581.0h0M1324.5 550.3h0M1336.5 584.1h0M1340.6 551.8h0M1331.8 585.3h0M1324.3 575.5h0M1321.1 603.3h0M1337.1 548.7h0M1338.3 531.9h0M1330.6 519.7h0M1340.4 560.7h0M1326.2 541.3h0M1338.9 540.2h0M1338.7 589.2h0M1331.3 511.4h0M1336.0 520.9h0M1327.4 544.0h0M1327.3 557.8h0M1339.6 547.6h0M1327.9 513.1h0M1331.0 547.0h0M1327.1 519.1h0M1318.6 566.7h0M1321.4 538.8h0M1327.7 531.7h0M1320.4 524.0h0M1337.2 561.6h0M1329.3 548.7h0M1332.0 594.6h0M1330.4 603.4h0M1324.2 589.0h0M1332.5 536.7h0M1317.3 572.7h0M1319.9 555.1h0M1329.6 553.9h0M1320.3 557.2h0M1332.2 541.8h0M1339.4 543.0h0M1318.6 552.5h0M1316.3 572.8h0M1325.1 527.0h0M1332.4 581.4h0M1325.1 559.2h0M1332.1 539.4h0M1335.7 549.0h0M1326.5 526.6h0M1317.5 547.8h0M1335.9 512.4h0M1338.6 540.7h0M1339.8 552.8h0M1326.5 516.2h0M1336.7 543.4h0M1333.3 531.6h0M1338.1 552.6h0M1339.8 538.4h0M1326.1 531.4h0M1321.1 518.7h0M1331.8 551.7h0M1325.8 555.1h0M1322.9 530.8h0M1341.2 572.1h0M1340.2 538.7h0M1333.8 580.2h0M1316.7 555.1h0M1318.5 560.6h0M1316.5 581.7h0M1319.8 527.8h0M1328.6 545.3h0M1321.3 536.5h0M1332.2 534.8h0M1325.5 535.9h0M1325.3 531.8h0M1317.4 536.4h0M1341.0 553.2h0M1334.2 554.3h0M1333.7 570.4h0M1330.5 556.4h0M1324.9 534.0h0M1336.7 590.7h0M1318.4 515.0h0M1325.5 529.5h0M1339.4 560.2h0M1334.9 515.5h0M1320.2 562.1h0M1333.0 566.3h0M1323.6 539.1h0M1334.5 530.7h0M1338.9 562.8h0M1334.6 547.1h0M1327.6 541.2h0M1340.7 541.4h0M1322.4 565.8h0M1335.0 565.9h0M1333.3 563.6h0M1328.6 509.0h0M1340.1 527.6h0M1336.2 576.2h0M1321.9 534.6h0M1335.5 555.5h0M1334.0 572.4h0M1321.1 553.9h0" stroke="#7876B1" stroke-width="4.0" stroke-linecap="round" fill="none"/>
<line x1="1036.80" y1="388.30" x2="1036.80" y2="617.10" stroke="#000" stroke-width="1.07"/>
<line x1="1036.80" y1="617.10" x2="1366.40" y2="617.10" stroke="#000" stroke-width="1.07"/>
<line x1="1034.10" y1="606.60" x2="1036.80" y2="606.60" stroke="#000" stroke-width="1"/>
<text x="1031.80" y="610.40" font-family="'Liberation Serif',serif" font-size="11" text-anchor="end" fill="#4D4D4D" color="#4D4D4D">0</text>
<line x1="1034.10" y1="549.30" x2="1036.80" y2="549.30" stroke="#000" stroke-width="1"/>
<text x="1031.80" y="553.10" font-family="'Liberation Serif',serif" font-size="11" text-anchor="end" fill="#4D4D4D" color="#4D4D4D">3</text>
<line x1="1034.10" y1="492.00" x2="1036.80" y2="492.00" stroke="#000" stroke-width="1"/>
<text x="1031.80" y="495.80" font-family="'Liberation Serif',serif" font-size="11" text-anchor="end" fill="#4D4D4D" color="#4D4D4D">6</text>
<line x1="1034.10" y1="434.70" x2="1036.80" y2="434.70" stroke="#000" stroke-width="1"/>
<text x="1031.80" y="438.50" font-family="'Liberation Serif',serif" font-size="11" text-anchor="end" fill="#4D4D4D" color="#4D4D4D">9</text>
<line x1="1074.50" y1="617.10" x2="1074.50" y2="619.80" stroke="#000" stroke-width="1"/>
<text x="1074.50" y="630.60" font-family="'Liberation Serif',serif" font-size="12.5" text-anchor="middle" fill="#000">G1</text>
<text x="1074.50" y="644.70" font-family="'Liberation Serif',serif" font-size="12.5" text-anchor="middle" fill="#000">(n=14)</text>
<line x1="1138.00" y1="617.10" x2="1138.00" y2="619.80" stroke="#000" stroke-width="1"/>
<text x="1138.00" y="630.60" font-family="'Liberation Serif',serif" font-size="12.5" text-anchor="middle" fill="#000">G2</text>
<text x="1138.00" y="644.70" font-family="'Liberation Serif',serif" font-size="12.5" text-anchor="middle" fill="#000">(n=227)</text>
<line x1="1201.80" y1="617.10" x2="1201.80" y2="619.80" stroke="#000" stroke-width="1"/>
<text x="1201.80" y="630.60" font-family="'Liberation Serif',serif" font-size="12.5" text-anchor="middle" fill="#000">G3</text>
<text x="1201.80" y="644.70" font-family="'Liberation Serif',serif" font-size="12.5" text-anchor="middle" fill="#000">(n=206)</text>
<line x1="1265.00" y1="617.10" x2="1265.00" y2="619.80" stroke="#000" stroke-width="1"/>
<text x="1265.00" y="630.60" font-family="'Liberation Serif',serif" font-size="12.5" text-anchor="middle" fill="#000">G4</text>
<text x="1265.00" y="644.70" font-family="'Liberation Serif',serif" font-size="12.5" text-anchor="middle" fill="#000">(n=75)</text>
<line x1="1328.80" y1="617.10" x2="1328.80" y2="619.80" stroke="#000" stroke-width="1"/>
<text x="1328.80" y="630.60" font-family="'Liberation Serif',serif" font-size="12.5" text-anchor="middle" fill="#000">Normal</text>
<text x="1328.80" y="644.70" font-family="'Liberation Serif',serif" font-size="12.5" text-anchor="middle" fill="#000">(n=161)</text>
<path d="M1074.50,506.30 L1074.50,504.00 L1138.00,504.00 L1138.00,506.30" fill="none" stroke="#333" stroke-width="0.8"/>
<text x="1106.25" y="500.80" font-family="'Liberation Serif',serif" font-size="11.5" text-anchor="middle" fill="#333" color="#333">ns</text>
<path d="M1074.50,494.60 L1074.50,492.30 L1201.80,492.30 L1201.80,494.60" fill="none" stroke="#333" stroke-width="0.8"/>
<text x="1138.15" y="489.90" font-family="'Liberation Serif',serif" font-size="12" text-anchor="middle" fill="#333" color="#333">***</text>
<path d="M1074.50,482.90 L1074.50,480.60 L1265.00,480.60 L1265.00,482.90" fill="none" stroke="#333" stroke-width="0.8"/>
<text x="1169.75" y="478.20" font-family="'Liberation Serif',serif" font-size="12" text-anchor="middle" fill="#333" color="#333">****</text>
<path d="M1074.50,471.20 L1074.50,468.90 L1328.80,468.90 L1328.80,471.20" fill="none" stroke="#333" stroke-width="0.8"/>
<text x="1201.65" y="466.50" font-family="'Liberation Serif',serif" font-size="12" text-anchor="middle" fill="#333" color="#333">****</text>
<path d="M1138.00,459.50 L1138.00,457.20 L1201.80,457.20 L1201.80,459.50" fill="none" stroke="#333" stroke-width="0.8"/>
<text x="1169.90" y="454.80" font-family="'Liberation Serif',serif" font-size="12" text-anchor="middle" fill="#333" color="#333">****</text>
<path d="M1138.00,447.80 L1138.00,445.50 L1265.00,445.50 L1265.00,447.80" fill="none" stroke="#333" stroke-width="0.8"/>
<text x="1201.50" y="443.10" font-family="'Liberation Serif',serif" font-size="12" text-anchor="middle" fill="#333" color="#333">****</text>
<path d="M1138.00,436.10 L1138.00,433.80 L1328.80,433.80 L1328.80,436.10" fill="none" stroke="#333" stroke-width="0.8"/>
<text x="1233.40" y="431.40" font-family="'Liberation Serif',serif" font-size="12" text-anchor="middle" fill="#333" color="#333">****</text>
<path d="M1201.80,424.40 L1201.80,422.10 L1265.00,422.10 L1265.00,424.40" fill="none" stroke="#333" stroke-width="0.8"/>
<text x="1233.40" y="418.90" font-family="'Liberation Serif',serif" font-size="11.5" text-anchor="middle" fill="#333" color="#333">ns</text>
<path d="M1201.80,412.70 L1201.80,410.40 L1328.80,410.40 L1328.80,412.70" fill="none" stroke="#333" stroke-width="0.8"/>
<text x="1265.30" y="408.00" font-family="'Liberation Serif',serif" font-size="12" text-anchor="middle" fill="#333" color="#333">****</text>
<path d="M1265.00,401.00 L1265.00,398.70 L1328.80,398.70 L1328.80,401.00" fill="none" stroke="#333" stroke-width="0.8"/>
<text x="1296.90" y="396.30" font-family="'Liberation Serif',serif" font-size="12" text-anchor="middle" fill="#333" color="#333">****</text>
<text x="1036.60" y="378.60" font-family="'Liberation Serif',serif" font-size="15.5" textLength="183.8" lengthAdjust="spacingAndGlyphs" fill="#000">Kruskal−Wallis test p=4.6e−66</text>
<text x="1021.30" y="502.70" font-family="'Liberation Serif',serif" font-size="12.7" text-anchor="middle" fill="#000" transform="rotate(-90 1021.30 502.70)">FREM1 expression</text>
<line x1="1510.30" y1="485.78" x2="1510.30" y2="556.88" stroke="#BC3C29" stroke-width="1"/>
<line x1="1510.30" y1="605.95" x2="1510.30" y2="612.60" stroke="#BC3C29" stroke-width="1"/>
<line x1="1480.91" y1="485.78" x2="1539.69" y2="485.78" stroke="#BC3C29" stroke-width="1"/>
<line x1="1480.91" y1="612.60" x2="1539.69" y2="612.60" stroke="#BC3C29" stroke-width="1"/>
<rect x="1472.62" y="556.88" width="75.35" height="49.06" fill="#fff" stroke="#BC3C29" stroke-width="1"/>
<line x1="1472.62" y1="589.73" x2="1547.97" y2="589.73" stroke="#BC3C29" stroke-width="1.6"/>
<line x1="1661.00" y1="554.80" x2="1661.00" y2="585.57" stroke="#0072B5" stroke-width="1"/>
<line x1="1661.00" y1="608.44" x2="1661.00" y2="612.60" stroke="#0072B5" stroke-width="1"/>
<line x1="1631.61" y1="554.80" x2="1690.39" y2="554.80" stroke="#0072B5" stroke-width="1"/>
<line x1="1631.61" y1="612.60" x2="1690.39" y2="612.60" stroke="#0072B5" stroke-width="1"/>
<rect x="1623.33" y="585.57" width="75.35" height="22.87" fill="#fff" stroke="#0072B5" stroke-width="1"/>
<line x1="1623.33" y1="600.96" x2="1698.67" y2="600.96" stroke="#0072B5" stroke-width="1.6"/>
<path d="M1522.3 559.0h0M1495.5 556.1h0M1485.4 579.3h0M1536.7 607.3h0M1525.8 556.8h0M1535.6 608.7h0M1517.2 571.5h0M1503.8 565.7h0M1512.7 593.2h0M1538.2 565.8h0M1484.0 488.5h0M1494.1 596.6h0M1496.4 558.2h0M1481.4 557.5h0M1513.3 610.4h0M1488.3 537.3h0M1512.3 603.9h0M1480.7 556.9h0M1527.3 611.9h0M1502.4 584.1h0M1492.0 607.4h0M1496.7 518.2h0M1482.4 559.7h0M1497.9 570.2h0M1533.1 516.1h0M1499.6 608.6h0M1537.8 607.4h0M1520.8 589.4h0M1506.6 607.1h0M1489.9 561.0h0M1526.4 511.4h0M1500.6 597.3h0M1494.3 582.4h0M1533.7 605.8h0M1529.5 502.9h0M1507.3 610.2h0M1491.1 612.1h0M1502.9 590.0h0M1525.3 564.5h0M1501.3 605.1h0M1485.8 606.2h0M1494.0 550.7h0M1492.6 596.9h0M1500.5 606.1h0M1523.2 610.5h0M1500.0 598.8h0M1513.5 545.1h0M1523.4 606.7h0M1510.7 545.8h0M1526.9 607.4h0M1499.5 595.2h0M1525.6 579.4h0M1504.5 545.9h0M1537.2 548.9h0M1514.8 580.2h0M1512.4 496.1h0M1490.0 608.3h0M1518.9 546.1h0M1493.9 610.0h0M1491.5 579.8h0M1500.7 573.8h0M1528.9 534.5h0M1489.9 611.3h0M1517.1 533.8h0M1517.5 566.5h0M1495.8 606.4h0M1535.4 592.7h0M1538.1 597.7h0M1526.3 591.7h0M1518.8 575.5h0M1489.5 592.0h0M1525.8 567.5h0M1485.9 564.8h0M1484.6 597.7h0M1524.6 605.7h0M1483.7 562.7h0M1482.0 606.0h0M1489.2 566.7h0M1518.4 600.2h0M1501.3 579.6h0M1530.8 545.8h0M1483.2 598.9h0M1485.5 609.0h0M1522.5 603.5h0M1524.9 606.3h0M1515.6 590.9h0M1527.3 505.9h0M1532.0 589.9h0M1511.8 528.1h0M1523.2 606.2h0M1516.6 530.6h0M1486.8 607.1h0M1522.3 608.1h0M1529.9 557.9h0M1492.2 589.1h0M1519.5 556.9h0M1506.0 588.6h0M1509.8 612.0h0M1518.5 610.2h0M1487.7 574.8h0M1537.9 611.4h0M1480.5 594.0h0M1536.7 523.1h0M1515.2 488.5h0M1503.5 585.1h0M1518.1 611.1h0M1510.3 607.2h0M1504.5 578.0h0M1527.9 606.1h0M1482.5 567.1h0M1483.8 573.5h0M1491.7 567.5h0M1508.3 588.6h0M1495.6 601.2h0M1481.2 591.8h0M1512.9 596.3h0M1522.5 607.4h0M1516.8 556.9h0M1487.7 506.3h0M1523.0 554.8h0M1511.3 566.0h0M1521.2 584.5h0M1485.3 539.4h0M1536.1 562.8h0M1506.3 577.5h0M1539.8 560.3h0M1497.1 542.5h0M1486.4 599.3h0M1515.3 579.6h0M1480.5 552.6h0M1513.6 567.0h0M1505.6 544.6h0M1517.9 554.9h0M1483.4 509.0h0M1514.4 604.2h0M1480.8 564.1h0M1524.3 584.4h0M1495.1 494.2h0M1508.0 495.6h0M1524.9 567.7h0M1488.6 489.2h0M1505.0 604.6h0M1492.3 554.4h0M1520.3 606.7h0M1536.4 593.0h0M1494.2 572.6h0M1524.2 571.8h0M1493.3 608.0h0M1534.7 554.2h0M1538.7 602.4h0M1493.5 583.8h0M1487.5 553.1h0M1526.0 587.4h0M1534.9 604.5h0M1540.3 603.5h0M1520.3 590.3h0M1504.7 584.2h0M1485.0 598.4h0M1515.3 603.3h0M1510.8 603.2h0M1526.8 594.9h0M1533.7 604.0h0M1530.7 565.6h0M1521.5 498.2h0M1530.6 500.2h0M1532.1 567.5h0M1489.3 573.3h0M1493.6 598.3h0M1540.4 512.8h0M1512.9 557.4h0M1500.2 568.3h0M1496.2 611.1h0M1492.4 572.2h0M1492.0 499.2h0M1540.0 607.8h0M1480.6 550.1h0M1502.0 555.5h0M1526.6 556.8h0M1481.3 603.4h0M1482.5 572.2h0M1484.8 572.1h0M1486.3 564.2h0M1488.4 606.1h0M1504.2 592.7h0M1520.1 602.4h0M1510.5 599.7h0M1538.1 606.0h0M1521.9 496.7h0M1506.9 609.6h0M1490.4 592.2h0M1534.8 567.7h0M1514.1 573.3h0M1528.1 538.0h0M1515.3 593.4h0M1540.0 577.4h0M1497.3 583.0h0M1506.8 607.8h0M1517.1 596.9h0M1500.4 591.1h0M1537.9 605.5h0M1535.8 608.8h0M1495.7 607.5h0M1537.3 557.3h0M1529.3 602.1h0M1504.4 608.7h0M1509.5 596.5h0M1522.8 528.4h0M1495.5 582.5h0M1497.8 510.5h0M1491.9 593.3h0M1499.0 570.2h0M1533.9 546.1h0M1499.6 591.4h0M1529.3 612.0h0M1496.6 497.3h0M1509.9 505.2h0M1513.6 605.9h0M1505.5 608.2h0M1522.2 609.9h0M1535.2 557.3h0M1494.3 540.1h0M1494.9 561.3h0M1511.1 600.7h0M1514.6 609.5h0M1489.7 573.3h0M1510.1 550.1h0M1494.8 609.4h0M1488.3 562.8h0M1525.9 497.9h0M1525.4 557.5h0M1514.1 611.8h0M1496.2 567.1h0M1499.0 576.6h0M1491.7 596.7h0M1509.3 608.9h0M1510.0 608.3h0M1516.8 586.1h0M1519.2 582.7h0M1508.0 612.0h0M1540.4 589.9h0M1525.9 567.9h0M1518.4 600.7h0M1511.8 609.6h0M1527.6 604.0h0M1490.4 541.4h0M1539.1 555.8h0M1515.3 610.2h0M1491.1 506.8h0M1537.5 577.3h0M1487.9 563.6h0M1533.0 558.7h0M1497.0 611.9h0M1539.9 569.6h0M1525.4 597.3h0M1489.2 606.9h0M1490.5 513.2h0M1496.0 533.6h0M1484.4 579.0h0M1531.8 578.9h0M1508.0 510.8h0M1536.3 592.6h0M1492.4 594.7h0M1480.4 606.5h0M1496.6 600.0h0M1525.5 606.4h0M1511.1 556.5h0M1521.5 605.7h0M1504.9 580.6h0M1534.0 524.7h0M1496.0 485.8h0M1495.6 581.8h0M1505.9 599.5h0M1500.8 524.4h0M1504.0 530.2h0M1521.6 607.0h0M1506.9 608.3h0M1518.7 591.6h0M1495.7 602.1h0M1508.5 575.7h0M1485.1 606.1h0M1537.7 606.4h0M1493.8 609.4h0M1505.2 564.2h0M1507.3 547.1h0M1525.0 569.5h0M1510.8 606.3h0M1518.0 611.5h0M1498.3 602.6h0M1500.1 577.6h0M1500.1 587.3h0M1535.8 611.6h0M1533.1 606.1h0M1484.2 561.8h0M1486.9 575.8h0M1484.5 554.1h0M1495.4 502.6h0M1509.1 606.0h0M1494.9 597.1h0M1523.2 553.7h0M1504.5 605.7h0M1519.9 609.6h0M1481.8 500.1h0M1480.4 563.1h0M1519.0 590.8h0M1506.2 521.8h0M1493.5 599.6h0M1516.3 593.6h0M1489.9 561.6h0M1481.5 599.1h0M1524.4 554.4h0M1487.3 556.8h0M1517.6 601.9h0M1525.8 596.7h0M1534.4 603.9h0M1530.1 581.3h0M1519.2 612.6h0M1503.3 591.3h0M1520.7 591.3h0M1498.6 530.5h0M1499.6 604.4h0M1510.6 609.1h0M1490.9 554.2h0M1526.8 605.8h0M1518.8 584.4h0M1486.5 563.7h0M1504.0 557.4h0M1489.4 590.1h0M1502.6 578.0h0M1505.6 571.1h0M1511.0 506.4h0M1533.5 590.2h0M1500.8 547.7h0M1535.2 581.7h0M1525.7 591.9h0M1487.4 606.9h0M1510.3 540.9h0M1524.5 606.0h0M1506.0 501.2h0M1527.2 563.1h0M1483.4 573.4h0M1492.4 608.3h0M1523.3 575.4h0M1512.2 612.2h0M1511.7 558.2h0M1503.0 542.9h0M1526.1 546.5h0M1523.3 610.4h0M1490.2 602.4h0M1510.3 545.6h0M1539.1 595.0h0M1536.3 558.7h0M1532.1 487.9h0M1488.1 606.0h0M1484.2 609.2h0M1514.0 567.0h0M1537.0 564.3h0M1517.5 590.6h0M1481.8 545.4h0M1499.9 590.7h0M1481.4 528.8h0M1523.9 536.7h0M1501.4 502.6h0M1506.5 609.5h0M1488.6 595.3h0M1530.2 584.8h0M1505.7 556.5h0M1514.3 536.8h0M1501.7 600.7h0M1484.5 580.7h0M1494.2 577.3h0M1498.3 518.5h0M1515.4 604.0h0M1509.6 493.3h0M1505.4 607.8h0M1527.5 561.4h0M1526.6 549.5h0M1507.7 538.0h0M1518.8 607.0h0M1530.1 556.9h0M1502.5 609.1h0M1510.2 572.7h0M1525.7 517.0h0M1489.3 606.4h0M1492.3 607.7h0M1497.5 611.2h0M1488.0 539.6h0M1498.0 562.7h0M1481.2 611.8h0M1506.1 604.4h0M1533.1 589.2h0M1480.7 585.7h0M1515.4 581.6h0M1526.2 602.4h0M1515.4 602.6h0M1513.1 598.7h0M1481.1 557.8h0M1530.2 572.0h0M1514.4 591.9h0M1516.0 573.2h0M1505.4 592.9h0M1536.1 606.8h0M1488.3 589.5h0M1499.5 541.3h0M1508.1 606.0h0M1530.2 565.9h0M1496.4 538.8h0M1492.3 512.2h0M1495.2 610.2h0M1520.1 582.7h0M1526.0 611.6h0M1504.9 597.4h0M1512.6 606.0h0M1495.1 610.7h0M1533.4 598.1h0M1536.5 585.9h0M1516.7 590.7h0M1519.2 570.9h0M1490.1 594.1h0M1511.7 581.0h0M1537.8 606.9h0M1480.2 606.4h0M1519.9 606.9h0M1506.2 556.8h0M1495.5 610.3h0M1487.6 591.6h0M1517.5 415.1h0M1514.2 421.3h0M1495.3 423.4h0M1519.8 447.5h0M1495.9 459.6h0M1488.0 468.3h0M1496.0 469.1h0M1503.5 470.4h0M1506.0 471.2h0M1536.5 472.1h0M1535.5 473.3h0M1504.0 475.4h0M1492.0 479.5h0M1522.0 481.6h0M1497.0 483.7h0" stroke="#BC3C29" stroke-width="4.2" stroke-linecap="round" fill="none"/>
<path d="M1684.3 606.9h0M1675.3 609.7h0M1675.8 582.5h0M1668.1 610.6h0M1643.9 600.5h0M1678.5 610.8h0M1669.2 584.0h0M1679.3 568.8h0M1653.7 585.4h0M1687.1 612.6h0M1683.0 608.1h0M1675.7 602.1h0M1647.7 601.4h0M1641.8 609.8h0M1671.0 587.9h0M1654.4 584.1h0M1666.7 604.9h0M1653.8 604.5h0M1690.0 587.5h0M1658.3 592.6h0M1672.0 606.2h0M1645.1 608.1h0M1668.3 611.3h0M1633.3 579.4h0M1682.9 588.2h0M1647.3 574.1h0M1642.7 608.4h0M1681.0 610.6h0M1658.4 605.9h0M1676.3 577.7h0M1663.7 609.5h0M1644.9 605.2h0M1640.7 554.8h0M1647.4 587.3h0M1677.6 608.5h0M1681.5 605.3h0M1641.5 602.0h0M1633.6 611.1h0M1678.1 573.5h0M1649.3 609.6h0M1657.4 588.0h0M1673.0 601.6h0M1665.4 589.4h0M1648.5 609.8h0M1636.9 602.6h0M1654.3 606.2h0M1679.2 593.9h0M1665.9 593.1h0M1680.6 604.2h0M1680.6 609.8h0M1656.2 588.9h0M1676.4 588.8h0M1681.1 584.5h0M1670.5 605.4h0M1644.0 578.6h0M1681.6 609.7h0M1672.5 595.6h0M1675.5 609.1h0M1642.9 605.1h0M1655.1 596.0h0M1686.8 593.5h0M1688.9 595.8h0M1678.9 585.5h0M1645.7 611.2h0M1672.0 609.3h0M1682.6 602.0h0M1676.3 594.5h0M1649.5 610.5h0M1641.9 580.6h0M1675.7 604.6h0M1645.4 596.2h0M1656.4 594.8h0M1633.3 589.8h0M1650.8 581.1h0M1676.3 455.8h0M1658.7 478.3h0M1689.4 482.9h0M1638.4 496.2h0M1642.0 534.8h0M1682.9 539.8h0" stroke="#0072B5" stroke-width="4.2" stroke-linecap="round" fill="none"/>
<line x1="1420.90" y1="393.80" x2="1420.90" y2="623.00" stroke="#000" stroke-width="1.07"/>
<line x1="1420.90" y1="623.00" x2="1750.00" y2="623.00" stroke="#000" stroke-width="1.07"/>
<line x1="1418.20" y1="612.60" x2="1420.90" y2="612.60" stroke="#000" stroke-width="1"/>
<text x="1415.90" y="616.40" font-family="'Liberation Serif',serif" font-size="11" text-anchor="end" fill="#4D4D4D" color="#4D4D4D">0</text>
<line x1="1418.20" y1="571.02" x2="1420.90" y2="571.02" stroke="#000" stroke-width="1"/>
<text x="1415.90" y="574.82" font-family="'Liberation Serif',serif" font-size="11" text-anchor="end" fill="#4D4D4D" color="#4D4D4D">1</text>
<line x1="1418.20" y1="529.44" x2="1420.90" y2="529.44" stroke="#000" stroke-width="1"/>
<text x="1415.90" y="533.24" font-family="'Liberation Serif',serif" font-size="11" text-anchor="end" fill="#4D4D4D" color="#4D4D4D">2</text>
<line x1="1418.20" y1="487.86" x2="1420.90" y2="487.86" stroke="#000" stroke-width="1"/>
<text x="1415.90" y="491.66" font-family="'Liberation Serif',serif" font-size="11" text-anchor="end" fill="#4D4D4D" color="#4D4D4D">3</text>
<line x1="1418.20" y1="446.28" x2="1420.90" y2="446.28" stroke="#000" stroke-width="1"/>
<text x="1415.90" y="450.08" font-family="'Liberation Serif',serif" font-size="11" text-anchor="end" fill="#4D4D4D" color="#4D4D4D">4</text>
<line x1="1418.20" y1="404.70" x2="1420.90" y2="404.70" stroke="#000" stroke-width="1"/>
<text x="1415.90" y="408.50" font-family="'Liberation Serif',serif" font-size="11" text-anchor="end" fill="#4D4D4D" color="#4D4D4D">5</text>
<line x1="1510.30" y1="623.00" x2="1510.30" y2="625.70" stroke="#000" stroke-width="1"/>
<text x="1510.30" y="635.90" font-family="'Liberation Sans',sans-serif" font-size="11.2" text-anchor="middle" fill="#000">M0</text>
<text x="1510.30" y="650.60" font-family="'Liberation Serif',serif" font-size="12.5" text-anchor="middle" fill="#000">(n=440)</text>
<line x1="1661.00" y1="623.00" x2="1661.00" y2="625.70" stroke="#000" stroke-width="1"/>
<text x="1661.00" y="635.90" font-family="'Liberation Sans',sans-serif" font-size="11.2" text-anchor="middle" fill="#000">M1</text>
<text x="1661.00" y="650.60" font-family="'Liberation Serif',serif" font-size="12.5" text-anchor="middle" fill="#000">(n=80)</text>
<path d="M1510.30,410.20 L1510.30,404.70 L1661.00,404.70 L1661.00,410.20" fill="none" stroke="#333" stroke-width="0.8"/>
<text x="1585.65" y="402.30" font-family="'Liberation Serif',serif" font-size="12" text-anchor="middle" fill="#333" color="#333">***</text>
<text x="1421.00" y="385.10" font-family="'Liberation Serif',serif" font-size="15.5" textLength="136.5" lengthAdjust="spacingAndGlyphs" fill="#000">wilcox.tests p=0.00066</text>
<text x="1404.90" y="508.40" font-family="'Liberation Serif',serif" font-size="12.7" text-anchor="middle" fill="#000" transform="rotate(-90 1404.90 508.40)">FREM1 expression</text>
<line x1="679.50" y1="862.27" x2="679.50" y2="902.82" stroke="#BC3C29" stroke-width="1"/>
<line x1="679.50" y1="930.57" x2="679.50" y2="960.30" stroke="#BC3C29" stroke-width="1"/>
<line x1="667.28" y1="862.27" x2="691.72" y2="862.27" stroke="#BC3C29" stroke-width="1"/>
<line x1="667.28" y1="960.30" x2="691.72" y2="960.30" stroke="#BC3C29" stroke-width="1"/>
<rect x="663.84" y="902.82" width="31.33" height="27.75" fill="#fff" stroke="#BC3C29" stroke-width="1"/>
<line x1="663.84" y1="912.55" x2="695.16" y2="912.55" stroke="#BC3C29" stroke-width="1.6"/>
<line x1="742.30" y1="881.91" x2="742.30" y2="904.80" stroke="#0072B5" stroke-width="1"/>
<line x1="742.30" y1="937.41" x2="742.30" y2="960.30" stroke="#0072B5" stroke-width="1"/>
<line x1="730.08" y1="881.91" x2="754.52" y2="881.91" stroke="#0072B5" stroke-width="1"/>
<line x1="730.08" y1="960.30" x2="754.52" y2="960.30" stroke="#0072B5" stroke-width="1"/>
<rect x="726.64" y="904.80" width="31.33" height="32.62" fill="#fff" stroke="#0072B5" stroke-width="1"/>
<line x1="726.64" y1="917.41" x2="757.96" y2="917.41" stroke="#0072B5" stroke-width="1.6"/>
<line x1="804.80" y1="888.04" x2="804.80" y2="911.29" stroke="#E18727" stroke-width="1"/>
<line x1="804.80" y1="944.62" x2="804.80" y2="960.30" stroke="#E18727" stroke-width="1"/>
<line x1="792.58" y1="888.04" x2="817.02" y2="888.04" stroke="#E18727" stroke-width="1"/>
<line x1="792.58" y1="960.30" x2="817.02" y2="960.30" stroke="#E18727" stroke-width="1"/>
<rect x="789.14" y="911.29" width="31.33" height="33.34" fill="#fff" stroke="#E18727" stroke-width="1"/>
<line x1="789.14" y1="926.60" x2="820.46" y2="926.60" stroke="#E18727" stroke-width="1.6"/>
<line x1="867.30" y1="875.25" x2="867.30" y2="919.03" stroke="#20854E" stroke-width="1"/>
<line x1="867.30" y1="950.39" x2="867.30" y2="960.30" stroke="#20854E" stroke-width="1"/>
<line x1="855.08" y1="875.25" x2="879.52" y2="875.25" stroke="#20854E" stroke-width="1"/>
<line x1="855.08" y1="960.30" x2="879.52" y2="960.30" stroke="#20854E" stroke-width="1"/>
<rect x="851.64" y="919.03" width="31.33" height="31.35" fill="#fff" stroke="#20854E" stroke-width="1"/>
<line x1="851.64" y1="933.81" x2="882.96" y2="933.81" stroke="#20854E" stroke-width="1.6"/>
<line x1="930.10" y1="872.18" x2="930.10" y2="891.64" stroke="#7876B1" stroke-width="1"/>
<line x1="930.10" y1="925.70" x2="930.10" y2="952.73" stroke="#7876B1" stroke-width="1"/>
<line x1="917.88" y1="872.18" x2="942.32" y2="872.18" stroke="#7876B1" stroke-width="1"/>
<line x1="917.88" y1="952.73" x2="942.32" y2="952.73" stroke="#7876B1" stroke-width="1"/>
<rect x="914.44" y="891.64" width="31.33" height="34.06" fill="#fff" stroke="#7876B1" stroke-width="1"/>
<line x1="914.44" y1="906.96" x2="945.76" y2="906.96" stroke="#7876B1" stroke-width="1.6"/>
<path d="M685.2 902.6h0M674.4 902.8h0M678.4 911.0h0M689.3 872.6h0M681.9 905.8h0M687.8 897.1h0M672.3 909.0h0M688.1 918.0h0M675.2 914.9h0M669.8 902.3h0M688.6 949.0h0M684.3 902.6h0M669.7 887.3h0M674.8 931.0h0M686.7 910.4h0M676.2 920.5h0M682.5 933.3h0M679.6 951.9h0M681.8 907.7h0M674.6 907.9h0M677.1 897.3h0M673.5 943.2h0M688.3 902.1h0M671.6 902.5h0M690.4 907.6h0M674.9 906.0h0M674.1 918.6h0M684.4 959.4h0M682.3 891.0h0M672.9 919.6h0M691.7 929.7h0M687.4 931.4h0M689.9 901.8h0M688.2 912.5h0M684.4 935.9h0M690.9 894.0h0M691.9 870.0h0M690.0 906.7h0M690.3 922.4h0M684.2 870.2h0M680.0 952.9h0M687.2 905.5h0M680.0 931.2h0M685.1 902.8h0M669.6 930.6h0M676.1 881.0h0M671.4 930.7h0M684.4 905.6h0M687.7 938.3h0M671.3 911.9h0M688.2 899.5h0M685.2 930.4h0M682.0 929.5h0M687.7 904.9h0M669.8 918.0h0M689.6 953.9h0M671.4 932.2h0M683.0 957.7h0M680.0 953.6h0M669.9 948.8h0M690.6 909.5h0M673.5 955.7h0M672.6 885.8h0M677.9 907.3h0M667.2 903.4h0M677.1 956.7h0M688.9 899.4h0M668.9 904.3h0M675.6 902.8h0M671.7 885.4h0M679.5 893.7h0M678.4 890.9h0M690.6 873.3h0M676.2 941.0h0M682.2 939.4h0M688.6 903.8h0M682.1 919.1h0M677.0 911.9h0M686.8 907.6h0M681.4 945.1h0M680.3 908.0h0M685.0 920.6h0M689.8 910.2h0M673.5 880.9h0M676.2 888.5h0M689.5 896.2h0M684.0 911.0h0M681.4 920.9h0M684.3 937.3h0M671.1 902.9h0M684.8 918.5h0M687.1 904.6h0M678.5 909.2h0M675.7 950.0h0M691.9 929.7h0M683.7 916.3h0M683.4 925.3h0M675.4 914.0h0M688.6 904.8h0M689.3 916.7h0M668.9 934.8h0M670.8 899.7h0M685.8 898.3h0M678.7 896.5h0M668.9 926.2h0M678.0 958.1h0M667.2 907.9h0M687.1 902.7h0M681.8 907.9h0M689.4 926.8h0M685.3 931.4h0M682.3 913.8h0M677.6 923.1h0M667.6 908.8h0M686.7 935.8h0M669.3 938.5h0M683.4 951.2h0M680.6 918.3h0M675.9 938.0h0M674.1 914.3h0M686.5 905.5h0M669.4 899.6h0M668.4 922.6h0M669.4 892.4h0M684.6 929.1h0M678.0 898.6h0M676.2 905.1h0M676.3 918.6h0M689.6 913.1h0M669.0 894.2h0M688.7 892.3h0M681.4 910.9h0M685.1 955.3h0M667.9 892.1h0M684.9 907.6h0M681.1 906.0h0M679.4 902.3h0M672.2 918.0h0M683.7 937.5h0M682.2 930.0h0M675.9 903.5h0M682.9 948.5h0M673.0 903.4h0M689.3 931.5h0M685.0 917.7h0M682.4 902.4h0M671.1 917.2h0M674.5 905.6h0M686.6 893.0h0M686.5 925.7h0M672.0 953.1h0M674.4 950.1h0M680.2 905.0h0M670.2 906.4h0M685.8 905.7h0M678.3 867.5h0M689.7 899.4h0M689.2 886.3h0M679.0 946.1h0M681.3 892.0h0M676.0 888.6h0M685.5 914.3h0M674.1 926.8h0M669.8 908.5h0M689.5 917.0h0M675.5 919.1h0M680.3 904.8h0M668.1 920.5h0M689.6 925.2h0M674.3 889.0h0M680.4 922.5h0M684.8 914.4h0M691.3 930.8h0M672.9 954.6h0M673.9 901.7h0M684.5 905.6h0M675.5 862.3h0M670.2 909.0h0M681.6 931.0h0M685.0 910.6h0M683.1 889.6h0M669.8 914.5h0M686.2 915.8h0M676.6 921.8h0M670.4 903.4h0M681.9 904.6h0M672.3 929.4h0M673.7 911.2h0M674.6 931.5h0M684.6 929.6h0M672.9 903.8h0M692.0 920.2h0M685.3 902.1h0M681.8 921.2h0M668.8 868.5h0M667.9 914.4h0M679.0 890.8h0M686.1 898.0h0M669.2 866.6h0M681.3 881.9h0M668.6 908.7h0M678.5 911.7h0M679.4 903.9h0M678.7 960.3h0M668.4 905.8h0M680.9 895.8h0M677.2 899.6h0M689.1 920.8h0M673.5 907.3h0M687.1 925.7h0M671.2 926.1h0M669.2 905.9h0M680.8 919.0h0M676.5 878.9h0M687.7 948.2h0M669.3 949.5h0M671.4 927.7h0M691.7 906.1h0M669.7 901.7h0M679.2 870.4h0M680.3 891.0h0M689.9 882.6h0M691.4 920.3h0M667.2 907.6h0M682.6 948.3h0M689.3 912.5h0M691.7 952.8h0M668.7 940.9h0M670.9 906.0h0M669.2 874.6h0M681.8 899.2h0M690.9 920.1h0M679.5 869.8h0M690.1 895.4h0M687.2 913.3h0M679.2 903.8h0M677.6 931.0h0M681.4 948.4h0M684.3 947.5h0M684.4 932.1h0M681.3 906.0h0M675.5 922.6h0M681.4 906.3h0M681.0 907.9h0M688.1 891.4h0M688.6 876.7h0M682.4 905.5h0M670.2 908.5h0M670.7 919.9h0M688.5 907.6h0M680.5 869.5h0M684.2 906.1h0M677.2 906.3h0M673.9 923.6h0M680.4 914.4h0M680.1 945.8h0M669.8 917.7h0M683.7 908.6h0M679.6 958.0h0M688.5 914.8h0M689.3 874.3h0M676.8 910.5h0M685.4 930.6h0M685.4 907.8h0M681.3 928.1h0" stroke="#BC3C29" stroke-width="4.0" stroke-linecap="round" fill="none"/>
<path d="M749.8 901.7h0M735.4 928.3h0M752.4 921.6h0M743.3 913.5h0M732.9 950.9h0M749.5 943.7h0M743.6 922.4h0M745.6 905.7h0M742.3 929.7h0M742.1 915.7h0M751.1 956.4h0M731.6 936.5h0M745.1 929.8h0M734.2 920.3h0M731.6 911.8h0M752.7 950.1h0M750.6 937.0h0M747.0 950.1h0M745.8 881.9h0M741.5 888.8h0M740.5 903.6h0M735.3 912.8h0M751.5 903.4h0M732.2 941.9h0M746.8 914.3h0M731.8 908.2h0M737.0 915.1h0M750.6 942.3h0M752.7 910.5h0M745.3 919.9h0M753.7 915.8h0M754.4 923.3h0M738.3 931.4h0M744.2 898.9h0M747.5 922.4h0M734.8 889.2h0M754.4 907.6h0M739.6 927.6h0M742.6 904.7h0M741.0 898.6h0M739.9 903.9h0M740.1 889.9h0M731.6 913.7h0M740.7 939.0h0M740.1 884.5h0M739.4 939.1h0M730.0 909.9h0M753.6 954.4h0M731.5 957.9h0M752.0 941.9h0M749.9 917.1h0M735.5 918.9h0M745.9 901.7h0M743.2 939.4h0M753.7 960.3h0M752.0 904.7h0M736.1 941.2h0" stroke="#0072B5" stroke-width="4.0" stroke-linecap="round" fill="none"/>
<path d="M799.5 946.6h0M793.9 936.9h0M800.8 919.9h0M813.9 889.0h0M809.5 955.2h0M805.1 909.4h0M811.8 911.2h0M799.5 934.8h0M804.1 908.9h0M810.0 958.4h0M806.7 948.4h0M792.5 948.9h0M795.0 910.3h0M808.3 911.3h0M810.0 891.6h0M796.4 910.9h0M804.2 941.4h0M809.7 949.7h0M812.5 912.1h0M800.4 952.2h0M796.1 945.7h0M799.3 904.5h0M793.1 928.9h0M811.9 936.8h0M809.1 955.0h0M813.4 931.2h0M814.9 920.5h0M804.4 957.4h0M805.5 936.4h0M807.1 907.6h0M796.1 916.7h0M814.2 944.7h0M816.0 933.1h0M798.8 953.6h0M807.7 917.5h0M803.0 956.8h0M800.7 919.4h0M793.4 939.4h0M794.3 917.6h0M800.8 944.7h0M813.9 950.4h0M811.0 928.9h0M802.0 922.2h0M799.5 929.6h0M802.0 938.7h0M793.6 948.7h0M813.4 926.7h0M800.9 943.5h0M815.9 942.9h0M793.0 911.3h0M808.6 902.3h0M816.8 917.9h0M811.2 923.5h0M804.5 926.0h0M809.8 948.5h0M793.6 899.4h0M809.5 918.4h0M815.8 934.7h0M808.8 919.7h0M811.2 901.0h0M816.5 905.3h0M802.9 919.0h0M817.2 906.5h0M797.0 949.2h0M809.8 946.1h0M812.0 909.1h0M811.4 960.3h0M799.2 945.1h0M812.0 915.6h0M801.7 913.9h0M799.9 913.7h0M817.0 940.4h0M812.6 959.0h0M808.5 930.7h0M802.3 948.6h0M806.5 946.2h0M815.7 931.1h0M813.6 946.6h0M808.1 942.7h0M796.0 889.8h0M799.3 946.6h0M812.4 907.4h0M814.8 945.3h0M808.0 917.6h0M814.9 915.9h0M808.5 948.0h0M811.9 943.7h0M808.7 957.3h0M806.2 934.5h0M801.0 953.7h0M804.8 916.9h0M809.4 911.2h0M806.3 942.3h0M797.2 889.3h0M814.2 939.0h0M801.8 948.1h0M800.5 905.3h0M806.9 919.1h0M815.0 888.0h0M811.7 934.0h0M800.4 947.2h0M811.7 908.3h0M803.5 910.3h0M803.7 948.6h0M817.0 947.3h0M808.0 913.8h0M803.9 910.8h0M812.2 895.4h0M793.4 910.7h0M793.6 959.0h0M810.2 914.1h0M810.7 943.1h0M798.1 941.1h0M804.7 920.5h0M813.4 903.3h0M796.8 917.7h0M816.8 956.4h0M806.6 910.2h0M804.1 932.1h0M796.4 928.6h0M814.3 951.3h0M808.5 945.1h0M794.0 926.1h0" stroke="#E18727" stroke-width="4.0" stroke-linecap="round" fill="none"/>
<path d="M860.6 931.2h0M865.1 939.1h0M868.7 934.6h0M858.4 927.5h0M855.6 953.3h0M870.4 947.3h0M871.2 911.4h0M863.3 919.0h0M857.8 923.2h0M877.1 942.8h0M876.9 912.2h0M856.5 957.1h0M876.2 949.0h0M862.3 951.4h0M856.4 915.6h0M866.7 909.6h0M871.0 919.0h0M866.7 915.5h0M863.7 933.0h0M876.5 931.3h0M862.5 917.0h0M858.3 960.3h0M867.2 937.4h0M865.2 922.8h0M875.8 915.1h0M870.0 903.6h0M860.2 917.8h0M879.5 917.7h0M860.6 950.9h0M859.3 912.4h0M873.8 915.4h0M865.3 904.2h0M868.1 921.3h0M868.0 923.1h0M878.4 922.5h0M879.2 946.0h0M872.7 903.2h0M874.2 951.3h0M878.5 931.4h0M866.7 953.3h0M868.7 903.9h0M879.5 916.9h0M865.1 946.0h0M864.5 929.7h0M867.8 919.0h0M862.9 920.9h0M864.0 954.3h0M863.3 907.8h0M861.4 918.5h0M860.6 940.7h0M868.5 930.2h0M855.5 943.1h0M864.9 939.5h0M872.4 897.9h0M877.7 950.7h0M876.6 919.0h0M879.2 918.8h0M860.5 950.4h0M865.9 937.9h0M860.4 917.4h0M867.9 951.1h0M862.9 922.4h0M871.9 918.4h0M872.6 875.2h0M876.2 919.0h0M856.2 889.5h0M856.8 924.4h0M872.1 930.3h0M857.4 957.2h0M859.9 949.1h0M869.2 959.8h0M870.0 909.8h0M859.7 925.6h0M856.4 919.6h0M871.6 906.9h0M877.8 933.7h0M871.5 919.0h0M871.8 920.8h0M869.5 918.3h0M859.1 944.2h0M858.5 919.0h0M861.5 936.1h0" stroke="#20854E" stroke-width="4.0" stroke-linecap="round" fill="none"/>
<path d="M918.4 926.1h0M932.0 930.7h0M935.5 873.2h0M931.6 894.8h0M929.1 891.4h0M940.1 921.1h0M922.2 915.8h0M924.3 915.8h0M937.0 905.6h0M936.6 893.8h0M931.0 923.7h0M937.2 900.0h0M921.6 897.4h0M921.8 894.8h0M921.2 881.4h0M932.0 913.3h0M935.2 901.0h0M935.2 902.7h0M941.5 892.7h0M929.0 899.7h0M924.4 886.3h0M924.2 906.5h0M920.1 901.8h0M920.0 931.1h0M932.0 886.6h0M930.8 899.8h0M925.2 882.5h0M937.8 896.9h0M938.5 900.3h0M923.0 903.0h0M919.3 898.1h0M924.6 939.9h0M934.5 910.9h0M939.6 940.4h0M937.9 918.9h0M925.5 926.0h0M936.1 903.1h0M927.5 895.9h0M922.9 904.2h0M917.6 940.2h0M923.7 886.2h0M919.8 891.5h0M921.7 894.8h0M925.1 928.2h0M936.7 895.1h0M935.6 899.4h0M940.9 916.1h0M937.9 920.7h0M920.7 923.2h0M932.1 925.9h0M922.4 945.6h0M925.8 926.1h0M926.3 943.7h0M929.7 934.7h0M924.4 923.7h0M934.5 892.7h0M928.0 912.6h0M939.3 909.4h0M917.8 912.8h0M925.6 904.2h0M927.7 884.8h0M935.3 925.3h0M929.0 906.8h0M925.9 909.1h0M935.0 909.9h0M934.8 891.1h0M938.0 928.7h0M938.4 922.3h0M937.0 879.1h0M935.6 904.3h0M927.6 910.3h0M925.2 928.6h0M938.5 902.3h0M933.2 928.6h0M934.2 885.1h0M926.8 901.1h0M938.6 886.3h0M942.1 912.2h0M918.1 918.4h0M937.0 912.1h0M922.2 928.2h0M941.0 909.4h0M935.7 894.5h0M940.5 922.6h0M939.8 888.8h0M928.4 932.6h0M919.3 897.2h0M934.6 897.8h0M937.3 936.8h0M930.8 951.7h0M941.6 902.6h0M927.5 896.3h0M924.3 901.0h0M927.7 902.4h0M936.8 903.4h0M933.4 891.6h0M919.6 900.6h0M918.9 931.5h0M941.4 931.8h0M927.0 902.5h0M930.2 883.3h0M938.4 888.8h0M942.4 902.2h0M931.9 920.6h0M925.7 878.6h0M934.1 952.7h0M938.5 926.0h0M917.9 890.4h0M934.7 919.0h0M929.7 930.8h0M919.8 910.8h0M938.1 915.3h0M936.4 914.5h0M939.6 903.0h0M931.3 877.5h0M927.1 915.0h0M929.9 889.3h0M924.1 946.7h0M923.3 926.3h0M921.1 876.8h0M919.5 882.9h0M935.0 907.6h0M924.2 891.6h0M940.0 893.2h0M929.6 938.4h0M938.5 883.3h0M931.9 891.6h0M929.0 920.9h0M937.5 887.2h0M936.2 891.6h0M935.9 904.4h0M936.1 947.5h0M927.7 921.3h0M935.7 897.4h0M942.5 895.1h0M939.9 894.9h0M926.7 899.3h0M939.1 889.7h0M929.4 887.6h0M927.3 894.7h0M926.8 902.7h0M930.8 890.4h0M939.3 872.2h0M925.3 892.5h0M928.6 916.6h0M936.3 904.2h0M924.0 933.0h0M939.4 916.6h0M922.8 905.6h0M930.6 910.1h0M929.4 899.3h0M924.6 948.6h0M919.8 894.2h0M940.5 917.2h0M941.0 901.8h0M936.9 907.6h0M934.0 932.2h0M923.4 889.7h0M923.7 916.4h0M931.4 932.8h0M937.7 891.6h0" stroke="#7876B1" stroke-width="4.0" stroke-linecap="round" fill="none"/>
<line x1="642.30" y1="741.10" x2="642.30" y2="970.30" stroke="#000" stroke-width="1.07"/>
<line x1="642.30" y1="970.30" x2="966.90" y2="970.30" stroke="#000" stroke-width="1.07"/>
<line x1="639.60" y1="960.30" x2="642.30" y2="960.30" stroke="#000" stroke-width="1"/>
<text x="637.30" y="964.10" font-family="'Liberation Serif',serif" font-size="11" text-anchor="end" fill="#4D4D4D" color="#4D4D4D">0</text>
<line x1="639.60" y1="906.24" x2="642.30" y2="906.24" stroke="#000" stroke-width="1"/>
<text x="637.30" y="910.04" font-family="'Liberation Serif',serif" font-size="11" text-anchor="end" fill="#4D4D4D" color="#4D4D4D">3</text>
<line x1="639.60" y1="852.18" x2="642.30" y2="852.18" stroke="#000" stroke-width="1"/>
<text x="637.30" y="855.98" font-family="'Liberation Serif',serif" font-size="11" text-anchor="end" fill="#4D4D4D" color="#4D4D4D">6</text>
<line x1="639.60" y1="798.12" x2="642.30" y2="798.12" stroke="#000" stroke-width="1"/>
<text x="637.30" y="801.92" font-family="'Liberation Serif',serif" font-size="11" text-anchor="end" fill="#4D4D4D" color="#4D4D4D">9</text>
<line x1="639.60" y1="744.06" x2="642.30" y2="744.06" stroke="#000" stroke-width="1"/>
<text x="637.30" y="747.86" font-family="'Liberation Serif',serif" font-size="11" text-anchor="end" fill="#4D4D4D" color="#4D4D4D">12</text>
<line x1="679.50" y1="970.30" x2="679.50" y2="973.00" stroke="#000" stroke-width="1"/>
<text x="679.50" y="983.80" font-family="'Liberation Serif',serif" font-size="12.5" text-anchor="middle" fill="#000">S1</text>
<text x="679.50" y="997.90" font-family="'Liberation Serif',serif" font-size="12.5" text-anchor="middle" fill="#000">(n=265)</text>
<line x1="742.30" y1="970.30" x2="742.30" y2="973.00" stroke="#000" stroke-width="1"/>
<text x="742.30" y="983.80" font-family="'Liberation Serif',serif" font-size="12.5" text-anchor="middle" fill="#000">S2</text>
<text x="742.30" y="997.90" font-family="'Liberation Serif',serif" font-size="12.5" text-anchor="middle" fill="#000">(n=57)</text>
<line x1="804.80" y1="970.30" x2="804.80" y2="973.00" stroke="#000" stroke-width="1"/>
<text x="804.80" y="983.80" font-family="'Liberation Serif',serif" font-size="12.5" text-anchor="middle" fill="#000">S3</text>
<text x="804.80" y="997.90" font-family="'Liberation Serif',serif" font-size="12.5" text-anchor="middle" fill="#000">(n=123)</text>
<line x1="867.30" y1="970.30" x2="867.30" y2="973.00" stroke="#000" stroke-width="1"/>
<text x="867.30" y="983.80" font-family="'Liberation Serif',serif" font-size="12.5" text-anchor="middle" fill="#000">S4</text>
<text x="867.30" y="997.90" font-family="'Liberation Serif',serif" font-size="12.5" text-anchor="middle" fill="#000">(n=82)</text>
<line x1="930.10" y1="970.30" x2="930.10" y2="973.00" stroke="#000" stroke-width="1"/>
<text x="930.10" y="983.80" font-family="'Liberation Serif',serif" font-size="12.5" text-anchor="middle" fill="#000">Normal</text>
<text x="930.10" y="997.90" font-family="'Liberation Serif',serif" font-size="12.5" text-anchor="middle" fill="#000">(n=161)</text>
<path d="M679.50,859.40 L679.50,857.10 L742.30,857.10 L742.30,859.40" fill="none" stroke="#333" stroke-width="0.8"/>
<text x="710.90" y="853.90" font-family="'Liberation Serif',serif" font-size="11.5" text-anchor="middle" fill="#333" color="#333">ns</text>
<path d="M679.50,847.67 L679.50,845.37 L804.80,845.37 L804.80,847.67" fill="none" stroke="#333" stroke-width="0.8"/>
<text x="742.15" y="842.97" font-family="'Liberation Serif',serif" font-size="12" text-anchor="middle" fill="#333" color="#333">****</text>
<path d="M679.50,835.94 L679.50,833.64 L867.30,833.64 L867.30,835.94" fill="none" stroke="#333" stroke-width="0.8"/>
<text x="773.40" y="831.24" font-family="'Liberation Serif',serif" font-size="12" text-anchor="middle" fill="#333" color="#333">****</text>
<path d="M679.50,824.21 L679.50,821.91 L930.10,821.91 L930.10,824.21" fill="none" stroke="#333" stroke-width="0.8"/>
<text x="804.80" y="819.51" font-family="'Liberation Serif',serif" font-size="12" text-anchor="middle" fill="#333" color="#333">***</text>
<path d="M742.30,812.48 L742.30,810.18 L804.80,810.18 L804.80,812.48" fill="none" stroke="#333" stroke-width="0.8"/>
<text x="773.55" y="806.98" font-family="'Liberation Serif',serif" font-size="11.5" text-anchor="middle" fill="#333" color="#333">ns</text>
<path d="M742.30,800.75 L742.30,798.45 L867.30,798.45 L867.30,800.75" fill="none" stroke="#333" stroke-width="0.8"/>
<text x="804.80" y="796.05" font-family="'Liberation Serif',serif" font-size="12" text-anchor="middle" fill="#333" color="#333">**</text>
<path d="M742.30,789.02 L742.30,786.72 L930.10,786.72 L930.10,789.02" fill="none" stroke="#333" stroke-width="0.8"/>
<text x="836.20" y="784.32" font-family="'Liberation Serif',serif" font-size="12" text-anchor="middle" fill="#333" color="#333">***</text>
<path d="M804.80,777.29 L804.80,774.99 L867.30,774.99 L867.30,777.29" fill="none" stroke="#333" stroke-width="0.8"/>
<text x="836.05" y="771.79" font-family="'Liberation Serif',serif" font-size="11.5" text-anchor="middle" fill="#333" color="#333">ns</text>
<path d="M804.80,765.56 L804.80,763.26 L930.10,763.26 L930.10,765.56" fill="none" stroke="#333" stroke-width="0.8"/>
<text x="867.45" y="760.86" font-family="'Liberation Serif',serif" font-size="12" text-anchor="middle" fill="#333" color="#333">****</text>
<path d="M867.30,753.83 L867.30,751.53 L930.10,751.53 L930.10,753.83" fill="none" stroke="#333" stroke-width="0.8"/>
<text x="898.70" y="749.13" font-family="'Liberation Serif',serif" font-size="12" text-anchor="middle" fill="#333" color="#333">****</text>
<text x="642.60" y="731.90" font-family="'Liberation Serif',serif" font-size="15.5" textLength="171.8" lengthAdjust="spacingAndGlyphs" fill="#000">Kruskal−Wallis test p=2e−17</text>
<text x="622.30" y="855.70" font-family="'Liberation Serif',serif" font-size="12.7" text-anchor="middle" fill="#000" transform="rotate(-90 622.30 855.70)">FREM2 expression</text>
<line x1="1076.20" y1="881.91" x2="1076.20" y2="896.33" stroke="#BC3C29" stroke-width="1"/>
<line x1="1076.20" y1="912.91" x2="1076.20" y2="924.26" stroke="#BC3C29" stroke-width="1"/>
<line x1="1064.01" y1="881.91" x2="1088.39" y2="881.91" stroke="#BC3C29" stroke-width="1"/>
<line x1="1064.01" y1="924.26" x2="1088.39" y2="924.26" stroke="#BC3C29" stroke-width="1"/>
<rect x="1060.58" y="896.33" width="31.25" height="16.58" fill="#fff" stroke="#BC3C29" stroke-width="1"/>
<line x1="1060.58" y1="905.34" x2="1091.83" y2="905.34" stroke="#BC3C29" stroke-width="1.6"/>
<line x1="1138.70" y1="874.34" x2="1138.70" y2="902.82" stroke="#0072B5" stroke-width="1"/>
<line x1="1138.70" y1="929.85" x2="1138.70" y2="960.30" stroke="#0072B5" stroke-width="1"/>
<line x1="1126.51" y1="874.34" x2="1150.89" y2="874.34" stroke="#0072B5" stroke-width="1"/>
<line x1="1126.51" y1="960.30" x2="1150.89" y2="960.30" stroke="#0072B5" stroke-width="1"/>
<rect x="1123.08" y="902.82" width="31.25" height="27.03" fill="#fff" stroke="#0072B5" stroke-width="1"/>
<line x1="1123.08" y1="914.53" x2="1154.33" y2="914.53" stroke="#0072B5" stroke-width="1.6"/>
<line x1="1201.60" y1="878.67" x2="1201.60" y2="906.06" stroke="#E18727" stroke-width="1"/>
<line x1="1201.60" y1="940.30" x2="1201.60" y2="960.30" stroke="#E18727" stroke-width="1"/>
<line x1="1189.41" y1="878.67" x2="1213.79" y2="878.67" stroke="#E18727" stroke-width="1"/>
<line x1="1189.41" y1="960.30" x2="1213.79" y2="960.30" stroke="#E18727" stroke-width="1"/>
<rect x="1185.97" y="906.06" width="31.25" height="34.24" fill="#fff" stroke="#E18727" stroke-width="1"/>
<line x1="1185.97" y1="921.02" x2="1217.22" y2="921.02" stroke="#E18727" stroke-width="1.6"/>
<line x1="1264.00" y1="891.64" x2="1264.00" y2="923.36" stroke="#20854E" stroke-width="1"/>
<line x1="1264.00" y1="955.43" x2="1264.00" y2="960.30" stroke="#20854E" stroke-width="1"/>
<line x1="1251.81" y1="891.64" x2="1276.19" y2="891.64" stroke="#20854E" stroke-width="1"/>
<line x1="1251.81" y1="960.30" x2="1276.19" y2="960.30" stroke="#20854E" stroke-width="1"/>
<rect x="1248.38" y="923.36" width="31.25" height="32.08" fill="#fff" stroke="#20854E" stroke-width="1"/>
<line x1="1248.38" y1="937.96" x2="1279.62" y2="937.96" stroke="#20854E" stroke-width="1.6"/>
<line x1="1326.20" y1="872.72" x2="1326.20" y2="891.64" stroke="#7876B1" stroke-width="1"/>
<line x1="1326.20" y1="924.98" x2="1326.20" y2="952.73" stroke="#7876B1" stroke-width="1"/>
<line x1="1314.01" y1="872.72" x2="1338.39" y2="872.72" stroke="#7876B1" stroke-width="1"/>
<line x1="1314.01" y1="952.73" x2="1338.39" y2="952.73" stroke="#7876B1" stroke-width="1"/>
<rect x="1310.58" y="891.64" width="31.25" height="33.34" fill="#fff" stroke="#7876B1" stroke-width="1"/>
<line x1="1310.58" y1="907.68" x2="1341.83" y2="907.68" stroke="#7876B1" stroke-width="1.6"/>
<path d="M1063.9 902.7h0M1075.2 910.7h0M1084.0 895.5h0M1087.7 898.6h0M1067.7 903.8h0M1065.4 891.4h0M1067.4 924.3h0M1071.9 899.2h0M1072.8 909.1h0M1078.5 881.9h0M1064.9 906.6h0M1086.8 901.7h0M1080.3 910.9h0M1079.2 862.1h0" stroke="#BC3C29" stroke-width="4.0" stroke-linecap="round" fill="none"/>
<path d="M1127.7 931.0h0M1150.4 916.2h0M1128.8 951.8h0M1131.1 902.4h0M1131.2 937.1h0M1140.1 907.5h0M1131.7 920.0h0M1145.7 916.6h0M1128.5 914.0h0M1133.5 924.0h0M1144.6 930.3h0M1138.8 930.6h0M1140.8 937.0h0M1147.5 933.2h0M1139.8 914.5h0M1146.7 919.5h0M1136.3 945.9h0M1151.1 926.7h0M1146.7 910.0h0M1132.0 925.6h0M1146.0 921.8h0M1148.7 951.4h0M1137.0 926.3h0M1133.5 926.9h0M1134.5 876.8h0M1140.5 911.5h0M1138.4 927.8h0M1131.5 907.0h0M1148.8 952.8h0M1127.2 920.6h0M1132.1 955.6h0M1127.9 904.4h0M1135.2 921.0h0M1126.4 929.7h0M1150.5 902.3h0M1147.3 878.8h0M1143.0 929.5h0M1144.1 930.8h0M1139.6 915.5h0M1130.9 952.5h0M1134.5 908.8h0M1139.4 928.2h0M1146.0 908.3h0M1148.5 933.6h0M1142.9 902.4h0M1141.9 893.6h0M1132.8 938.5h0M1147.6 911.4h0M1143.4 915.9h0M1133.3 900.9h0M1126.7 941.5h0M1149.4 929.3h0M1128.1 898.6h0M1136.4 960.3h0M1138.4 902.8h0M1137.5 935.0h0M1130.9 928.2h0M1136.0 897.9h0M1150.2 877.8h0M1134.7 918.8h0M1150.7 932.8h0M1140.0 909.7h0M1141.2 933.1h0M1149.3 894.4h0M1132.3 956.5h0M1133.2 920.1h0M1137.8 935.1h0M1139.4 879.2h0M1144.9 906.5h0M1131.6 955.5h0M1135.2 902.8h0M1137.0 913.6h0M1141.6 911.3h0M1129.5 899.7h0M1138.7 931.8h0M1139.7 902.1h0M1139.1 917.9h0M1145.3 904.2h0M1142.9 930.1h0M1147.1 920.4h0M1142.3 899.7h0M1137.8 907.5h0M1144.8 928.5h0M1142.1 931.9h0M1133.8 954.9h0M1147.7 912.6h0M1146.1 957.7h0M1147.0 938.6h0M1144.0 924.5h0M1144.2 926.0h0M1140.5 930.7h0M1126.9 901.3h0M1146.6 911.2h0M1128.5 902.8h0M1134.0 886.9h0M1131.7 948.1h0M1139.9 910.0h0M1145.2 904.2h0M1139.7 926.3h0M1143.3 951.1h0M1139.7 956.3h0M1127.9 914.9h0M1130.8 930.2h0M1145.6 902.9h0M1139.3 911.4h0M1133.4 901.6h0M1137.9 917.4h0M1140.8 922.8h0M1142.3 901.8h0M1149.2 927.7h0M1137.8 899.0h0M1148.4 882.8h0M1148.6 925.8h0M1143.7 929.4h0M1148.3 910.8h0M1148.7 945.9h0M1143.0 903.9h0M1149.7 913.6h0M1139.2 916.7h0M1148.0 904.4h0M1139.4 904.9h0M1131.0 915.3h0M1135.9 944.4h0M1144.0 918.1h0M1136.1 926.5h0M1131.2 890.1h0M1147.9 910.8h0M1132.0 915.7h0M1145.8 937.3h0M1145.8 888.3h0M1148.8 948.4h0M1132.5 891.8h0M1145.7 946.4h0M1129.3 937.8h0M1135.2 880.4h0M1127.2 935.0h0M1149.2 922.3h0M1146.5 874.3h0M1138.8 908.5h0M1148.5 914.8h0M1134.0 898.1h0M1151.1 914.8h0M1146.9 907.6h0M1148.3 952.9h0M1141.7 929.6h0M1133.5 914.2h0M1148.2 914.7h0M1145.0 896.4h0M1126.4 897.1h0M1149.0 944.1h0M1135.0 922.4h0M1144.9 898.5h0M1141.4 939.1h0M1136.0 901.6h0M1139.7 946.4h0M1141.1 891.1h0M1128.3 957.2h0M1146.6 933.2h0M1130.8 911.5h0M1132.0 907.7h0M1134.7 940.7h0M1149.6 907.8h0M1138.2 899.0h0M1147.6 925.9h0M1132.2 935.1h0M1136.1 921.9h0M1144.2 923.7h0M1150.6 901.8h0M1136.0 956.4h0M1134.8 924.4h0M1136.9 904.9h0M1129.3 902.0h0M1149.4 924.3h0M1132.7 953.1h0M1134.6 948.8h0M1133.3 940.4h0M1132.5 930.5h0M1127.9 942.5h0M1134.4 929.5h0M1143.4 902.7h0M1139.8 891.5h0M1128.5 919.4h0M1135.5 911.5h0M1137.2 884.8h0M1145.0 890.2h0M1149.3 905.8h0M1130.2 939.1h0M1130.1 936.8h0M1128.3 944.3h0M1136.3 898.7h0M1130.0 911.6h0M1134.2 929.8h0M1126.5 906.6h0M1134.5 927.6h0M1132.3 877.6h0M1149.5 927.2h0M1133.3 906.8h0M1144.9 913.6h0M1137.1 903.0h0M1142.1 937.8h0M1134.0 924.6h0M1141.9 940.7h0M1143.8 902.8h0M1137.4 905.1h0M1136.5 902.6h0M1132.3 929.1h0M1150.3 903.3h0M1135.7 912.5h0M1148.7 928.4h0M1150.6 891.8h0M1126.9 927.6h0M1146.1 902.4h0M1130.9 948.4h0M1135.4 934.9h0M1143.7 912.9h0M1132.8 932.9h0M1140.8 929.9h0M1134.0 953.8h0M1131.5 921.6h0M1138.3 902.0h0M1137.2 926.2h0M1144.3 937.6h0M1134.3 935.2h0M1134.8 955.8h0M1139.1 902.7h0M1128.3 905.8h0M1145.0 904.7h0" stroke="#0072B5" stroke-width="4.0" stroke-linecap="round" fill="none"/>
<path d="M1200.3 899.4h0M1207.1 955.5h0M1202.1 932.0h0M1192.2 903.6h0M1190.8 906.0h0M1209.6 904.6h0M1206.6 932.0h0M1211.7 950.6h0M1191.6 903.4h0M1199.5 936.3h0M1211.5 903.3h0M1190.3 937.2h0M1214.1 919.2h0M1203.4 955.8h0M1209.1 907.9h0M1208.4 909.7h0M1198.6 953.8h0M1211.6 927.4h0M1200.0 905.4h0M1208.5 916.9h0M1211.9 913.8h0M1209.5 931.7h0M1193.9 944.9h0M1207.0 904.4h0M1209.3 936.6h0M1199.4 958.3h0M1190.7 900.3h0M1190.9 885.3h0M1201.5 959.5h0M1205.7 901.8h0M1201.9 936.7h0M1213.5 954.3h0M1210.8 888.8h0M1204.2 933.4h0M1191.9 881.6h0M1208.6 922.3h0M1199.0 940.2h0M1205.7 914.3h0M1207.1 891.9h0M1207.0 919.5h0M1210.6 906.0h0M1208.0 913.8h0M1205.8 942.0h0M1210.0 942.2h0M1189.8 926.2h0M1200.2 894.6h0M1193.5 906.8h0M1191.5 911.6h0M1204.5 891.7h0M1193.3 914.3h0M1197.1 950.4h0M1202.5 905.7h0M1206.8 939.3h0M1201.2 916.4h0M1203.1 947.7h0M1203.8 920.7h0M1207.7 902.9h0M1210.5 927.8h0M1212.5 915.8h0M1201.7 911.1h0M1209.4 930.6h0M1214.0 892.6h0M1199.3 920.7h0M1212.1 911.6h0M1199.9 943.7h0M1206.9 903.0h0M1190.9 904.9h0M1189.8 923.4h0M1209.3 902.4h0M1196.8 938.4h0M1196.4 898.9h0M1190.8 915.6h0M1202.3 896.9h0M1209.8 926.6h0M1202.5 911.1h0M1191.2 895.4h0M1202.0 900.7h0M1191.3 903.2h0M1191.8 943.4h0M1199.7 919.8h0M1191.8 953.9h0M1204.4 948.4h0M1206.6 918.6h0M1202.8 924.7h0M1190.2 922.9h0M1189.9 878.7h0M1193.9 907.0h0M1212.6 935.2h0M1206.4 909.2h0M1200.4 916.5h0M1211.0 908.5h0M1193.5 882.3h0M1195.2 956.9h0M1209.0 934.4h0M1192.1 918.8h0M1210.4 954.0h0M1190.7 940.3h0M1203.5 954.8h0M1210.5 930.7h0M1190.1 940.6h0M1194.8 937.0h0M1191.5 919.0h0M1189.3 906.0h0M1197.5 946.1h0M1193.2 915.2h0M1208.9 940.4h0M1194.9 944.2h0M1206.9 906.0h0M1211.2 906.0h0M1197.8 940.5h0M1211.0 939.1h0M1203.4 959.1h0M1212.5 940.8h0M1202.1 940.3h0M1210.9 959.1h0M1205.0 905.1h0M1207.6 950.5h0M1192.4 946.8h0M1199.2 882.6h0M1205.9 906.2h0M1211.1 912.5h0M1206.7 907.6h0M1199.3 914.7h0M1198.8 906.0h0M1204.6 927.5h0M1211.0 917.4h0M1211.8 953.9h0M1200.7 914.6h0M1205.6 960.3h0M1210.9 938.6h0M1207.3 946.8h0M1211.7 933.4h0M1202.8 899.1h0M1207.9 924.3h0M1198.6 930.5h0M1212.9 891.0h0M1200.7 905.9h0M1211.0 923.2h0M1204.2 910.4h0M1208.7 890.8h0M1208.9 902.1h0M1212.7 890.0h0M1207.4 933.1h0M1197.5 941.2h0M1211.3 938.5h0M1200.7 940.3h0M1197.0 929.3h0M1199.3 912.4h0M1200.9 927.2h0M1211.3 921.8h0M1197.2 921.0h0M1199.6 930.0h0M1203.6 929.7h0M1200.2 935.1h0M1190.7 911.9h0M1198.2 958.2h0M1196.1 920.0h0M1210.5 887.2h0M1200.7 931.8h0M1205.0 928.7h0M1208.8 955.6h0M1202.6 943.2h0M1192.6 935.0h0M1211.1 909.9h0M1200.7 957.5h0M1195.5 922.7h0M1194.1 913.1h0M1194.2 913.2h0M1205.9 958.2h0M1208.6 942.5h0M1197.1 904.8h0M1214.1 936.9h0M1208.4 901.8h0M1208.8 884.9h0M1210.7 916.7h0M1207.0 880.9h0M1209.7 919.8h0M1205.3 952.3h0M1195.7 944.2h0M1203.5 954.6h0M1196.1 906.9h0M1208.4 891.6h0M1196.2 939.4h0M1201.7 932.1h0M1200.3 958.7h0M1199.0 911.8h0M1202.5 923.4h0M1208.8 905.7h0M1199.6 934.8h0M1193.2 922.8h0M1203.7 957.0h0M1195.5 901.4h0M1209.8 918.3h0M1202.4 918.4h0M1191.9 915.6h0M1208.1 897.7h0M1202.6 905.9h0M1209.1 954.4h0M1205.1 894.1h0M1189.4 918.1h0M1193.3 937.2h0M1200.1 941.1h0M1192.5 915.3h0M1192.3 939.8h0M1194.6 932.9h0M1214.1 905.7h0" stroke="#E18727" stroke-width="4.0" stroke-linecap="round" fill="none"/>
<path d="M1262.6 959.4h0M1257.9 940.2h0M1275.5 923.3h0M1263.4 943.2h0M1252.5 926.3h0M1267.5 927.4h0M1258.9 938.6h0M1270.0 951.9h0M1271.1 958.1h0M1269.4 926.7h0M1271.3 944.7h0M1271.8 938.3h0M1260.1 939.3h0M1255.1 919.1h0M1254.3 938.2h0M1257.0 939.2h0M1275.8 928.9h0M1253.4 959.4h0M1261.5 958.5h0M1276.3 955.5h0M1273.6 922.5h0M1274.8 953.1h0M1266.1 943.2h0M1276.5 933.2h0M1259.0 958.1h0M1263.9 921.9h0M1262.1 959.2h0M1274.0 939.9h0M1274.2 957.1h0M1267.5 920.2h0M1258.0 944.5h0M1273.6 929.6h0M1253.8 922.3h0M1267.0 940.1h0M1251.6 947.8h0M1254.5 953.5h0M1275.3 954.7h0M1259.9 942.6h0M1269.0 950.4h0M1263.3 957.0h0M1258.2 919.3h0M1269.6 956.1h0M1276.4 945.4h0M1271.2 955.9h0M1258.1 933.0h0M1267.9 891.6h0M1256.4 942.6h0M1255.0 925.5h0M1275.6 922.2h0M1257.7 923.3h0M1260.4 951.6h0M1267.5 932.7h0M1257.5 941.4h0M1264.2 915.0h0M1264.0 947.3h0M1273.5 930.2h0M1275.9 960.3h0M1270.1 930.1h0M1273.6 928.0h0M1269.2 958.6h0M1251.9 955.7h0M1251.8 959.8h0M1262.8 955.4h0M1273.2 923.0h0M1271.5 947.2h0M1273.8 946.2h0M1274.2 945.5h0M1271.6 909.6h0M1276.4 950.1h0M1259.7 910.4h0M1269.7 921.3h0M1267.0 957.3h0M1266.2 957.9h0M1258.7 946.8h0M1258.3 923.4h0" stroke="#20854E" stroke-width="4.0" stroke-linecap="round" fill="none"/>
<path d="M1330.3 934.8h0M1324.1 915.4h0M1323.9 921.9h0M1326.2 910.0h0M1334.1 889.4h0M1318.0 907.1h0M1333.3 897.8h0M1320.9 889.6h0M1316.6 932.1h0M1331.7 933.0h0M1323.9 915.1h0M1337.9 920.4h0M1323.0 888.7h0M1328.5 901.7h0M1321.4 948.9h0M1332.9 910.1h0M1326.8 944.6h0M1314.8 880.7h0M1315.8 912.6h0M1330.8 948.4h0M1324.8 905.2h0M1330.6 882.8h0M1329.9 915.0h0M1315.9 926.3h0M1329.2 904.7h0M1327.3 932.3h0M1325.6 902.9h0M1327.7 929.2h0M1323.9 890.8h0M1324.5 928.8h0M1331.1 925.1h0M1337.3 933.3h0M1331.2 940.5h0M1328.0 925.7h0M1318.9 911.4h0M1334.1 914.3h0M1314.1 923.2h0M1325.0 897.1h0M1330.3 912.1h0M1336.3 951.0h0M1337.7 931.1h0M1316.6 911.8h0M1321.2 893.3h0M1335.3 894.9h0M1329.8 894.5h0M1330.6 913.8h0M1332.2 891.6h0M1313.9 936.5h0M1325.9 915.7h0M1323.3 891.5h0M1316.7 878.3h0M1324.5 910.0h0M1327.1 921.9h0M1316.7 889.5h0M1335.1 890.0h0M1335.3 900.0h0M1316.4 878.2h0M1323.7 890.9h0M1320.8 893.7h0M1319.7 888.3h0M1338.2 935.1h0M1330.4 910.0h0M1338.0 904.1h0M1325.7 924.6h0M1322.5 925.1h0M1325.3 921.6h0M1325.7 937.2h0M1320.5 900.8h0M1333.5 895.3h0M1333.1 874.8h0M1321.7 920.7h0M1315.2 875.9h0M1316.4 904.3h0M1329.5 940.4h0M1333.9 875.9h0M1338.5 919.0h0M1325.1 891.6h0M1331.2 890.7h0M1322.4 873.6h0M1320.6 952.7h0M1336.1 898.1h0M1317.9 912.0h0M1332.2 886.8h0M1335.2 872.7h0M1331.0 922.0h0M1320.8 883.4h0M1332.9 901.4h0M1314.7 931.1h0M1326.7 903.4h0M1330.1 918.0h0M1334.6 921.2h0M1333.8 892.9h0M1314.0 909.5h0M1314.7 908.5h0M1321.8 910.5h0M1315.2 888.4h0M1329.5 892.6h0M1316.1 908.9h0M1322.1 893.0h0M1317.7 891.5h0M1337.4 894.5h0M1322.1 876.9h0M1336.3 902.3h0M1317.0 887.7h0M1333.3 925.3h0M1314.0 948.1h0M1324.8 919.5h0M1322.3 938.7h0M1328.7 886.0h0M1328.8 896.2h0M1322.3 940.3h0M1333.7 932.0h0M1322.0 928.7h0M1313.7 902.9h0M1325.7 884.6h0M1328.1 936.4h0M1326.8 934.9h0M1334.4 903.7h0M1320.6 913.8h0M1320.5 933.1h0M1337.9 905.6h0M1336.6 907.5h0M1330.6 891.6h0M1329.7 933.5h0M1328.7 919.7h0M1325.7 912.1h0M1319.0 907.1h0M1333.9 891.6h0M1334.1 911.0h0M1321.3 891.6h0M1324.1 890.8h0M1318.7 902.9h0M1318.5 936.5h0M1325.9 891.4h0M1320.7 903.4h0M1330.1 883.2h0M1328.5 947.8h0M1337.3 919.5h0M1325.5 904.5h0M1324.9 947.7h0M1328.8 898.5h0M1324.6 900.1h0M1324.6 901.5h0M1325.0 891.0h0M1334.7 889.0h0M1331.1 922.5h0M1328.4 943.1h0M1332.2 881.7h0M1329.5 926.3h0M1315.5 941.3h0M1338.4 883.6h0M1320.8 951.8h0M1322.0 916.9h0M1333.4 883.5h0M1321.5 882.3h0M1320.5 906.5h0M1330.0 913.7h0M1320.4 885.8h0M1321.2 945.7h0M1315.8 950.8h0M1329.1 929.0h0" stroke="#7876B1" stroke-width="4.0" stroke-linecap="round" fill="none"/>
<line x1="1038.60" y1="741.10" x2="1038.60" y2="970.30" stroke="#000" stroke-width="1.07"/>
<line x1="1038.60" y1="970.30" x2="1363.30" y2="970.30" stroke="#000" stroke-width="1.07"/>
<line x1="1035.90" y1="960.30" x2="1038.60" y2="960.30" stroke="#000" stroke-width="1"/>
<text x="1033.60" y="964.10" font-family="'Liberation Serif',serif" font-size="11" text-anchor="end" fill="#4D4D4D" color="#4D4D4D">0</text>
<line x1="1035.90" y1="906.24" x2="1038.60" y2="906.24" stroke="#000" stroke-width="1"/>
<text x="1033.60" y="910.04" font-family="'Liberation Serif',serif" font-size="11" text-anchor="end" fill="#4D4D4D" color="#4D4D4D">3</text>
<line x1="1035.90" y1="852.18" x2="1038.60" y2="852.18" stroke="#000" stroke-width="1"/>
<text x="1033.60" y="855.98" font-family="'Liberation Serif',serif" font-size="11" text-anchor="end" fill="#4D4D4D" color="#4D4D4D">6</text>
<line x1="1035.90" y1="798.12" x2="1038.60" y2="798.12" stroke="#000" stroke-width="1"/>
<text x="1033.60" y="801.92" font-family="'Liberation Serif',serif" font-size="11" text-anchor="end" fill="#4D4D4D" color="#4D4D4D">9</text>
<line x1="1035.90" y1="744.06" x2="1038.60" y2="744.06" stroke="#000" stroke-width="1"/>
<text x="1033.60" y="747.86" font-family="'Liberation Serif',serif" font-size="11" text-anchor="end" fill="#4D4D4D" color="#4D4D4D">12</text>
<line x1="1076.20" y1="970.30" x2="1076.20" y2="973.00" stroke="#000" stroke-width="1"/>
<text x="1076.20" y="983.80" font-family="'Liberation Serif',serif" font-size="12.5" text-anchor="middle" fill="#000">G1</text>
<text x="1076.20" y="997.90" font-family="'Liberation Serif',serif" font-size="12.5" text-anchor="middle" fill="#000">(n=14)</text>
<line x1="1138.70" y1="970.30" x2="1138.70" y2="973.00" stroke="#000" stroke-width="1"/>
<text x="1138.70" y="983.80" font-family="'Liberation Serif',serif" font-size="12.5" text-anchor="middle" fill="#000">G2</text>
<text x="1138.70" y="997.90" font-family="'Liberation Serif',serif" font-size="12.5" text-anchor="middle" fill="#000">(n=227)</text>
<line x1="1201.60" y1="970.30" x2="1201.60" y2="973.00" stroke="#000" stroke-width="1"/>
<text x="1201.60" y="983.80" font-family="'Liberation Serif',serif" font-size="12.5" text-anchor="middle" fill="#000">G3</text>
<text x="1201.60" y="997.90" font-family="'Liberation Serif',serif" font-size="12.5" text-anchor="middle" fill="#000">(n=206)</text>
<line x1="1264.00" y1="970.30" x2="1264.00" y2="973.00" stroke="#000" stroke-width="1"/>
<text x="1264.00" y="983.80" font-family="'Liberation Serif',serif" font-size="12.5" text-anchor="middle" fill="#000">G4</text>
<text x="1264.00" y="997.90" font-family="'Liberation Serif',serif" font-size="12.5" text-anchor="middle" fill="#000">(n=75)</text>
<line x1="1326.20" y1="970.30" x2="1326.20" y2="973.00" stroke="#000" stroke-width="1"/>
<text x="1326.20" y="983.80" font-family="'Liberation Serif',serif" font-size="12.5" text-anchor="middle" fill="#000">Normal</text>
<text x="1326.20" y="997.90" font-family="'Liberation Serif',serif" font-size="12.5" text-anchor="middle" fill="#000">(n=161)</text>
<path d="M1076.20,859.40 L1076.20,857.10 L1138.70,857.10 L1138.70,859.40" fill="none" stroke="#333" stroke-width="0.8"/>
<text x="1107.45" y="854.70" font-family="'Liberation Serif',serif" font-size="12" text-anchor="middle" fill="#333" color="#333">*</text>
<path d="M1076.20,847.67 L1076.20,845.37 L1201.60,845.37 L1201.60,847.67" fill="none" stroke="#333" stroke-width="0.8"/>
<text x="1138.90" y="842.97" font-family="'Liberation Serif',serif" font-size="12" text-anchor="middle" fill="#333" color="#333">**</text>
<path d="M1076.20,835.94 L1076.20,833.64 L1264.00,833.64 L1264.00,835.94" fill="none" stroke="#333" stroke-width="0.8"/>
<text x="1170.10" y="831.24" font-family="'Liberation Serif',serif" font-size="12" text-anchor="middle" fill="#333" color="#333">****</text>
<path d="M1076.20,824.21 L1076.20,821.91 L1326.20,821.91 L1326.20,824.21" fill="none" stroke="#333" stroke-width="0.8"/>
<text x="1201.20" y="818.71" font-family="'Liberation Serif',serif" font-size="11.5" text-anchor="middle" fill="#333" color="#333">ns</text>
<path d="M1138.70,812.48 L1138.70,810.18 L1201.60,810.18 L1201.60,812.48" fill="none" stroke="#333" stroke-width="0.8"/>
<text x="1170.15" y="807.78" font-family="'Liberation Serif',serif" font-size="12" text-anchor="middle" fill="#333" color="#333">**</text>
<path d="M1138.70,800.75 L1138.70,798.45 L1264.00,798.45 L1264.00,800.75" fill="none" stroke="#333" stroke-width="0.8"/>
<text x="1201.35" y="796.05" font-family="'Liberation Serif',serif" font-size="12" text-anchor="middle" fill="#333" color="#333">****</text>
<path d="M1138.70,789.02 L1138.70,786.72 L1326.20,786.72 L1326.20,789.02" fill="none" stroke="#333" stroke-width="0.8"/>
<text x="1232.45" y="784.32" font-family="'Liberation Serif',serif" font-size="12" text-anchor="middle" fill="#333" color="#333">***</text>
<path d="M1201.60,777.29 L1201.60,774.99 L1264.00,774.99 L1264.00,777.29" fill="none" stroke="#333" stroke-width="0.8"/>
<text x="1232.80" y="772.59" font-family="'Liberation Serif',serif" font-size="12" text-anchor="middle" fill="#333" color="#333">****</text>
<path d="M1201.60,765.56 L1201.60,763.26 L1326.20,763.26 L1326.20,765.56" fill="none" stroke="#333" stroke-width="0.8"/>
<text x="1263.90" y="760.86" font-family="'Liberation Serif',serif" font-size="12" text-anchor="middle" fill="#333" color="#333">****</text>
<path d="M1264.00,753.83 L1264.00,751.53 L1326.20,751.53 L1326.20,753.83" fill="none" stroke="#333" stroke-width="0.8"/>
<text x="1295.10" y="749.13" font-family="'Liberation Serif',serif" font-size="12" text-anchor="middle" fill="#333" color="#333">****</text>
<text x="1038.90" y="731.90" font-family="'Liberation Serif',serif" font-size="15.5" textLength="183.2" lengthAdjust="spacingAndGlyphs" fill="#000">Kruskal−Wallis test p=2.1e−20</text>
<text x="1018.60" y="855.70" font-family="'Liberation Serif',serif" font-size="12.7" text-anchor="middle" fill="#000" transform="rotate(-90 1018.60 855.70)">FREM2 expression</text>
<line x1="1513.40" y1="761.15" x2="1513.40" y2="831.77" stroke="#BC3C29" stroke-width="1"/>
<line x1="1513.40" y1="904.04" x2="1513.40" y2="959.80" stroke="#BC3C29" stroke-width="1"/>
<line x1="1484.03" y1="761.15" x2="1542.77" y2="761.15" stroke="#BC3C29" stroke-width="1"/>
<line x1="1484.03" y1="959.80" x2="1542.77" y2="959.80" stroke="#BC3C29" stroke-width="1"/>
<rect x="1475.75" y="831.77" width="75.30" height="72.27" fill="#fff" stroke="#BC3C29" stroke-width="1"/>
<line x1="1475.75" y1="859.44" x2="1551.05" y2="859.44" stroke="#BC3C29" stroke-width="1.6"/>
<line x1="1664.00" y1="764.86" x2="1664.00" y2="863.57" stroke="#0072B5" stroke-width="1"/>
<line x1="1664.00" y1="934.19" x2="1664.00" y2="958.97" stroke="#0072B5" stroke-width="1"/>
<line x1="1634.63" y1="764.86" x2="1693.37" y2="764.86" stroke="#0072B5" stroke-width="1"/>
<line x1="1634.63" y1="958.97" x2="1693.37" y2="958.97" stroke="#0072B5" stroke-width="1"/>
<rect x="1626.35" y="863.57" width="75.30" height="70.62" fill="#fff" stroke="#0072B5" stroke-width="1"/>
<line x1="1626.35" y1="900.33" x2="1701.65" y2="900.33" stroke="#0072B5" stroke-width="1.6"/>
<path d="M1502.2 831.8h0M1505.8 920.7h0M1487.7 848.8h0M1530.7 827.9h0M1532.0 857.4h0M1498.8 817.1h0M1533.0 831.8h0M1536.7 908.7h0M1523.0 809.3h0M1531.9 846.9h0M1539.8 893.8h0M1503.8 910.9h0M1485.7 901.1h0M1522.1 889.5h0M1507.2 943.1h0M1510.4 853.0h0M1521.8 919.7h0M1540.9 814.7h0M1521.6 867.5h0M1521.6 908.7h0M1499.3 821.7h0M1505.9 850.7h0M1500.9 853.5h0M1528.1 890.6h0M1538.8 833.6h0M1490.1 853.5h0M1523.9 936.4h0M1532.9 835.1h0M1523.5 903.8h0M1529.8 774.1h0M1535.6 836.0h0M1485.2 845.8h0M1529.8 849.0h0M1535.8 827.5h0M1537.2 856.5h0M1483.5 908.0h0M1511.6 844.8h0M1520.1 885.1h0M1484.2 935.4h0M1536.8 875.8h0M1486.6 855.5h0M1489.0 832.0h0M1511.8 851.9h0M1483.8 779.9h0M1524.7 859.7h0M1543.1 847.6h0M1512.1 871.9h0M1515.8 837.9h0M1507.6 841.9h0M1535.0 831.4h0M1485.9 830.0h0M1520.5 951.0h0M1532.3 800.6h0M1542.9 818.3h0M1509.3 870.3h0M1503.0 851.6h0M1537.8 868.2h0M1502.2 870.5h0M1510.0 832.9h0M1537.1 829.9h0M1506.8 914.7h0M1493.7 943.6h0M1503.8 834.9h0M1503.2 834.0h0M1492.5 880.4h0M1498.8 873.2h0M1521.4 895.2h0M1541.2 868.0h0M1483.3 848.9h0M1506.7 831.4h0M1532.9 851.0h0M1491.3 829.6h0M1500.7 860.0h0M1510.8 885.9h0M1487.8 839.2h0M1494.4 901.4h0M1526.4 895.1h0M1516.3 858.4h0M1488.4 832.6h0M1487.8 831.6h0M1485.8 874.2h0M1489.0 861.4h0M1497.4 892.1h0M1499.0 911.0h0M1520.0 951.9h0M1492.9 954.2h0M1495.3 876.6h0M1493.2 898.2h0M1514.9 860.7h0M1523.3 939.0h0M1486.0 848.1h0M1496.9 823.9h0M1540.7 834.1h0M1527.4 895.0h0M1515.6 823.6h0M1526.7 885.4h0M1486.3 910.9h0M1484.8 850.3h0M1505.1 836.9h0M1511.3 923.5h0M1539.8 854.5h0M1486.2 945.4h0M1529.0 887.5h0M1516.4 827.0h0M1523.7 807.5h0M1502.4 919.1h0M1533.4 895.2h0M1533.3 800.1h0M1505.4 869.5h0M1518.4 910.4h0M1498.3 838.3h0M1486.1 854.7h0M1503.9 837.4h0M1484.2 838.1h0M1498.8 935.2h0M1537.9 840.2h0M1497.3 831.3h0M1528.6 807.8h0M1502.0 824.3h0M1533.9 796.2h0M1540.7 888.4h0M1488.2 904.2h0M1533.8 827.8h0M1533.6 832.1h0M1498.0 859.9h0M1492.3 827.5h0M1542.3 900.1h0M1506.6 956.0h0M1519.3 952.6h0M1504.8 851.9h0M1484.8 911.6h0M1534.9 856.2h0M1517.7 900.3h0M1488.2 842.7h0M1525.9 909.6h0M1523.8 866.7h0M1485.6 914.5h0M1541.2 852.2h0M1517.1 877.5h0M1536.6 943.2h0M1542.3 900.9h0M1491.6 927.2h0M1508.2 839.7h0M1537.4 835.9h0M1514.3 857.7h0M1485.4 840.6h0M1501.1 865.0h0M1485.8 871.7h0M1525.4 865.6h0M1493.7 840.5h0M1526.8 841.4h0M1538.6 911.2h0M1514.0 813.6h0M1517.2 884.6h0M1506.0 810.5h0M1492.2 904.9h0M1505.6 829.3h0M1531.9 831.7h0M1534.3 828.0h0M1527.2 886.9h0M1488.9 904.1h0M1530.0 838.7h0M1542.7 872.8h0M1541.1 842.5h0M1535.1 831.6h0M1529.8 831.6h0M1535.3 913.1h0M1491.2 878.3h0M1510.3 912.8h0M1501.0 831.1h0M1496.8 850.2h0M1522.9 950.3h0M1523.7 847.4h0M1512.9 877.2h0M1508.2 945.6h0M1516.2 878.2h0M1498.6 871.2h0M1536.9 925.4h0M1501.2 915.8h0M1495.7 906.1h0M1527.0 860.5h0M1484.6 824.3h0M1506.1 910.0h0M1534.8 831.4h0M1488.9 824.8h0M1509.5 876.7h0M1495.3 952.3h0M1535.2 938.5h0M1530.2 908.0h0M1538.1 824.0h0M1520.3 824.2h0M1488.9 930.7h0M1494.5 944.6h0M1502.8 870.5h0M1531.0 917.8h0M1488.1 890.9h0M1498.4 830.3h0M1521.0 803.7h0M1529.1 891.9h0M1493.9 876.7h0M1511.3 840.2h0M1540.4 836.8h0M1514.1 792.4h0M1495.7 791.7h0M1542.0 883.9h0M1487.6 857.9h0M1510.6 836.2h0M1495.8 850.9h0M1503.9 813.6h0M1487.4 836.4h0M1509.3 891.5h0M1502.1 860.3h0M1517.9 829.9h0M1500.5 813.9h0M1529.1 844.7h0M1484.5 831.0h0M1534.3 919.8h0M1532.8 799.7h0M1502.0 910.8h0M1497.3 827.6h0M1487.6 906.5h0M1525.2 876.5h0M1505.4 904.9h0M1496.5 844.4h0M1525.9 930.6h0M1492.2 835.1h0M1526.2 851.0h0M1496.0 799.9h0M1499.5 894.9h0M1499.8 852.4h0M1537.9 814.9h0M1486.0 867.1h0M1483.6 951.1h0M1511.2 839.6h0M1531.5 860.5h0M1526.1 902.1h0M1503.4 926.6h0M1502.1 844.5h0M1483.8 902.1h0M1515.3 855.3h0M1535.4 890.5h0M1489.4 800.1h0M1527.3 864.4h0M1493.8 835.9h0M1529.0 921.0h0M1530.5 909.2h0M1527.9 809.0h0M1517.1 820.7h0M1495.6 908.6h0M1502.5 914.9h0M1540.7 888.7h0M1512.0 906.3h0M1535.5 776.9h0M1495.3 892.1h0M1522.7 899.9h0M1491.0 886.7h0M1533.3 929.0h0M1537.0 883.9h0M1542.7 931.7h0M1511.3 888.9h0M1493.4 897.8h0M1496.6 830.3h0M1539.1 786.7h0M1502.0 829.4h0M1490.2 824.2h0M1508.8 876.1h0M1484.4 908.1h0M1486.7 946.7h0M1504.7 905.5h0M1485.4 948.4h0M1522.7 889.4h0M1495.5 857.8h0M1531.7 871.6h0M1517.2 896.4h0M1533.9 810.4h0M1532.5 818.5h0M1543.5 910.3h0M1513.7 905.9h0M1532.2 908.2h0M1502.1 851.2h0M1498.6 836.6h0M1488.3 848.6h0M1538.7 869.2h0M1489.5 905.6h0M1507.3 836.3h0M1486.0 842.8h0M1542.2 910.2h0M1519.2 831.2h0M1523.9 911.1h0M1526.5 851.4h0M1486.3 831.7h0M1530.8 878.7h0M1493.0 866.8h0M1501.6 789.3h0M1495.1 830.2h0M1492.8 842.6h0M1539.0 778.1h0M1510.1 892.6h0M1503.2 831.6h0M1522.2 892.3h0M1529.1 801.3h0M1500.6 796.5h0M1511.8 831.6h0M1520.7 909.3h0M1507.0 951.4h0M1522.0 877.1h0M1535.3 855.2h0M1496.4 859.0h0M1507.7 905.2h0M1520.8 819.8h0M1520.0 849.6h0M1496.4 853.8h0M1522.1 847.4h0M1509.4 838.7h0M1524.7 857.7h0M1536.7 903.8h0M1509.6 838.8h0M1539.8 954.4h0M1514.7 832.3h0M1542.7 857.3h0M1505.6 842.3h0M1492.7 856.5h0M1531.6 833.4h0M1532.6 852.2h0M1500.7 909.6h0M1500.7 938.7h0M1523.9 910.2h0M1486.8 869.5h0M1528.8 952.9h0M1486.5 904.4h0M1539.8 863.3h0M1509.6 942.5h0M1505.7 895.7h0M1488.4 814.7h0M1515.7 907.1h0M1537.6 863.8h0M1495.9 827.3h0M1531.8 832.1h0M1503.6 884.5h0M1517.2 856.6h0M1507.9 886.0h0M1488.3 895.9h0M1524.6 825.1h0M1521.4 798.4h0M1493.7 882.7h0M1541.5 885.2h0M1517.7 893.7h0M1503.5 869.9h0M1515.2 953.9h0M1525.6 825.9h0M1506.2 840.7h0M1536.8 865.1h0M1526.2 851.2h0M1487.5 821.8h0M1513.2 818.5h0M1499.6 947.0h0M1503.4 882.9h0M1505.2 952.7h0M1499.8 865.8h0M1539.7 794.3h0M1522.8 904.1h0M1503.2 851.1h0M1541.3 847.6h0M1486.2 833.9h0M1495.8 848.6h0M1489.8 791.9h0M1515.8 955.8h0M1520.1 829.4h0M1506.8 840.7h0M1533.4 854.4h0M1507.3 903.3h0M1540.0 773.7h0M1495.1 941.7h0M1524.7 952.8h0M1494.0 853.8h0M1517.0 859.3h0M1538.7 843.5h0M1510.9 829.4h0M1501.6 904.3h0M1541.4 874.5h0M1537.0 880.9h0M1496.6 800.4h0M1511.6 922.9h0M1526.1 890.6h0M1539.2 945.2h0M1517.0 915.0h0M1511.5 914.1h0M1535.0 833.8h0M1483.4 928.8h0M1500.3 893.3h0M1543.3 835.0h0M1515.4 875.6h0M1501.4 831.3h0M1518.0 935.7h0M1497.4 942.3h0M1521.5 922.0h0M1489.4 842.6h0M1506.1 938.5h0M1496.5 904.3h0M1505.3 851.2h0M1534.0 900.3h0M1495.7 869.7h0M1514.6 908.1h0M1506.1 848.8h0M1484.7 824.1h0M1493.3 845.1h0M1516.1 864.3h0M1484.7 938.8h0M1519.1 761.1h0M1539.8 891.0h0M1491.1 895.7h0M1532.8 952.8h0M1518.7 855.4h0M1511.2 885.2h0M1509.3 775.7h0M1532.5 811.2h0M1537.7 857.5h0M1538.6 959.8h0M1514.3 907.7h0M1487.0 870.7h0M1521.5 867.8h0M1533.1 845.9h0M1537.6 842.5h0M1492.6 853.9h0M1511.6 827.4h0M1513.4 791.2h0M1511.8 823.1h0M1507.5 917.9h0M1484.8 914.9h0M1523.2 934.8h0M1500.4 855.1h0M1512.7 898.4h0M1511.3 946.3h0M1511.2 932.1h0M1528.3 888.2h0M1499.5 856.9h0M1485.8 831.4h0M1503.0 877.5h0M1536.6 880.2h0M1503.8 888.3h0" stroke="#BC3C29" stroke-width="4.2" stroke-linecap="round" fill="none"/>
<path d="M1657.1 893.9h0M1668.8 951.9h0M1683.2 946.7h0M1688.2 913.9h0M1690.8 918.3h0M1667.4 764.9h0M1655.1 877.2h0M1671.1 930.1h0M1661.0 817.4h0M1682.4 855.5h0M1671.7 844.7h0M1692.1 870.7h0M1673.2 934.2h0M1651.1 954.9h0M1679.9 772.1h0M1673.8 863.1h0M1678.0 845.1h0M1633.9 912.5h0M1669.7 933.0h0M1643.6 935.2h0M1654.2 944.2h0M1659.5 871.2h0M1648.5 911.3h0M1673.2 898.3h0M1679.9 891.5h0M1676.7 936.4h0M1665.7 942.3h0M1667.3 874.2h0M1638.1 851.6h0M1650.9 931.9h0M1634.7 915.0h0M1653.5 867.7h0M1679.7 943.5h0M1672.9 889.5h0M1653.8 863.4h0M1680.8 822.9h0M1675.4 926.6h0M1689.6 847.3h0M1689.5 959.0h0M1653.4 920.6h0M1672.9 876.7h0M1651.6 872.6h0M1640.1 853.5h0M1691.4 911.5h0M1691.1 792.1h0M1656.0 890.1h0M1685.9 806.7h0M1677.7 898.2h0M1639.7 857.1h0M1682.9 891.5h0M1634.8 938.3h0M1634.1 941.7h0M1691.4 905.3h0M1671.8 853.0h0M1637.4 899.1h0M1692.5 859.2h0M1640.3 903.9h0M1680.6 862.6h0M1675.0 863.3h0M1662.6 835.2h0M1653.6 934.8h0M1684.4 935.9h0M1668.3 936.4h0M1641.4 918.1h0M1673.1 906.8h0M1679.6 862.4h0M1655.8 846.0h0M1644.0 855.8h0M1690.8 863.4h0M1663.3 885.2h0M1678.9 936.4h0M1683.4 947.3h0M1647.4 899.1h0M1653.4 875.2h0M1663.2 910.2h0M1677.9 937.1h0M1659.8 943.3h0M1682.7 805.5h0M1656.2 868.1h0M1677.6 912.7h0" stroke="#0072B5" stroke-width="4.2" stroke-linecap="round" fill="none"/>
<line x1="1423.70" y1="741.10" x2="1423.70" y2="970.20" stroke="#000" stroke-width="1.07"/>
<line x1="1423.70" y1="970.20" x2="1754.10" y2="970.20" stroke="#000" stroke-width="1.07"/>
<line x1="1421.00" y1="959.80" x2="1423.70" y2="959.80" stroke="#000" stroke-width="1"/>
<text x="1418.70" y="963.60" font-family="'Liberation Serif',serif" font-size="11" text-anchor="end" fill="#4D4D4D" color="#4D4D4D">0</text>
<line x1="1421.00" y1="918.50" x2="1423.70" y2="918.50" stroke="#000" stroke-width="1"/>
<text x="1418.70" y="922.30" font-family="'Liberation Serif',serif" font-size="11" text-anchor="end" fill="#4D4D4D" color="#4D4D4D">1</text>
<line x1="1421.00" y1="877.20" x2="1423.70" y2="877.20" stroke="#000" stroke-width="1"/>
<text x="1418.70" y="881.00" font-family="'Liberation Serif',serif" font-size="11" text-anchor="end" fill="#4D4D4D" color="#4D4D4D">2</text>
<line x1="1421.00" y1="835.90" x2="1423.70" y2="835.90" stroke="#000" stroke-width="1"/>
<text x="1418.70" y="839.70" font-family="'Liberation Serif',serif" font-size="11" text-anchor="end" fill="#4D4D4D" color="#4D4D4D">3</text>
<line x1="1421.00" y1="794.60" x2="1423.70" y2="794.60" stroke="#000" stroke-width="1"/>
<text x="1418.70" y="798.40" font-family="'Liberation Serif',serif" font-size="11" text-anchor="end" fill="#4D4D4D" color="#4D4D4D">4</text>
<line x1="1421.00" y1="753.30" x2="1423.70" y2="753.30" stroke="#000" stroke-width="1"/>
<text x="1418.70" y="757.10" font-family="'Liberation Serif',serif" font-size="11" text-anchor="end" fill="#4D4D4D" color="#4D4D4D">5</text>
<line x1="1513.40" y1="970.20" x2="1513.40" y2="972.90" stroke="#000" stroke-width="1"/>
<text x="1513.40" y="984.40" font-family="'Liberation Sans',sans-serif" font-size="11.2" text-anchor="middle" fill="#000">M0</text>
<text x="1513.40" y="997.80" font-family="'Liberation Serif',serif" font-size="12.5" text-anchor="middle" fill="#000">(n=440)</text>
<line x1="1664.00" y1="970.20" x2="1664.00" y2="972.90" stroke="#000" stroke-width="1"/>
<text x="1664.00" y="984.40" font-family="'Liberation Sans',sans-serif" font-size="11.2" text-anchor="middle" fill="#000">M1</text>
<text x="1664.00" y="997.80" font-family="'Liberation Serif',serif" font-size="12.5" text-anchor="middle" fill="#000">(n=80)</text>
<path d="M1513.40,757.40 L1513.40,750.90 L1664.00,750.90 L1664.00,757.40" fill="none" stroke="#333" stroke-width="0.8"/>
<text x="1588.70" y="748.50" font-family="'Liberation Serif',serif" font-size="12" text-anchor="middle" fill="#333" color="#333">****</text>
<text x="1424.00" y="731.50" font-family="'Liberation Serif',serif" font-size="15.5" textLength="137.9" lengthAdjust="spacingAndGlyphs" fill="#000">wilcox.tests p=5.9e−06</text>
<text x="1407.70" y="855.65" font-family="'Liberation Serif',serif" font-size="12.7" text-anchor="middle" fill="#000" transform="rotate(-90 1407.70 855.65)">FREM2 expression</text>
<text x="1.4" y="28.8" font-family="'Liberation Sans',sans-serif" font-weight="bold" font-size="36" fill="#000">A</text>
<text x="609.3" y="28.8" font-family="'Liberation Sans',sans-serif" font-weight="bold" font-size="36" fill="#000">B</text>
<text x="1007.2" y="28.8" font-family="'Liberation Sans',sans-serif" font-weight="bold" font-size="36" fill="#000">C</text>
<text x="1392.3" y="28.8" font-family="'Liberation Sans',sans-serif" font-weight="bold" font-size="36" fill="#000">D</text>
<text x="4.0" y="365.3" font-family="'Liberation Sans',sans-serif" font-weight="bold" font-size="36" fill="#000">E</text>
<text x="608.3" y="365.3" font-family="'Liberation Sans',sans-serif" font-weight="bold" font-size="36" fill="#000">F</text>
<text x="1002.7" y="365.3" font-family="'Liberation Sans',sans-serif" font-weight="bold" font-size="36" fill="#000">G</text>
<text x="1394.4" y="365.3" font-family="'Liberation Sans',sans-serif" font-weight="bold" font-size="36" fill="#000">H</text>
<text x="11.1" y="706.6" font-family="'Liberation Sans',sans-serif" font-weight="bold" font-size="36" fill="#000">I</text>
<text x="609.2" y="706.6" font-family="'Liberation Sans',sans-serif" font-weight="bold" font-size="36" fill="#000">J</text>
<text x="1004.9" y="706.6" font-family="'Liberation Sans',sans-serif" font-weight="bold" font-size="36" fill="#000">K</text>
<text x="1397.5" y="706.6" font-family="'Liberation Sans',sans-serif" font-weight="bold" font-size="36" fill="#000">L</text>
<text x="23.3" y="161.4" font-family="'Liberation Sans',sans-serif" font-size="25" text-anchor="middle" textLength="65.4" lengthAdjust="spacingAndGlyphs" fill="#000" transform="rotate(-90 23.3 161.4)">FRAS1</text>
<text x="24.8" y="496.9" font-family="'Liberation Sans',sans-serif" font-size="25" text-anchor="middle" textLength="72" lengthAdjust="spacingAndGlyphs" fill="#000" transform="rotate(-90 24.8 496.9)">FREM1</text>
<text x="24.7" y="856.5" font-family="'Liberation Sans',sans-serif" font-size="25" text-anchor="middle" textLength="76.2" lengthAdjust="spacingAndGlyphs" fill="#000" transform="rotate(-90 24.7 856.5)">FREM2</text>
<rect x="1768.4" y="476.4" width="1.3" height="1.3" fill="#777"/>
</svg></body></html>
